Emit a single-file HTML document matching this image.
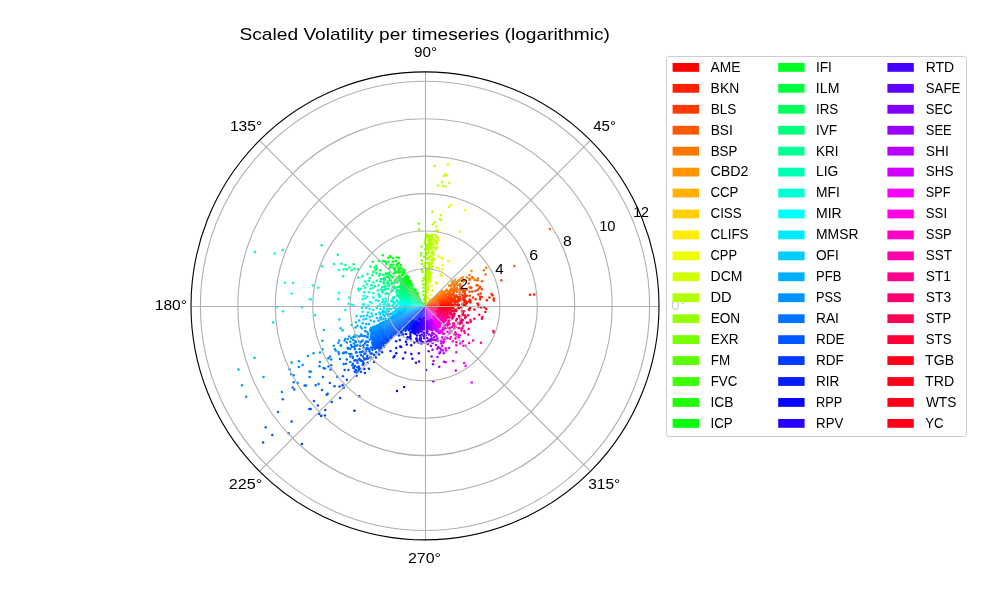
<!DOCTYPE html><html><head><meta charset="utf-8"><style>html,body{margin:0;padding:0;background:#fff;overflow:hidden}svg{display:block;will-change:transform}text{font-family:"Liberation Sans",sans-serif;fill:#000}</style></head><body><svg width="1000" height="600" viewBox="0 0 1000 600"><rect x="0" y="0" width="1000" height="600" fill="#fff"/><g><path d="M425.00 305.90 L446.00 305.95 L446.00 305.72 L446.00 305.48 Z" fill="#ff0c00"/><path d="M425.00 305.90 L446.00 305.59 L445.99 305.35 L445.99 305.11 Z" fill="#ff0c00"/><path d="M425.00 305.90 L445.99 305.22 L445.98 304.98 L445.97 304.75 Z" fill="#ff1200"/><path d="M425.00 305.90 L445.97 304.86 L445.96 304.62 L445.94 304.38 Z" fill="#ff1800"/><path d="M425.00 305.90 L445.95 304.49 L445.94 304.25 L445.92 304.01 Z" fill="#ff1800"/><path d="M425.00 305.90 L445.92 304.12 L445.90 303.89 L445.88 303.65 Z" fill="#ff1e00"/><path d="M425.00 305.90 L445.89 303.76 L445.87 303.52 L445.84 303.29 Z" fill="#ff1e00"/><path d="M425.00 305.90 L445.85 303.40 L445.82 303.16 L445.79 302.92 Z" fill="#ff2300"/><path d="M425.00 305.90 L445.80 303.03 L445.77 302.80 L445.73 302.56 Z" fill="#ff2300"/><path d="M425.00 305.90 L445.75 302.67 L445.71 302.43 L445.67 302.20 Z" fill="#ff2900"/><path d="M425.00 305.90 L445.69 302.31 L445.65 302.07 L445.60 301.84 Z" fill="#ff2900"/><path d="M425.00 305.90 L445.62 301.95 L445.58 301.71 L445.53 301.48 Z" fill="#ff2f00"/><path d="M425.00 305.90 L445.55 301.59 L445.50 301.35 L445.45 301.12 Z" fill="#ff3500"/><path d="M425.00 305.90 L445.47 301.23 L445.42 301.00 L445.36 300.77 Z" fill="#ff3500"/><path d="M425.00 305.90 L445.39 300.87 L445.33 300.64 L445.27 300.41 Z" fill="#ff3b00"/><path d="M425.00 305.90 L445.30 300.52 L445.17 300.31 L445.04 300.10 Z" fill="#ff3b00"/><path d="M425.00 305.90 L445.07 300.20 L444.94 299.99 L444.81 299.79 Z" fill="#ff4100"/><path d="M425.00 305.90 L444.84 299.89 L444.71 299.69 L444.58 299.48 Z" fill="#ff4100"/><path d="M425.00 305.90 L444.61 299.59 L444.47 299.38 L444.33 299.19 Z" fill="#ff4700"/><path d="M425.00 305.90 L444.37 299.29 L444.23 299.09 L444.09 298.90 Z" fill="#ff4700"/><path d="M425.00 305.90 L444.13 299.00 L443.98 298.80 L443.84 298.61 Z" fill="#ff4d00"/><path d="M425.00 305.90 L443.88 298.71 L443.73 298.52 L443.59 298.33 Z" fill="#ff5300"/><path d="M425.00 305.90 L443.63 298.43 L443.48 298.25 L443.33 298.06 Z" fill="#ff5300"/><path d="M425.00 305.90 L443.37 298.16 L443.22 297.98 L443.07 297.80 Z" fill="#ff5900"/><path d="M425.00 305.90 L443.11 297.89 L442.96 297.72 L442.80 297.54 Z" fill="#ff5900"/><path d="M425.00 305.90 L442.85 297.64 L442.69 297.46 L442.53 297.29 Z" fill="#ff5f00"/><path d="M425.00 305.90 L442.58 297.38 L442.42 297.21 L442.26 297.05 Z" fill="#ff5f00"/><path d="M425.00 305.90 L442.31 297.14 L442.15 296.97 L441.99 296.81 Z" fill="#ff6400"/><path d="M425.00 305.90 L442.04 296.90 L441.87 296.74 L441.71 296.58 Z" fill="#ff6400"/><path d="M425.00 305.90 L441.76 296.67 L441.59 296.51 L441.43 296.36 Z" fill="#ff6a00"/><path d="M425.00 305.90 L441.48 296.44 L441.25 296.33 L441.02 296.22 Z" fill="#ff7000"/><path d="M425.00 305.90 L441.07 296.30 L440.83 296.20 L440.60 296.09 Z" fill="#ff7000"/><path d="M425.00 305.90 L440.65 296.18 L440.42 296.08 L440.19 295.98 Z" fill="#ff7600"/><path d="M425.00 305.90 L440.24 296.06 L440.01 295.97 L439.78 295.88 Z" fill="#ff7600"/><path d="M425.00 305.90 L439.83 295.95 L439.60 295.87 L439.37 295.78 Z" fill="#ff7c00"/><path d="M425.00 305.90 L439.42 295.86 L439.19 295.78 L438.96 295.70 Z" fill="#ff7c00"/><path d="M425.00 305.90 L439.01 295.78 L438.78 295.70 L438.55 295.63 Z" fill="#ff8200"/><path d="M425.00 305.90 L438.60 295.70 L437.83 296.06 L437.06 296.43 Z" fill="#ff8200"/><path d="M425.00 305.90 L437.11 296.49 L436.35 296.87 L435.60 297.27 Z" fill="#ff8800"/><path d="M425.00 305.90 L435.64 297.33 L434.90 297.74 L434.17 298.16 Z" fill="#ff8800"/><path d="M425.00 305.90 L434.21 298.21 L432.41 299.57 L430.65 300.96 Z" fill="#ff8e00"/><path d="M425.00 305.90 L430.67 300.99 L428.93 302.42 L427.22 303.89 Z" fill="#ff9400"/><path d="M425.00 305.90 L427.23 303.90 L427.21 303.87 L427.19 303.85 Z" fill="#ff9400"/><path d="M425.00 305.90 L427.20 303.86 L427.18 303.83 L427.15 303.81 Z" fill="#ff9a00"/><path d="M425.00 305.90 L427.16 303.82 L427.14 303.80 L427.12 303.77 Z" fill="#ff9a00"/><path d="M425.00 305.90 L427.13 303.78 L427.10 303.76 L427.08 303.74 Z" fill="#ff9f00"/><path d="M425.00 305.90 L427.09 303.75 L427.07 303.72 L427.04 303.70 Z" fill="#ffa500"/><path d="M425.00 305.90 L427.05 303.71 L427.03 303.69 L427.00 303.67 Z" fill="#ffa500"/><path d="M425.00 305.90 L427.01 303.68 L426.99 303.65 L426.96 303.63 Z" fill="#ffab00"/><path d="M425.00 305.90 L426.97 303.64 L426.95 303.62 L426.92 303.60 Z" fill="#ffb100"/><path d="M425.00 305.90 L426.93 303.61 L426.91 303.59 L426.88 303.56 Z" fill="#ffb700"/><path d="M425.00 305.90 L426.89 303.57 L426.87 303.55 L426.84 303.53 Z" fill="#ffb700"/><path d="M425.00 305.90 L426.85 303.54 L426.83 303.52 L426.80 303.50 Z" fill="#ffbd00"/><path d="M425.00 305.90 L426.81 303.51 L426.78 303.49 L426.76 303.47 Z" fill="#ffc300"/><path d="M425.00 305.90 L426.77 303.48 L426.74 303.46 L426.71 303.44 Z" fill="#ffc900"/><path d="M425.00 305.90 L426.73 303.45 L426.70 303.43 L426.67 303.41 Z" fill="#ffc900"/><path d="M425.00 305.90 L426.68 303.42 L426.66 303.40 L426.63 303.38 Z" fill="#ffcf00"/><path d="M425.00 305.90 L426.64 303.39 L426.61 303.37 L426.58 303.35 Z" fill="#ffd500"/><path d="M425.00 305.90 L426.60 303.36 L426.57 303.34 L426.54 303.32 Z" fill="#ffdb00"/><path d="M425.00 305.90 L426.55 303.33 L426.52 303.32 L426.49 303.30 Z" fill="#ffdb00"/><path d="M425.00 305.90 L426.51 303.31 L426.48 303.29 L426.45 303.27 Z" fill="#ffe000"/><path d="M425.00 305.90 L426.46 303.28 L426.43 303.26 L426.40 303.25 Z" fill="#ffe600"/><path d="M425.00 305.90 L426.42 303.25 L426.39 303.24 L426.35 303.22 Z" fill="#ffec00"/><path d="M425.00 305.90 L426.37 303.23 L426.34 303.22 L426.31 303.20 Z" fill="#ffec00"/><path d="M425.00 305.90 L426.32 303.21 L426.29 303.19 L426.26 303.18 Z" fill="#fef100"/><path d="M425.00 305.90 L426.27 303.18 L426.24 303.17 L426.21 303.16 Z" fill="#fcf500"/><path d="M425.00 305.90 L426.23 303.16 L426.20 303.15 L426.16 303.14 Z" fill="#fcf500"/><path d="M425.00 305.90 L426.18 303.14 L426.15 303.13 L426.12 303.12 Z" fill="#faf900"/><path d="M425.00 305.90 L426.13 303.12 L426.10 303.11 L426.07 303.10 Z" fill="#f8fd00"/><path d="M425.00 305.90 L426.08 303.10 L426.05 303.09 L426.02 303.08 Z" fill="#f4ff00"/><path d="M425.00 305.90 L426.03 303.08 L426.00 303.07 L425.97 303.06 Z" fill="#f4ff00"/><path d="M425.00 305.90 L425.98 303.07 L425.95 303.06 L425.92 303.04 Z" fill="#eeff00"/><path d="M425.00 305.90 L425.93 303.05 L425.90 303.04 L425.87 303.03 Z" fill="#e8ff00"/><path d="M425.00 305.90 L425.88 303.03 L425.85 303.02 L425.82 303.01 Z" fill="#e2ff00"/><path d="M425.00 305.90 L425.83 303.02 L425.80 303.01 L425.77 303.00 Z" fill="#e2ff00"/><path d="M425.00 305.90 L425.78 303.00 L425.75 303.00 L425.72 302.99 Z" fill="#ddff00"/><path d="M425.00 305.90 L425.73 302.99 L425.70 302.98 L425.67 302.98 Z" fill="#d7ff00"/><path d="M425.00 305.90 L425.68 302.98 L425.65 302.97 L425.62 302.96 Z" fill="#d1ff00"/><path d="M425.00 305.90 L425.63 302.97 L425.85 301.74 L426.04 300.50 Z" fill="#d1ff00"/><path d="M425.00 305.90 L426.06 300.50 L426.23 299.26 L426.37 298.02 Z" fill="#cbff00"/><path d="M425.00 305.90 L426.41 298.03 L427.31 292.09 L428.08 286.14 Z" fill="#c5ff00"/><path d="M425.00 305.90 L428.18 286.15 L428.84 280.19 L429.37 274.20 Z" fill="#bfff00"/><path d="M425.00 305.90 L429.54 274.22 L429.18 274.17 L428.82 274.13 Z" fill="#bfff00"/><path d="M425.00 305.90 L428.98 274.15 L428.62 274.11 L428.26 274.07 Z" fill="#b9ff00"/><path d="M425.00 305.90 L428.43 274.08 L428.07 274.05 L427.71 274.01 Z" fill="#b3ff00"/><path d="M425.00 305.90 L427.87 274.03 L427.51 274.00 L427.15 273.97 Z" fill="#adff00"/><path d="M425.00 305.90 L427.32 273.98 L426.95 273.96 L426.59 273.94 Z" fill="#adff00"/><path d="M425.00 305.90 L426.76 273.95 L426.40 273.93 L426.03 273.92 Z" fill="#a7ff00"/><path d="M425.00 305.90 L426.20 273.92 L425.63 281.91 L425.24 289.90 Z" fill="#a2ff00"/><path d="M425.00 305.90 L425.32 289.90 L425.07 297.90 L424.99 300.40 Z" fill="#9cff00"/><path d="M425.00 305.90 L425.01 300.40 L424.97 302.90 L424.94 302.90 Z" fill="#9cff00"/><path d="M425.00 305.90 L424.96 302.90 L424.92 302.90 L424.89 302.90 Z" fill="#96ff00"/><path d="M425.00 305.90 L424.90 302.90 L424.87 302.90 L424.84 302.90 Z" fill="#90ff00"/><path d="M425.00 305.90 L424.85 302.90 L424.82 302.91 L424.78 302.91 Z" fill="#8aff00"/><path d="M425.00 305.90 L424.80 302.91 L424.76 302.91 L424.73 302.91 Z" fill="#84ff00"/><path d="M425.00 305.90 L424.75 302.91 L424.71 302.91 L424.68 302.92 Z" fill="#7eff00"/><path d="M425.00 305.90 L424.69 302.92 L424.66 302.92 L424.63 302.92 Z" fill="#78ff00"/><path d="M425.00 305.90 L424.64 302.92 L424.61 302.93 L424.57 302.93 Z" fill="#72ff00"/><path d="M425.00 305.90 L424.59 302.93 L424.56 302.93 L424.52 302.94 Z" fill="#6cff00"/><path d="M425.00 305.90 L424.54 302.94 L424.50 302.94 L424.47 302.95 Z" fill="#6cff00"/><path d="M425.00 305.90 L424.49 302.94 L424.45 302.95 L424.42 302.96 Z" fill="#66ff00"/><path d="M425.00 305.90 L424.44 302.95 L424.40 302.96 L424.37 302.97 Z" fill="#61ff00"/><path d="M425.00 305.90 L424.38 302.96 L424.35 302.97 L424.32 302.98 Z" fill="#5bff00"/><path d="M425.00 305.90 L424.33 302.98 L424.30 302.98 L424.27 302.99 Z" fill="#55ff00"/><path d="M425.00 305.90 L424.28 302.99 L424.25 303.00 L424.22 303.00 Z" fill="#4fff00"/><path d="M425.00 305.90 L424.23 303.00 L424.20 303.01 L424.17 303.02 Z" fill="#49ff00"/><path d="M425.00 305.90 L424.18 303.01 L424.15 303.02 L424.12 303.03 Z" fill="#43ff00"/><path d="M425.00 305.90 L424.13 303.03 L424.10 303.04 L424.07 303.05 Z" fill="#3dff00"/><path d="M425.00 305.90 L424.08 303.04 L424.05 303.06 L424.02 303.07 Z" fill="#3dff00"/><path d="M425.00 305.90 L424.03 303.06 L424.00 303.07 L423.97 303.08 Z" fill="#37ff00"/><path d="M425.00 305.90 L423.98 303.08 L423.95 303.09 L423.92 303.10 Z" fill="#31ff00"/><path d="M425.00 305.90 L423.93 303.10 L423.90 303.11 L423.87 303.12 Z" fill="#2bff00"/><path d="M425.00 305.90 L423.88 303.12 L423.85 303.13 L423.82 303.14 Z" fill="#25ff00"/><path d="M425.00 305.90 L423.84 303.14 L423.80 303.15 L423.77 303.16 Z" fill="#20ff00"/><path d="M425.00 305.90 L423.79 303.16 L423.76 303.17 L423.73 303.18 Z" fill="#1aff00"/><path d="M425.00 305.90 L423.74 303.18 L423.71 303.19 L423.68 303.21 Z" fill="#14ff00"/><path d="M425.00 305.90 L423.69 303.20 L423.66 303.22 L423.63 303.23 Z" fill="#0eff00"/><path d="M425.00 305.90 L423.65 303.22 L423.61 303.24 L423.58 303.25 Z" fill="#08ff00"/><path d="M425.00 305.90 L423.60 303.25 L423.57 303.26 L423.54 303.28 Z" fill="#08ff00"/><path d="M425.00 305.90 L423.55 303.27 L423.52 303.29 L423.49 303.31 Z" fill="#06ff04"/><path d="M425.00 305.90 L423.51 303.30 L418.74 295.27 L413.79 287.36 Z" fill="#04ff08"/><path d="M425.00 305.90 L413.89 287.30 L408.80 279.47 L408.50 279.65 Z" fill="#02ff0c"/><path d="M425.00 305.90 L408.64 279.57 L408.34 279.75 L408.05 279.95 Z" fill="#00ff10"/><path d="M425.00 305.90 L408.18 279.86 L407.89 280.05 L407.60 280.25 Z" fill="#00ff10"/><path d="M425.00 305.90 L407.73 280.15 L407.44 280.35 L407.15 280.55 Z" fill="#00ff16"/><path d="M425.00 305.90 L407.29 280.46 L407.00 280.66 L406.71 280.87 Z" fill="#00ff1b"/><path d="M425.00 305.90 L406.84 280.77 L406.56 280.98 L406.28 281.19 Z" fill="#00ff21"/><path d="M425.00 305.90 L406.41 281.09 L406.13 281.31 L405.85 281.52 Z" fill="#00ff21"/><path d="M425.00 305.90 L405.98 281.42 L405.70 281.64 L405.43 281.86 Z" fill="#00ff27"/><path d="M425.00 305.90 L405.55 281.76 L405.28 281.98 L405.01 282.20 Z" fill="#00ff2d"/><path d="M425.00 305.90 L405.14 282.10 L404.87 282.33 L404.60 282.56 Z" fill="#00ff33"/><path d="M425.00 305.90 L404.72 282.45 L404.46 282.68 L404.20 282.92 Z" fill="#00ff33"/><path d="M425.00 305.90 L404.32 282.81 L404.06 283.04 L403.80 283.28 Z" fill="#00ff39"/><path d="M425.00 305.90 L403.92 283.17 L403.66 283.41 L403.41 283.66 Z" fill="#00ff3f"/><path d="M425.00 305.90 L403.52 283.54 L403.27 283.79 L403.02 284.04 Z" fill="#00ff3f"/><path d="M425.00 305.90 L403.14 283.92 L403.03 284.31 L402.93 284.70 Z" fill="#00ff45"/><path d="M425.00 305.90 L403.04 284.59 L402.95 284.97 L402.86 285.36 Z" fill="#00ff4b"/><path d="M425.00 305.90 L402.97 285.25 L402.88 285.63 L402.80 286.02 Z" fill="#00ff51"/><path d="M425.00 305.90 L402.91 285.90 L402.83 286.29 L402.76 286.67 Z" fill="#00ff51"/><path d="M425.00 305.90 L402.86 286.55 L402.80 286.94 L402.74 287.32 Z" fill="#00ff57"/><path d="M425.00 305.90 L402.83 287.20 L402.78 287.58 L402.73 287.96 Z" fill="#00ff5c"/><path d="M425.00 305.90 L402.82 287.84 L402.77 288.22 L402.73 288.60 Z" fill="#00ff5c"/><path d="M425.00 305.90 L402.82 288.48 L402.79 288.85 L402.75 289.23 Z" fill="#00ff62"/><path d="M425.00 305.90 L402.84 289.11 L402.81 289.48 L402.79 289.85 Z" fill="#00ff68"/><path d="M425.00 305.90 L402.88 289.74 L402.86 290.10 L402.84 290.47 Z" fill="#00ff6e"/><path d="M425.00 305.90 L402.92 290.36 L402.91 290.72 L402.91 291.08 Z" fill="#00ff6e"/><path d="M425.00 305.90 L402.99 290.97 L402.99 291.33 L402.99 291.69 Z" fill="#00ff74"/><path d="M425.00 305.90 L403.06 291.57 L403.07 291.93 L403.08 292.29 Z" fill="#00ff7a"/><path d="M425.00 305.90 L403.16 292.17 L403.17 292.52 L403.19 292.88 Z" fill="#00ff7a"/><path d="M425.00 305.90 L403.26 292.76 L403.29 293.11 L403.32 293.46 Z" fill="#00ff80"/><path d="M425.00 305.90 L403.38 293.34 L403.36 293.66 L403.34 293.97 Z" fill="#00ff86"/><path d="M425.00 305.90 L403.40 293.85 L403.38 294.16 L403.37 294.47 Z" fill="#00ff8c"/><path d="M425.00 305.90 L403.43 294.36 L403.42 294.66 L403.41 294.97 Z" fill="#00ff8c"/><path d="M425.00 305.90 L403.47 294.86 L403.46 295.16 L403.46 295.46 Z" fill="#00ff92"/><path d="M425.00 305.90 L403.52 295.35 L403.52 295.65 L403.52 295.95 Z" fill="#00ff97"/><path d="M425.00 305.90 L403.58 295.84 L403.59 296.14 L403.60 296.44 Z" fill="#00ff97"/><path d="M425.00 305.90 L403.65 296.33 L403.66 296.62 L403.68 296.92 Z" fill="#00ff9d"/><path d="M425.00 305.90 L403.73 296.81 L403.75 297.10 L403.78 297.39 Z" fill="#00ffa3"/><path d="M425.00 305.90 L403.82 297.28 L403.85 297.57 L403.88 297.86 Z" fill="#00ffa9"/><path d="M425.00 305.90 L403.92 297.75 L403.96 298.03 L403.99 298.32 Z" fill="#00ffa9"/><path d="M425.00 305.90 L404.03 298.21 L404.07 298.49 L404.12 298.77 Z" fill="#00ffaf"/><path d="M425.00 305.90 L404.15 298.66 L404.20 298.94 L404.25 299.22 Z" fill="#00ffb5"/><path d="M425.00 305.90 L404.28 299.11 L404.34 299.38 L404.39 299.66 Z" fill="#00ffbb"/><path d="M425.00 305.90 L404.42 299.55 L404.48 299.82 L404.54 300.09 Z" fill="#00ffbb"/><path d="M425.00 305.90 L404.57 299.98 L404.64 300.25 L404.70 300.52 Z" fill="#00ffc1"/><path d="M425.00 305.90 L404.73 300.41 L404.67 300.64 L404.61 300.87 Z" fill="#00ffc7"/><path d="M425.00 305.90 L404.64 300.77 L404.58 301.00 L404.53 301.23 Z" fill="#00ffc7"/><path d="M425.00 305.90 L404.55 301.12 L404.50 301.35 L404.45 301.59 Z" fill="#00ffcd"/><path d="M425.00 305.90 L404.47 301.48 L404.42 301.71 L404.38 301.95 Z" fill="#00ffd3"/><path d="M425.00 305.90 L404.40 301.84 L404.35 302.07 L404.31 302.31 Z" fill="#00ffd8"/><path d="M425.00 305.90 L404.33 302.20 L404.29 302.43 L404.25 302.67 Z" fill="#00ffd8"/><path d="M425.00 305.90 L404.27 302.56 L404.23 302.80 L404.20 303.03 Z" fill="#00ffde"/><path d="M425.00 305.90 L404.21 302.92 L404.18 303.16 L404.15 303.40 Z" fill="#00ffe4"/><path d="M425.00 305.90 L404.16 303.29 L404.13 303.52 L404.11 303.76 Z" fill="#00ffe4"/><path d="M425.00 305.90 L404.12 303.65 L404.10 303.89 L404.08 304.12 Z" fill="#00ffea"/><path d="M425.00 305.90 L404.08 304.01 L404.06 304.25 L404.05 304.49 Z" fill="#00fff0"/><path d="M425.00 305.90 L404.06 304.38 L404.04 304.62 L404.03 304.86 Z" fill="#00fff6"/><path d="M425.00 305.90 L404.03 304.75 L404.02 304.98 L404.01 305.22 Z" fill="#00fff6"/><path d="M425.00 305.90 L404.01 305.11 L404.01 305.35 L404.00 305.59 Z" fill="#00fffc"/><path d="M425.00 305.90 L404.00 305.48 L404.00 305.72 L404.00 305.95 Z" fill="#00fcff"/><path d="M425.00 305.90 L404.00 305.85 L403.93 306.08 L403.87 306.32 Z" fill="#00fcff"/><path d="M425.00 305.90 L403.87 306.21 L403.81 306.45 L403.75 306.70 Z" fill="#00f6ff"/><path d="M425.00 305.90 L403.74 306.59 L403.69 306.83 L403.63 307.08 Z" fill="#00f0ff"/><path d="M425.00 305.90 L403.63 306.96 L403.57 307.21 L403.52 307.46 Z" fill="#00eaff"/><path d="M425.00 305.90 L403.52 307.35 L403.47 307.59 L403.42 307.84 Z" fill="#00eaff"/><path d="M425.00 305.90 L403.41 307.73 L403.37 307.98 L403.33 308.24 Z" fill="#00e5ff"/><path d="M425.00 305.90 L403.31 308.12 L403.27 308.38 L403.24 308.63 Z" fill="#00dfff"/><path d="M425.00 305.90 L403.22 308.52 L403.19 308.77 L403.16 309.03 Z" fill="#00dfff"/><path d="M425.00 305.90 L403.14 308.91 L403.11 309.17 L403.08 309.43 Z" fill="#00d9ff"/><path d="M425.00 305.90 L403.06 309.32 L403.04 309.58 L403.02 309.84 Z" fill="#00d3ff"/><path d="M425.00 305.90 L403.00 309.72 L402.98 309.98 L402.96 310.24 Z" fill="#00cdff"/><path d="M425.00 305.90 L402.93 310.13 L402.92 310.39 L402.91 310.66 Z" fill="#00cdff"/><path d="M425.00 305.90 L402.88 310.54 L402.87 310.81 L402.86 311.07 Z" fill="#00c7ff"/><path d="M425.00 305.90 L402.84 310.96 L402.83 311.22 L402.83 311.49 Z" fill="#00c1ff"/><path d="M425.00 305.90 L402.80 311.37 L402.80 311.64 L402.80 311.91 Z" fill="#00bbff"/><path d="M425.00 305.90 L402.77 311.79 L401.58 312.39 L400.41 313.02 Z" fill="#00bbff"/><path d="M425.00 305.90 L400.37 312.89 L399.21 313.54 L398.05 314.22 Z" fill="#00b5ff"/><path d="M425.00 305.90 L398.01 314.07 L396.87 314.77 L395.73 315.49 Z" fill="#00afff"/><path d="M425.00 305.90 L395.68 315.34 L394.56 316.09 L393.45 316.86 Z" fill="#00afff"/><path d="M425.00 305.90 L393.39 316.69 L392.29 317.48 L391.20 318.30 Z" fill="#00aaff"/><path d="M425.00 305.90 L391.14 318.12 L388.16 319.67 L385.21 321.29 Z" fill="#00a4ff"/><path d="M425.00 305.90 L385.13 321.09 L382.20 322.76 L379.31 324.50 Z" fill="#009eff"/><path d="M425.00 305.90 L379.21 324.26 L376.34 326.05 L373.51 327.92 Z" fill="#009eff"/><path d="M425.00 305.90 L373.39 327.65 L373.46 328.31 L373.54 328.97 Z" fill="#0098ff"/><path d="M425.00 305.90 L373.42 328.70 L373.50 329.37 L373.58 330.04 Z" fill="#0092ff"/><path d="M425.00 305.90 L373.46 329.77 L373.55 330.44 L373.65 331.11 Z" fill="#0092ff"/><path d="M425.00 305.90 L373.52 330.84 L373.63 331.51 L373.75 332.18 Z" fill="#008cff"/><path d="M425.00 305.90 L373.61 331.92 L373.73 332.59 L373.86 333.26 Z" fill="#0086ff"/><path d="M425.00 305.90 L373.72 333.00 L373.85 333.67 L374.00 334.35 Z" fill="#0080ff"/><path d="M425.00 305.90 L373.85 334.08 L374.00 334.76 L374.15 335.43 Z" fill="#0080ff"/><path d="M425.00 305.90 L374.00 335.17 L374.16 335.84 L374.34 336.52 Z" fill="#007aff"/><path d="M425.00 305.90 L374.18 336.26 L374.35 336.94 L374.54 337.62 Z" fill="#0074ff"/><path d="M425.00 305.90 L374.37 337.35 L374.57 338.03 L374.77 338.71 Z" fill="#0074ff"/><path d="M425.00 305.90 L374.59 338.45 L374.80 339.13 L375.01 339.81 Z" fill="#006eff"/><path d="M425.00 305.90 L374.84 339.54 L375.06 340.22 L375.29 340.90 Z" fill="#006eff"/><path d="M425.00 305.90 L375.10 340.64 L375.34 341.32 L375.58 342.00 Z" fill="#0069ff"/><path d="M425.00 305.90 L375.39 341.74 L375.64 342.42 L375.90 343.10 Z" fill="#0063ff"/><path d="M425.00 305.90 L375.71 342.84 L375.97 343.52 L376.24 344.20 Z" fill="#0063ff"/><path d="M425.00 305.90 L376.04 343.94 L376.63 344.37 L377.23 344.79 Z" fill="#005dff"/><path d="M425.00 305.90 L377.03 344.54 L377.62 344.96 L378.22 345.36 Z" fill="#0057ff"/><path d="M425.00 305.90 L378.02 345.12 L378.62 345.52 L379.22 345.91 Z" fill="#0057ff"/><path d="M425.00 305.90 L379.01 345.67 L379.61 346.05 L380.22 346.43 Z" fill="#0051ff"/><path d="M425.00 305.90 L380.01 346.20 L380.62 346.57 L381.23 346.93 Z" fill="#0051ff"/><path d="M425.00 305.90 L381.01 346.70 L387.64 341.35 L394.15 335.85 Z" fill="#004bff"/><path d="M425.00 305.90 L393.99 335.69 L400.39 330.08 L406.66 324.33 Z" fill="#0045ff"/><path d="M425.00 305.90 L406.57 324.24 L406.83 324.39 L407.09 324.54 Z" fill="#0045ff"/><path d="M425.00 305.90 L406.99 324.45 L407.26 324.60 L407.52 324.74 Z" fill="#003fff"/><path d="M425.00 305.90 L407.42 324.65 L407.69 324.79 L407.95 324.93 Z" fill="#003fff"/><path d="M425.00 305.90 L407.85 324.84 L408.12 324.98 L408.39 325.11 Z" fill="#0039ff"/><path d="M425.00 305.90 L408.29 325.03 L408.55 325.16 L408.82 325.29 Z" fill="#0033ff"/><path d="M425.00 305.90 L408.72 325.20 L408.99 325.33 L409.26 325.45 Z" fill="#0033ff"/><path d="M425.00 305.90 L409.15 325.36 L409.42 325.48 L409.69 325.60 Z" fill="#002dff"/><path d="M425.00 305.90 L409.59 325.52 L409.86 325.63 L410.13 325.75 Z" fill="#0028ff"/><path d="M425.00 305.90 L410.02 325.67 L410.29 325.78 L410.56 325.88 Z" fill="#0028ff"/><path d="M425.00 305.90 L410.46 325.80 L410.73 325.91 L411.00 326.01 Z" fill="#0022ff"/><path d="M425.00 305.90 L410.89 325.93 L411.17 326.03 L411.44 326.12 Z" fill="#0022ff"/><path d="M425.00 305.90 L411.33 326.05 L411.60 326.14 L411.87 326.23 Z" fill="#001cff"/><path d="M425.00 305.90 L411.77 326.16 L412.04 326.25 L412.31 326.33 Z" fill="#0016ff"/><path d="M425.00 305.90 L412.20 326.26 L412.47 326.34 L412.74 326.42 Z" fill="#0016ff"/><path d="M425.00 305.90 L412.64 326.35 L412.91 326.43 L413.18 326.50 Z" fill="#0010ff"/><path d="M425.00 305.90 L413.07 326.44 L413.34 326.51 L413.61 326.57 Z" fill="#0010ff"/><path d="M425.00 305.90 L413.50 326.51 L413.77 326.57 L414.05 326.63 Z" fill="#020cff"/><path d="M425.00 305.90 L413.94 326.58 L414.21 326.63 L414.48 326.69 Z" fill="#0408ff"/><path d="M425.00 305.90 L414.37 326.63 L414.64 326.68 L414.91 326.73 Z" fill="#0408ff"/><path d="M425.00 305.90 L414.80 326.68 L415.07 326.73 L415.33 326.77 Z" fill="#0604ff"/><path d="M425.00 305.90 L415.23 326.72 L415.50 326.76 L415.76 326.79 Z" fill="#0800ff"/><path d="M425.00 305.90 L415.66 326.74 L415.92 326.77 L416.19 326.80 Z" fill="#0800ff"/><path d="M425.00 305.90 L416.08 326.75 L416.35 326.78 L416.62 326.80 Z" fill="#0e00ff"/><path d="M425.00 305.90 L416.51 326.76 L416.78 326.78 L417.04 326.80 Z" fill="#0e00ff"/><path d="M425.00 305.90 L416.93 326.75 L417.20 326.77 L417.46 326.78 Z" fill="#1300ff"/><path d="M425.00 305.90 L417.35 326.74 L417.62 326.75 L417.88 326.76 Z" fill="#1900ff"/><path d="M425.00 305.90 L417.77 326.72 L418.03 326.73 L418.29 326.73 Z" fill="#1900ff"/><path d="M425.00 305.90 L418.18 326.69 L418.44 326.69 L418.70 326.69 Z" fill="#1f00ff"/><path d="M425.00 305.90 L418.60 326.65 L418.85 326.65 L419.11 326.64 Z" fill="#1f00ff"/><path d="M425.00 305.90 L419.00 326.61 L419.26 326.60 L419.52 326.59 Z" fill="#2500ff"/><path d="M425.00 305.90 L419.41 326.56 L419.66 326.54 L419.92 326.52 Z" fill="#2b00ff"/><path d="M425.00 305.90 L419.81 326.50 L420.06 326.48 L420.31 326.45 Z" fill="#2b00ff"/><path d="M425.00 305.90 L420.20 326.43 L420.45 326.40 L420.70 326.37 Z" fill="#3100ff"/><path d="M425.00 305.90 L420.60 326.35 L420.85 326.32 L421.09 326.29 Z" fill="#3700ff"/><path d="M425.00 305.90 L420.99 326.27 L421.23 326.23 L421.48 326.20 Z" fill="#3700ff"/><path d="M425.00 305.90 L421.37 326.18 L421.61 326.14 L421.86 326.10 Z" fill="#3d00ff"/><path d="M425.00 305.90 L421.75 326.08 L421.99 326.04 L422.23 325.99 Z" fill="#3d00ff"/><path d="M425.00 305.90 L422.13 325.98 L422.36 325.93 L422.60 325.88 Z" fill="#4300ff"/><path d="M425.00 305.90 L422.50 325.86 L422.73 325.81 L422.97 325.76 Z" fill="#4900ff"/><path d="M425.00 305.90 L422.86 325.75 L423.09 325.69 L423.33 325.63 Z" fill="#4900ff"/><path d="M425.00 305.90 L423.22 325.62 L423.45 325.56 L423.68 325.50 Z" fill="#4f00ff"/><path d="M425.00 305.90 L423.58 325.49 L423.81 325.42 L424.03 325.36 Z" fill="#4f00ff"/><path d="M425.00 305.90 L423.93 325.35 L424.15 325.28 L424.38 325.21 Z" fill="#5400ff"/><path d="M425.00 305.90 L424.28 325.21 L424.50 325.13 L424.72 325.06 Z" fill="#5a00ff"/><path d="M425.00 305.90 L424.62 325.06 L424.83 324.98 L425.05 324.90 Z" fill="#5a00ff"/><path d="M425.00 305.90 L424.95 324.90 L425.17 324.93 L425.38 324.96 Z" fill="#6000ff"/><path d="M425.00 305.90 L425.28 324.96 L425.50 324.99 L425.72 325.02 Z" fill="#6600ff"/><path d="M425.00 305.90 L425.62 325.02 L425.84 325.05 L426.06 325.07 Z" fill="#6c00ff"/><path d="M425.00 305.90 L425.95 325.08 L426.17 325.10 L426.39 325.12 Z" fill="#6c00ff"/><path d="M425.00 305.90 L426.29 325.12 L426.51 325.14 L426.74 325.16 Z" fill="#7200ff"/><path d="M425.00 305.90 L426.63 325.16 L426.86 325.18 L427.08 325.19 Z" fill="#7800ff"/><path d="M425.00 305.90 L426.98 325.20 L427.20 325.21 L427.42 325.22 Z" fill="#7e00ff"/><path d="M425.00 305.90 L427.32 325.23 L427.55 325.23 L427.77 325.24 Z" fill="#8400ff"/><path d="M425.00 305.90 L427.67 325.25 L427.89 325.25 L428.12 325.25 Z" fill="#8a00ff"/><path d="M425.00 305.90 L428.02 325.27 L428.24 325.26 L428.47 325.26 Z" fill="#8a00ff"/><path d="M425.00 305.90 L428.36 325.28 L428.59 325.27 L428.82 325.26 Z" fill="#9000ff"/><path d="M425.00 305.90 L428.71 325.28 L428.94 325.27 L429.17 325.26 Z" fill="#9500ff"/><path d="M425.00 305.90 L429.07 325.28 L429.29 325.26 L429.52 325.25 Z" fill="#9b00ff"/><path d="M425.00 305.90 L429.42 325.27 L429.65 325.25 L429.87 325.23 Z" fill="#a100ff"/><path d="M425.00 305.90 L429.77 325.25 L430.00 325.23 L430.23 325.20 Z" fill="#a100ff"/><path d="M425.00 305.90 L430.13 325.23 L430.35 325.20 L430.58 325.17 Z" fill="#a700ff"/><path d="M425.00 305.90 L430.48 325.20 L430.71 325.17 L430.94 325.14 Z" fill="#ad00ff"/><path d="M425.00 305.90 L430.84 325.17 L431.06 325.13 L431.29 325.09 Z" fill="#b300ff"/><path d="M425.00 305.90 L431.19 325.13 L431.42 325.09 L431.65 325.05 Z" fill="#b900ff"/><path d="M425.00 305.90 L431.55 325.08 L431.78 325.04 L432.00 324.99 Z" fill="#b900ff"/><path d="M425.00 305.90 L431.90 325.03 L432.13 324.98 L432.36 324.93 Z" fill="#bf00ff"/><path d="M425.00 305.90 L432.26 324.96 L432.49 324.91 L432.72 324.86 Z" fill="#c500ff"/><path d="M425.00 305.90 L432.62 324.90 L432.85 324.84 L433.07 324.78 Z" fill="#cb00ff"/><path d="M425.00 305.90 L432.97 324.82 L433.20 324.76 L433.43 324.70 Z" fill="#d000ff"/><path d="M425.00 305.90 L433.33 324.74 L433.56 324.68 L433.78 324.61 Z" fill="#d000ff"/><path d="M425.00 305.90 L433.69 324.65 L433.91 324.58 L434.14 324.51 Z" fill="#d600ff"/><path d="M425.00 305.90 L434.04 324.56 L434.27 324.48 L434.49 324.41 Z" fill="#dc00ff"/><path d="M425.00 305.90 L434.39 324.46 L434.62 324.38 L434.84 324.30 Z" fill="#e200ff"/><path d="M425.00 305.90 L434.75 324.35 L434.97 324.27 L435.20 324.18 Z" fill="#e800ff"/><path d="M425.00 305.90 L435.10 324.24 L435.32 324.15 L435.55 324.06 Z" fill="#e800ff"/><path d="M425.00 305.90 L435.45 324.11 L435.64 323.97 L435.83 323.82 Z" fill="#ee00ff"/><path d="M425.00 305.90 L435.73 323.87 L435.92 323.72 L436.10 323.57 Z" fill="#f400ff"/><path d="M425.00 305.90 L436.01 323.62 L436.19 323.47 L436.37 323.31 Z" fill="#f800fd"/><path d="M425.00 305.90 L436.28 323.37 L436.46 323.22 L436.64 323.06 Z" fill="#fa00f9"/><path d="M425.00 305.90 L436.55 323.12 L436.72 322.96 L436.90 322.80 Z" fill="#fa00f9"/><path d="M425.00 305.90 L436.81 322.86 L436.98 322.70 L437.15 322.53 Z" fill="#fc00f5"/><path d="M425.00 305.90 L437.06 322.60 L437.23 322.43 L437.40 322.27 Z" fill="#fe00f1"/><path d="M425.00 305.90 L437.31 322.33 L437.48 322.16 L437.64 321.99 Z" fill="#ff00ed"/><path d="M425.00 305.90 L437.56 322.06 L437.72 321.89 L437.88 321.72 Z" fill="#ff00e7"/><path d="M425.00 305.90 L437.80 321.79 L437.95 321.62 L438.11 321.44 Z" fill="#ff00e7"/><path d="M425.00 305.90 L438.03 321.51 L438.18 321.34 L438.34 321.16 Z" fill="#ff00e1"/><path d="M425.00 305.90 L438.26 321.23 L438.41 321.05 L438.56 320.88 Z" fill="#ff00db"/><path d="M425.00 305.90 L438.48 320.95 L438.62 320.77 L438.77 320.59 Z" fill="#ff00d5"/><path d="M425.00 305.90 L438.69 320.66 L438.84 320.48 L438.98 320.30 Z" fill="#ff00cf"/><path d="M425.00 305.90 L438.90 320.37 L439.04 320.19 L439.18 320.01 Z" fill="#ff00c9"/><path d="M425.00 305.90 L439.11 320.08 L439.24 319.89 L439.38 319.71 Z" fill="#ff00c9"/><path d="M425.00 305.90 L439.30 319.78 L439.43 319.60 L439.56 319.41 Z" fill="#ff00c3"/><path d="M425.00 305.90 L439.49 319.49 L439.62 319.30 L439.75 319.11 Z" fill="#ff00bd"/><path d="M425.00 305.90 L439.68 319.19 L439.80 319.00 L439.93 318.81 Z" fill="#ff00bd"/><path d="M425.00 305.90 L439.86 318.89 L439.98 318.69 L440.10 318.50 Z" fill="#ff00b7"/><path d="M425.00 305.90 L440.03 318.58 L440.15 318.39 L440.26 318.19 Z" fill="#ff00b1"/><path d="M425.00 305.90 L440.20 318.27 L440.31 318.08 L440.42 317.89 Z" fill="#ff00ac"/><path d="M425.00 305.90 L440.36 317.97 L440.47 317.77 L440.58 317.57 Z" fill="#ff00ac"/><path d="M425.00 305.90 L440.52 317.66 L440.62 317.46 L440.72 317.26 Z" fill="#ff00a6"/><path d="M425.00 305.90 L440.67 317.34 L440.77 317.15 L440.87 316.95 Z" fill="#ff00a0"/><path d="M425.00 305.90 L440.81 317.03 L440.91 316.83 L441.00 316.63 Z" fill="#ff009a"/><path d="M425.00 305.90 L440.94 316.72 L441.04 316.52 L441.13 316.31 Z" fill="#ff009a"/><path d="M425.00 305.90 L441.08 316.40 L441.17 316.20 L441.25 316.00 Z" fill="#ff0094"/><path d="M425.00 305.90 L441.20 316.08 L441.29 315.88 L441.37 315.68 Z" fill="#ff008e"/><path d="M425.00 305.90 L441.32 315.76 L441.40 315.56 L441.48 315.36 Z" fill="#ff008e"/><path d="M425.00 305.90 L441.43 315.44 L441.57 315.27 L441.70 315.10 Z" fill="#ff0088"/><path d="M425.00 305.90 L441.65 315.19 L441.79 315.01 L441.92 314.84 Z" fill="#ff0082"/><path d="M425.00 305.90 L441.87 314.93 L442.00 314.75 L442.13 314.57 Z" fill="#ff007c"/><path d="M425.00 305.90 L442.08 314.66 L442.21 314.48 L442.34 314.30 Z" fill="#ff007c"/><path d="M425.00 305.90 L442.29 314.39 L442.42 314.21 L442.54 314.02 Z" fill="#ff0076"/><path d="M425.00 305.90 L442.50 314.12 L442.62 313.93 L442.74 313.74 Z" fill="#ff0071"/><path d="M425.00 305.90 L442.70 313.84 L442.82 313.65 L442.94 313.46 Z" fill="#ff006b"/><path d="M425.00 305.90 L442.90 313.55 L443.02 313.36 L443.13 313.17 Z" fill="#ff006b"/><path d="M425.00 305.90 L443.09 313.26 L443.21 313.07 L443.32 312.88 Z" fill="#ff0065"/><path d="M425.00 305.90 L443.28 312.97 L443.39 312.78 L443.50 312.58 Z" fill="#ff005f"/><path d="M425.00 305.90 L443.46 312.67 L443.57 312.48 L443.67 312.28 Z" fill="#ff005f"/><path d="M425.00 305.90 L443.64 312.37 L443.75 312.17 L443.85 311.97 Z" fill="#ff0059"/><path d="M425.00 305.90 L443.81 312.07 L443.92 311.86 L444.01 311.66 Z" fill="#ff0053"/><path d="M425.00 305.90 L443.98 311.76 L444.08 311.55 L444.18 311.34 Z" fill="#ff004d"/><path d="M425.00 305.90 L444.15 311.44 L444.24 311.24 L444.33 311.03 Z" fill="#ff004d"/><path d="M425.00 305.90 L444.30 311.13 L444.40 310.92 L444.48 310.70 Z" fill="#ff0047"/><path d="M425.00 305.90 L444.46 310.81 L444.54 310.59 L444.63 310.38 Z" fill="#ff0041"/><path d="M425.00 305.90 L444.61 310.48 L444.69 310.26 L444.77 310.05 Z" fill="#ff003b"/><path d="M425.00 305.90 L444.75 310.15 L444.83 309.93 L444.90 309.71 Z" fill="#ff003b"/><path d="M425.00 305.90 L444.88 309.82 L444.96 309.60 L445.03 309.38 Z" fill="#ff0035"/><path d="M425.00 305.90 L445.02 309.48 L445.09 309.26 L445.16 309.04 Z" fill="#ff0030"/><path d="M425.00 305.90 L445.14 309.14 L445.21 308.92 L445.27 308.70 Z" fill="#ff0030"/><path d="M425.00 305.90 L445.26 308.80 L445.32 308.58 L445.39 308.35 Z" fill="#ff002a"/><path d="M425.00 305.90 L445.37 308.46 L445.43 308.23 L445.49 308.00 Z" fill="#ff0024"/><path d="M425.00 305.90 L445.48 308.11 L445.54 307.88 L445.59 307.65 Z" fill="#ff001e"/><path d="M425.00 305.90 L445.58 307.76 L445.64 307.52 L445.69 307.29 Z" fill="#ff001e"/><path d="M425.00 305.90 L445.68 307.40 L445.73 307.17 L445.77 306.93 Z" fill="#ff0018"/><path d="M425.00 305.90 L445.77 307.04 L445.81 306.81 L445.86 306.57 Z" fill="#ff0000"/><path d="M425.00 305.90 L445.85 306.68 L445.89 306.45 L445.93 306.21 Z" fill="#ff0600"/><path d="M425.00 305.90 L445.93 306.32 L445.97 306.08 L446.00 305.85 Z" fill="#ff0600"/><circle cx="440.7" cy="305.9" r="1.25" fill="#ff0c00"/><circle cx="443.9" cy="305.8" r="1.25" fill="#ff0c00"/><circle cx="442.7" cy="305.7" r="1.25" fill="#ff0c00"/><circle cx="445.8" cy="305.7" r="1.25" fill="#ff0c00"/><circle cx="442.5" cy="305.6" r="1.25" fill="#ff0c00"/><circle cx="445.7" cy="305.6" r="1.25" fill="#ff0c00"/><circle cx="447.8" cy="305.3" r="1.25" fill="#ff0c00"/><circle cx="447.2" cy="305.3" r="1.25" fill="#ff0c00"/><circle cx="447.4" cy="305.3" r="1.25" fill="#ff1200"/><circle cx="442.4" cy="305.4" r="1.25" fill="#ff1200"/><circle cx="452.4" cy="304.9" r="1.25" fill="#ff1200"/><circle cx="445.3" cy="305.2" r="1.25" fill="#ff1200"/><circle cx="444.9" cy="305.0" r="1.25" fill="#ff1200"/><circle cx="445.0" cy="305.0" r="1.25" fill="#ff1200"/><circle cx="445.1" cy="304.9" r="1.25" fill="#ff1200"/><circle cx="445.8" cy="304.9" r="1.25" fill="#ff1200"/><circle cx="446.0" cy="304.7" r="1.25" fill="#ff1200"/><circle cx="446.6" cy="304.7" r="1.25" fill="#ff1200"/><circle cx="441.5" cy="304.8" r="1.25" fill="#ff1800"/><circle cx="447.7" cy="304.4" r="1.25" fill="#ff1800"/><circle cx="444.1" cy="304.5" r="1.25" fill="#ff1800"/><circle cx="443.7" cy="304.5" r="1.25" fill="#ff1800"/><circle cx="444.0" cy="304.4" r="1.25" fill="#ff1800"/><circle cx="446.5" cy="304.1" r="1.25" fill="#ff1800"/><circle cx="450.7" cy="303.6" r="1.25" fill="#ff1e00"/><circle cx="445.8" cy="304.0" r="1.25" fill="#ff1e00"/><circle cx="445.2" cy="304.0" r="1.25" fill="#ff1e00"/><circle cx="447.6" cy="303.7" r="1.25" fill="#ff1e00"/><circle cx="449.7" cy="303.4" r="1.25" fill="#ff1e00"/><circle cx="447.7" cy="303.6" r="1.25" fill="#ff1e00"/><circle cx="447.3" cy="303.5" r="1.25" fill="#ff1e00"/><circle cx="443.9" cy="303.9" r="1.25" fill="#ff1e00"/><circle cx="445.9" cy="303.4" r="1.25" fill="#ff1e00"/><circle cx="445.8" cy="303.4" r="1.25" fill="#ff1e00"/><circle cx="448.2" cy="303.1" r="1.25" fill="#ff1e00"/><circle cx="444.4" cy="303.6" r="1.25" fill="#ff1e00"/><circle cx="445.0" cy="303.2" r="1.25" fill="#ff2300"/><circle cx="446.4" cy="303.0" r="1.25" fill="#ff2300"/><circle cx="446.2" cy="303.0" r="1.25" fill="#ff2300"/><circle cx="443.9" cy="303.3" r="1.25" fill="#ff2300"/><circle cx="442.6" cy="303.4" r="1.25" fill="#ff2300"/><circle cx="451.3" cy="302.2" r="1.25" fill="#ff2300"/><circle cx="447.1" cy="302.5" r="1.25" fill="#ff2300"/><circle cx="447.0" cy="302.5" r="1.25" fill="#ff2300"/><circle cx="449.9" cy="302.0" r="1.25" fill="#ff2900"/><circle cx="447.4" cy="302.4" r="1.25" fill="#ff2900"/><circle cx="443.2" cy="302.9" r="1.25" fill="#ff2900"/><circle cx="444.7" cy="302.7" r="1.25" fill="#ff2900"/><circle cx="445.6" cy="302.4" r="1.25" fill="#ff2900"/><circle cx="444.4" cy="302.6" r="1.25" fill="#ff2900"/><circle cx="447.6" cy="301.8" r="1.25" fill="#ff2900"/><circle cx="447.4" cy="301.8" r="1.25" fill="#ff2900"/><circle cx="444.8" cy="302.2" r="1.25" fill="#ff2900"/><circle cx="452.1" cy="300.9" r="1.25" fill="#ff2900"/><circle cx="443.9" cy="302.2" r="1.25" fill="#ff2f00"/><circle cx="450.4" cy="300.9" r="1.25" fill="#ff2f00"/><circle cx="441.8" cy="302.5" r="1.25" fill="#ff2f00"/><circle cx="448.6" cy="301.2" r="1.25" fill="#ff2f00"/><circle cx="451.5" cy="300.3" r="1.25" fill="#ff2f00"/><circle cx="449.9" cy="300.7" r="1.25" fill="#ff2f00"/><circle cx="445.3" cy="301.6" r="1.25" fill="#ff2f00"/><circle cx="449.7" cy="300.6" r="1.25" fill="#ff2f00"/><circle cx="445.2" cy="301.4" r="1.25" fill="#ff3500"/><circle cx="446.4" cy="301.1" r="1.25" fill="#ff3500"/><circle cx="443.9" cy="301.6" r="1.25" fill="#ff3500"/><circle cx="444.6" cy="301.4" r="1.25" fill="#ff3500"/><circle cx="443.6" cy="301.5" r="1.25" fill="#ff3500"/><circle cx="447.4" cy="300.6" r="1.25" fill="#ff3500"/><circle cx="442.2" cy="301.6" r="1.25" fill="#ff3500"/><circle cx="445.7" cy="300.7" r="1.25" fill="#ff3500"/><circle cx="445.9" cy="300.5" r="1.25" fill="#ff3b00"/><circle cx="446.6" cy="300.4" r="1.25" fill="#ff3b00"/><circle cx="446.1" cy="300.3" r="1.25" fill="#ff3b00"/><circle cx="443.6" cy="301.0" r="1.25" fill="#ff3b00"/><circle cx="444.9" cy="300.6" r="1.25" fill="#ff3b00"/><circle cx="439.6" cy="302.0" r="1.25" fill="#ff3b00"/><circle cx="450.0" cy="299.1" r="1.25" fill="#ff3b00"/><circle cx="443.7" cy="300.8" r="1.25" fill="#ff3b00"/><circle cx="444.1" cy="300.5" r="1.25" fill="#ff3b00"/><circle cx="445.6" cy="300.0" r="1.25" fill="#ff3b00"/><circle cx="446.8" cy="299.6" r="1.25" fill="#ff3b00"/><circle cx="444.6" cy="300.3" r="1.25" fill="#ff3b00"/><circle cx="444.7" cy="300.0" r="1.25" fill="#ff4100"/><circle cx="449.4" cy="298.6" r="1.25" fill="#ff4100"/><circle cx="444.4" cy="299.9" r="1.25" fill="#ff4100"/><circle cx="446.2" cy="299.4" r="1.25" fill="#ff4100"/><circle cx="446.3" cy="299.2" r="1.25" fill="#ff4100"/><circle cx="445.4" cy="299.5" r="1.25" fill="#ff4100"/><circle cx="446.6" cy="299.0" r="1.25" fill="#ff4100"/><circle cx="442.0" cy="300.4" r="1.25" fill="#ff4100"/><circle cx="446.0" cy="299.0" r="1.25" fill="#ff4700"/><circle cx="443.8" cy="299.8" r="1.25" fill="#ff4700"/><circle cx="444.2" cy="299.5" r="1.25" fill="#ff4700"/><circle cx="447.1" cy="298.6" r="1.25" fill="#ff4700"/><circle cx="445.4" cy="298.9" r="1.25" fill="#ff4700"/><circle cx="446.4" cy="298.6" r="1.25" fill="#ff4700"/><circle cx="445.8" cy="298.6" r="1.25" fill="#ff4700"/><circle cx="445.9" cy="298.5" r="1.25" fill="#ff4700"/><circle cx="447.5" cy="297.7" r="1.25" fill="#ff4d00"/><circle cx="443.7" cy="299.1" r="1.25" fill="#ff4d00"/><circle cx="442.9" cy="299.3" r="1.25" fill="#ff4d00"/><circle cx="443.4" cy="299.1" r="1.25" fill="#ff4d00"/><circle cx="449.1" cy="296.9" r="1.25" fill="#ff4d00"/><circle cx="444.6" cy="298.6" r="1.25" fill="#ff4d00"/><circle cx="444.3" cy="298.5" r="1.25" fill="#ff4d00"/><circle cx="443.7" cy="298.7" r="1.25" fill="#ff4d00"/><circle cx="440.0" cy="300.0" r="1.25" fill="#ff4d00"/><circle cx="444.2" cy="298.4" r="1.25" fill="#ff4d00"/><circle cx="444.6" cy="298.1" r="1.25" fill="#ff5300"/><circle cx="443.7" cy="298.5" r="1.25" fill="#ff5300"/><circle cx="443.1" cy="298.5" r="1.25" fill="#ff5300"/><circle cx="438.6" cy="300.3" r="1.25" fill="#ff5300"/><circle cx="442.3" cy="298.7" r="1.25" fill="#ff5300"/><circle cx="439.5" cy="299.8" r="1.25" fill="#ff5300"/><circle cx="441.2" cy="299.0" r="1.25" fill="#ff5300"/><circle cx="446.1" cy="296.9" r="1.25" fill="#ff5300"/><circle cx="444.8" cy="297.2" r="1.25" fill="#ff5900"/><circle cx="441.5" cy="298.7" r="1.25" fill="#ff5900"/><circle cx="445.1" cy="297.0" r="1.25" fill="#ff5900"/><circle cx="440.9" cy="298.9" r="1.25" fill="#ff5900"/><circle cx="440.8" cy="298.8" r="1.25" fill="#ff5900"/><circle cx="445.1" cy="296.9" r="1.25" fill="#ff5900"/><circle cx="445.8" cy="296.4" r="1.25" fill="#ff5900"/><circle cx="444.5" cy="297.0" r="1.25" fill="#ff5900"/><circle cx="445.4" cy="296.3" r="1.25" fill="#ff5f00"/><circle cx="440.3" cy="298.7" r="1.25" fill="#ff5f00"/><circle cx="442.4" cy="297.6" r="1.25" fill="#ff5f00"/><circle cx="439.8" cy="298.9" r="1.25" fill="#ff5f00"/><circle cx="443.1" cy="297.2" r="1.25" fill="#ff5f00"/><circle cx="441.8" cy="297.8" r="1.25" fill="#ff5f00"/><circle cx="445.5" cy="295.8" r="1.25" fill="#ff5f00"/><circle cx="443.0" cy="297.0" r="1.25" fill="#ff5f00"/><circle cx="442.8" cy="297.0" r="1.25" fill="#ff5f00"/><circle cx="445.8" cy="295.5" r="1.25" fill="#ff5f00"/><circle cx="438.5" cy="299.0" r="1.25" fill="#ff6400"/><circle cx="439.0" cy="298.8" r="1.25" fill="#ff6400"/><circle cx="444.1" cy="296.1" r="1.25" fill="#ff6400"/><circle cx="442.3" cy="297.0" r="1.25" fill="#ff6400"/><circle cx="442.4" cy="296.7" r="1.25" fill="#ff6400"/><circle cx="443.3" cy="296.2" r="1.25" fill="#ff6400"/><circle cx="440.6" cy="297.5" r="1.25" fill="#ff6400"/><circle cx="439.9" cy="297.9" r="1.25" fill="#ff6400"/><circle cx="440.3" cy="297.5" r="1.25" fill="#ff6a00"/><circle cx="444.7" cy="295.1" r="1.25" fill="#ff6a00"/><circle cx="438.2" cy="298.6" r="1.25" fill="#ff6a00"/><circle cx="443.4" cy="295.7" r="1.25" fill="#ff6a00"/><circle cx="443.1" cy="295.6" r="1.25" fill="#ff6a00"/><circle cx="440.1" cy="297.3" r="1.25" fill="#ff6a00"/><circle cx="441.0" cy="296.7" r="1.25" fill="#ff6a00"/><circle cx="442.6" cy="295.8" r="1.25" fill="#ff6a00"/><circle cx="443.6" cy="295.1" r="1.25" fill="#ff6a00"/><circle cx="437.8" cy="298.5" r="1.25" fill="#ff6a00"/><circle cx="442.8" cy="295.3" r="1.25" fill="#ff7000"/><circle cx="440.6" cy="296.6" r="1.25" fill="#ff7000"/><circle cx="439.5" cy="297.3" r="1.25" fill="#ff7000"/><circle cx="441.6" cy="296.0" r="1.25" fill="#ff7000"/><circle cx="438.4" cy="297.8" r="1.25" fill="#ff7000"/><circle cx="442.5" cy="295.3" r="1.25" fill="#ff7000"/><circle cx="439.1" cy="297.2" r="1.25" fill="#ff7000"/><circle cx="444.4" cy="293.9" r="1.25" fill="#ff7000"/><circle cx="439.7" cy="296.6" r="1.25" fill="#ff7600"/><circle cx="440.7" cy="295.9" r="1.25" fill="#ff7600"/><circle cx="440.9" cy="295.8" r="1.25" fill="#ff7600"/><circle cx="440.0" cy="296.4" r="1.25" fill="#ff7600"/><circle cx="438.6" cy="297.1" r="1.25" fill="#ff7600"/><circle cx="439.4" cy="296.5" r="1.25" fill="#ff7600"/><circle cx="441.1" cy="295.2" r="1.25" fill="#ff7600"/><circle cx="440.1" cy="295.9" r="1.25" fill="#ff7600"/><circle cx="443.8" cy="293.4" r="1.25" fill="#ff7600"/><circle cx="440.5" cy="295.5" r="1.25" fill="#ff7600"/><circle cx="440.2" cy="295.6" r="1.25" fill="#ff7600"/><circle cx="440.3" cy="295.6" r="1.25" fill="#ff7600"/><circle cx="436.8" cy="297.7" r="1.25" fill="#ff7c00"/><circle cx="440.5" cy="295.2" r="1.25" fill="#ff7c00"/><circle cx="441.2" cy="294.5" r="1.25" fill="#ff7c00"/><circle cx="434.5" cy="299.2" r="1.25" fill="#ff7c00"/><circle cx="439.9" cy="295.3" r="1.25" fill="#ff7c00"/><circle cx="441.4" cy="294.2" r="1.25" fill="#ff7c00"/><circle cx="441.4" cy="294.1" r="1.25" fill="#ff7c00"/><circle cx="439.3" cy="295.7" r="1.25" fill="#ff7c00"/><circle cx="439.6" cy="295.2" r="1.25" fill="#ff8200"/><circle cx="440.3" cy="294.7" r="1.25" fill="#ff8200"/><circle cx="438.0" cy="296.3" r="1.25" fill="#ff8200"/><circle cx="436.5" cy="297.4" r="1.25" fill="#ff8200"/><circle cx="438.6" cy="295.6" r="1.25" fill="#ff8200"/><circle cx="436.5" cy="297.2" r="1.25" fill="#ff8200"/><circle cx="438.5" cy="295.5" r="1.25" fill="#ff8200"/><circle cx="437.3" cy="296.4" r="1.25" fill="#ff8200"/><circle cx="436.9" cy="296.6" r="1.25" fill="#ff8800"/><circle cx="436.1" cy="297.2" r="1.25" fill="#ff8800"/><circle cx="433.8" cy="299.0" r="1.25" fill="#ff8800"/><circle cx="433.8" cy="299.0" r="1.25" fill="#ff8800"/><circle cx="432.6" cy="299.8" r="1.25" fill="#ff8800"/><circle cx="434.6" cy="298.3" r="1.25" fill="#ff8800"/><circle cx="437.5" cy="295.7" r="1.25" fill="#ff8800"/><circle cx="434.7" cy="298.0" r="1.25" fill="#ff8800"/><circle cx="435.8" cy="297.0" r="1.25" fill="#ff8800"/><circle cx="437.9" cy="295.3" r="1.25" fill="#ff8800"/><circle cx="432.4" cy="299.7" r="1.25" fill="#ff8e00"/><circle cx="431.9" cy="300.1" r="1.25" fill="#ff8e00"/><circle cx="438.2" cy="294.8" r="1.25" fill="#ff8e00"/><circle cx="430.7" cy="301.1" r="1.25" fill="#ff8e00"/><circle cx="428.1" cy="303.2" r="1.25" fill="#ff8e00"/><circle cx="430.6" cy="301.1" r="1.25" fill="#ff8e00"/><circle cx="434.0" cy="298.1" r="1.25" fill="#ff8e00"/><circle cx="428.9" cy="302.5" r="1.25" fill="#ff8e00"/><circle cx="431.2" cy="300.4" r="1.25" fill="#ff8e00"/><circle cx="430.5" cy="301.1" r="1.25" fill="#ff8e00"/><circle cx="426.0" cy="301.0" r="1.25" fill="#cbff00"/><circle cx="425.1" cy="305.2" r="1.25" fill="#cbff00"/><circle cx="426.1" cy="300.0" r="1.25" fill="#cbff00"/><circle cx="426.6" cy="297.2" r="1.25" fill="#cbff00"/><circle cx="426.7" cy="296.3" r="1.25" fill="#cbff00"/><circle cx="427.9" cy="289.5" r="1.25" fill="#cbff00"/><circle cx="427.3" cy="292.6" r="1.25" fill="#c5ff00"/><circle cx="427.3" cy="292.5" r="1.25" fill="#c5ff00"/><circle cx="427.6" cy="289.9" r="1.25" fill="#c5ff00"/><circle cx="427.8" cy="288.7" r="1.25" fill="#c5ff00"/><circle cx="427.7" cy="288.4" r="1.25" fill="#c5ff00"/><circle cx="428.7" cy="282.5" r="1.25" fill="#c5ff00"/><circle cx="428.0" cy="286.2" r="1.25" fill="#c5ff00"/><circle cx="428.8" cy="281.0" r="1.25" fill="#c5ff00"/><circle cx="429.2" cy="277.8" r="1.25" fill="#bfff00"/><circle cx="429.5" cy="275.3" r="1.25" fill="#bfff00"/><circle cx="429.4" cy="273.0" r="1.25" fill="#bfff00"/><circle cx="429.2" cy="274.4" r="1.25" fill="#bfff00"/><circle cx="429.1" cy="274.0" r="1.25" fill="#bfff00"/><circle cx="428.7" cy="277.1" r="1.25" fill="#bfff00"/><circle cx="428.9" cy="273.8" r="1.25" fill="#b9ff00"/><circle cx="429.0" cy="273.3" r="1.25" fill="#b9ff00"/><circle cx="429.1" cy="271.1" r="1.25" fill="#b9ff00"/><circle cx="428.9" cy="273.4" r="1.25" fill="#b9ff00"/><circle cx="428.3" cy="275.4" r="1.25" fill="#b9ff00"/><circle cx="428.4" cy="274.7" r="1.25" fill="#b9ff00"/><circle cx="428.4" cy="272.7" r="1.25" fill="#b3ff00"/><circle cx="428.8" cy="269.5" r="1.25" fill="#b3ff00"/><circle cx="428.0" cy="273.0" r="1.25" fill="#b3ff00"/><circle cx="427.9" cy="274.5" r="1.25" fill="#b3ff00"/><circle cx="428.1" cy="271.4" r="1.25" fill="#b3ff00"/><circle cx="427.8" cy="274.9" r="1.25" fill="#b3ff00"/><circle cx="427.4" cy="275.3" r="1.25" fill="#adff00"/><circle cx="427.7" cy="271.5" r="1.25" fill="#adff00"/><circle cx="427.1" cy="277.0" r="1.25" fill="#adff00"/><circle cx="427.4" cy="272.5" r="1.25" fill="#adff00"/><circle cx="427.1" cy="275.4" r="1.25" fill="#adff00"/><circle cx="426.9" cy="278.6" r="1.25" fill="#adff00"/><circle cx="426.7" cy="277.9" r="1.25" fill="#adff00"/><circle cx="427.0" cy="272.8" r="1.25" fill="#adff00"/><circle cx="426.7" cy="273.4" r="1.25" fill="#a7ff00"/><circle cx="426.8" cy="272.5" r="1.25" fill="#a7ff00"/><circle cx="426.7" cy="268.7" r="1.25" fill="#a7ff00"/><circle cx="426.5" cy="273.4" r="1.25" fill="#a7ff00"/><circle cx="426.1" cy="275.3" r="1.25" fill="#a7ff00"/><circle cx="426.0" cy="278.7" r="1.25" fill="#a7ff00"/><circle cx="425.8" cy="280.7" r="1.25" fill="#a2ff00"/><circle cx="425.9" cy="276.0" r="1.25" fill="#a2ff00"/><circle cx="425.7" cy="279.0" r="1.25" fill="#a2ff00"/><circle cx="425.5" cy="284.0" r="1.25" fill="#a2ff00"/><circle cx="425.4" cy="284.9" r="1.25" fill="#a2ff00"/><circle cx="425.3" cy="290.5" r="1.25" fill="#a2ff00"/><circle cx="425.1" cy="296.9" r="1.25" fill="#9cff00"/><circle cx="425.0" cy="300.3" r="1.25" fill="#9cff00"/><circle cx="425.0" cy="297.4" r="1.25" fill="#9cff00"/><circle cx="425.0" cy="302.8" r="1.25" fill="#9cff00"/><circle cx="417.5" cy="293.3" r="1.25" fill="#04ff08"/><circle cx="415.6" cy="290.0" r="1.25" fill="#04ff08"/><circle cx="411.9" cy="284.2" r="1.25" fill="#02ff0c"/><circle cx="410.4" cy="281.7" r="1.25" fill="#02ff0c"/><circle cx="409.0" cy="279.9" r="1.25" fill="#02ff0c"/><circle cx="410.2" cy="281.8" r="1.25" fill="#02ff0c"/><circle cx="407.8" cy="278.4" r="1.25" fill="#02ff0c"/><circle cx="410.2" cy="282.2" r="1.25" fill="#02ff0c"/><circle cx="409.6" cy="281.3" r="1.25" fill="#02ff0c"/><circle cx="409.6" cy="281.3" r="1.25" fill="#02ff0c"/><circle cx="406.8" cy="277.3" r="1.25" fill="#00ff10"/><circle cx="407.8" cy="278.9" r="1.25" fill="#00ff10"/><circle cx="410.1" cy="282.8" r="1.25" fill="#00ff10"/><circle cx="407.5" cy="278.8" r="1.25" fill="#00ff10"/><circle cx="408.1" cy="280.2" r="1.25" fill="#00ff10"/><circle cx="406.1" cy="277.3" r="1.25" fill="#00ff10"/><circle cx="407.5" cy="279.7" r="1.25" fill="#00ff16"/><circle cx="409.5" cy="282.6" r="1.25" fill="#00ff16"/><circle cx="405.3" cy="277.1" r="1.25" fill="#00ff16"/><circle cx="408.2" cy="281.3" r="1.25" fill="#00ff16"/><circle cx="405.2" cy="277.1" r="1.25" fill="#00ff16"/><circle cx="405.5" cy="277.5" r="1.25" fill="#00ff16"/><circle cx="408.1" cy="281.9" r="1.25" fill="#00ff1b"/><circle cx="408.1" cy="281.9" r="1.25" fill="#00ff1b"/><circle cx="407.8" cy="281.6" r="1.25" fill="#00ff1b"/><circle cx="408.8" cy="283.0" r="1.25" fill="#00ff1b"/><circle cx="408.5" cy="283.0" r="1.25" fill="#00ff1b"/><circle cx="408.7" cy="283.3" r="1.25" fill="#00ff1b"/><circle cx="406.7" cy="280.8" r="1.25" fill="#00ff1b"/><circle cx="402.6" cy="275.2" r="1.25" fill="#00ff1b"/><circle cx="406.1" cy="280.7" r="1.25" fill="#00ff21"/><circle cx="406.7" cy="281.5" r="1.25" fill="#00ff21"/><circle cx="406.6" cy="281.4" r="1.25" fill="#00ff21"/><circle cx="404.9" cy="279.0" r="1.25" fill="#00ff21"/><circle cx="404.6" cy="279.3" r="1.25" fill="#00ff21"/><circle cx="405.0" cy="279.8" r="1.25" fill="#00ff21"/><circle cx="404.1" cy="278.8" r="1.25" fill="#00ff21"/><circle cx="404.9" cy="279.8" r="1.25" fill="#00ff21"/><circle cx="406.8" cy="282.8" r="1.25" fill="#00ff27"/><circle cx="406.9" cy="282.9" r="1.25" fill="#00ff27"/><circle cx="405.3" cy="281.2" r="1.25" fill="#00ff27"/><circle cx="404.3" cy="279.9" r="1.25" fill="#00ff27"/><circle cx="405.1" cy="281.4" r="1.25" fill="#00ff2d"/><circle cx="406.0" cy="282.5" r="1.25" fill="#00ff2d"/><circle cx="404.6" cy="280.9" r="1.25" fill="#00ff2d"/><circle cx="407.4" cy="284.4" r="1.25" fill="#00ff2d"/><circle cx="404.7" cy="281.7" r="1.25" fill="#00ff2d"/><circle cx="403.5" cy="280.2" r="1.25" fill="#00ff2d"/><circle cx="404.5" cy="281.5" r="1.25" fill="#00ff2d"/><circle cx="406.5" cy="283.9" r="1.25" fill="#00ff2d"/><circle cx="403.4" cy="280.7" r="1.25" fill="#00ff33"/><circle cx="404.9" cy="282.5" r="1.25" fill="#00ff33"/><circle cx="404.7" cy="282.6" r="1.25" fill="#00ff33"/><circle cx="408.3" cy="286.8" r="1.25" fill="#00ff33"/><circle cx="405.0" cy="283.2" r="1.25" fill="#00ff33"/><circle cx="404.0" cy="282.0" r="1.25" fill="#00ff33"/><circle cx="403.7" cy="282.2" r="1.25" fill="#00ff39"/><circle cx="403.9" cy="282.5" r="1.25" fill="#00ff39"/><circle cx="406.7" cy="285.7" r="1.25" fill="#00ff39"/><circle cx="403.9" cy="282.7" r="1.25" fill="#00ff39"/><circle cx="403.9" cy="282.9" r="1.25" fill="#00ff39"/><circle cx="404.7" cy="283.8" r="1.25" fill="#00ff39"/><circle cx="404.3" cy="283.6" r="1.25" fill="#00ff39"/><circle cx="404.5" cy="283.8" r="1.25" fill="#00ff39"/><circle cx="404.1" cy="283.8" r="1.25" fill="#00ff3f"/><circle cx="406.3" cy="286.1" r="1.25" fill="#00ff3f"/><circle cx="402.6" cy="282.4" r="1.25" fill="#00ff3f"/><circle cx="402.3" cy="282.2" r="1.25" fill="#00ff3f"/><circle cx="403.9" cy="284.3" r="1.25" fill="#00ff3f"/><circle cx="402.7" cy="283.0" r="1.25" fill="#00ff3f"/><circle cx="406.8" cy="287.5" r="1.25" fill="#00ff45"/><circle cx="404.9" cy="285.5" r="1.25" fill="#00ff45"/><circle cx="401.4" cy="282.5" r="1.25" fill="#00ff45"/><circle cx="404.0" cy="285.1" r="1.25" fill="#00ff45"/><circle cx="403.6" cy="284.8" r="1.25" fill="#00ff45"/><circle cx="401.6" cy="282.9" r="1.25" fill="#00ff45"/><circle cx="399.5" cy="281.1" r="1.25" fill="#00ff45"/><circle cx="404.5" cy="286.0" r="1.25" fill="#00ff45"/><circle cx="404.1" cy="285.8" r="1.25" fill="#00ff4b"/><circle cx="401.7" cy="283.4" r="1.25" fill="#00ff4b"/><circle cx="404.4" cy="286.4" r="1.25" fill="#00ff4b"/><circle cx="401.8" cy="284.0" r="1.25" fill="#00ff4b"/><circle cx="405.9" cy="288.0" r="1.25" fill="#00ff4b"/><circle cx="404.2" cy="286.4" r="1.25" fill="#00ff4b"/><circle cx="401.7" cy="284.5" r="1.25" fill="#00ff4b"/><circle cx="404.9" cy="287.4" r="1.25" fill="#00ff4b"/><circle cx="402.7" cy="285.5" r="1.25" fill="#00ff51"/><circle cx="406.7" cy="289.2" r="1.25" fill="#00ff51"/><circle cx="400.6" cy="284.0" r="1.25" fill="#00ff51"/><circle cx="402.5" cy="285.8" r="1.25" fill="#00ff51"/><circle cx="407.3" cy="290.3" r="1.25" fill="#00ff51"/><circle cx="404.8" cy="288.1" r="1.25" fill="#00ff51"/><circle cx="402.6" cy="286.5" r="1.25" fill="#00ff57"/><circle cx="403.5" cy="287.2" r="1.25" fill="#00ff57"/><circle cx="402.6" cy="286.7" r="1.25" fill="#00ff57"/><circle cx="403.6" cy="287.5" r="1.25" fill="#00ff57"/><circle cx="403.1" cy="287.3" r="1.25" fill="#00ff57"/><circle cx="406.9" cy="290.5" r="1.25" fill="#00ff57"/><circle cx="403.5" cy="287.9" r="1.25" fill="#00ff57"/><circle cx="403.6" cy="287.9" r="1.25" fill="#00ff57"/><circle cx="403.6" cy="288.4" r="1.25" fill="#00ff5c"/><circle cx="403.9" cy="288.7" r="1.25" fill="#00ff5c"/><circle cx="402.5" cy="287.6" r="1.25" fill="#00ff5c"/><circle cx="405.1" cy="289.7" r="1.25" fill="#00ff5c"/><circle cx="404.2" cy="289.3" r="1.25" fill="#00ff5c"/><circle cx="401.7" cy="287.4" r="1.25" fill="#00ff5c"/><circle cx="403.9" cy="289.4" r="1.25" fill="#00ff62"/><circle cx="404.8" cy="290.1" r="1.25" fill="#00ff62"/><circle cx="403.3" cy="289.1" r="1.25" fill="#00ff62"/><circle cx="405.8" cy="291.0" r="1.25" fill="#00ff62"/><circle cx="405.9" cy="291.4" r="1.25" fill="#00ff62"/><circle cx="400.8" cy="287.5" r="1.25" fill="#00ff62"/><circle cx="400.6" cy="287.6" r="1.25" fill="#00ff68"/><circle cx="405.7" cy="291.4" r="1.25" fill="#00ff68"/><circle cx="398.9" cy="286.6" r="1.25" fill="#00ff68"/><circle cx="406.1" cy="291.9" r="1.25" fill="#00ff68"/><circle cx="406.0" cy="292.0" r="1.25" fill="#00ff68"/><circle cx="403.3" cy="290.1" r="1.25" fill="#00ff68"/><circle cx="404.7" cy="291.3" r="1.25" fill="#00ff68"/><circle cx="401.8" cy="289.3" r="1.25" fill="#00ff68"/><circle cx="403.2" cy="290.3" r="1.25" fill="#00ff6e"/><circle cx="409.1" cy="294.5" r="1.25" fill="#00ff6e"/><circle cx="402.2" cy="289.9" r="1.25" fill="#00ff6e"/><circle cx="401.7" cy="289.5" r="1.25" fill="#00ff6e"/><circle cx="404.3" cy="291.6" r="1.25" fill="#00ff6e"/><circle cx="397.7" cy="287.0" r="1.25" fill="#00ff6e"/><circle cx="403.3" cy="291.0" r="1.25" fill="#00ff6e"/><circle cx="402.0" cy="290.1" r="1.25" fill="#00ff6e"/><circle cx="402.8" cy="291.0" r="1.25" fill="#00ff74"/><circle cx="404.3" cy="292.0" r="1.25" fill="#00ff74"/><circle cx="405.6" cy="293.1" r="1.25" fill="#00ff74"/><circle cx="402.3" cy="290.8" r="1.25" fill="#00ff74"/><circle cx="402.1" cy="291.1" r="1.25" fill="#00ff74"/><circle cx="402.8" cy="291.6" r="1.25" fill="#00ff74"/><circle cx="402.7" cy="291.6" r="1.25" fill="#00ff7a"/><circle cx="401.5" cy="290.8" r="1.25" fill="#00ff7a"/><circle cx="404.4" cy="292.9" r="1.25" fill="#00ff7a"/><circle cx="404.0" cy="292.7" r="1.25" fill="#00ff7a"/><circle cx="403.4" cy="292.4" r="1.25" fill="#00ff7a"/><circle cx="401.8" cy="291.5" r="1.25" fill="#00ff7a"/><circle cx="404.2" cy="293.3" r="1.25" fill="#00ff80"/><circle cx="400.7" cy="291.1" r="1.25" fill="#00ff80"/><circle cx="404.9" cy="293.9" r="1.25" fill="#00ff80"/><circle cx="403.0" cy="292.8" r="1.25" fill="#00ff80"/><circle cx="401.6" cy="292.1" r="1.25" fill="#00ff80"/><circle cx="404.3" cy="293.7" r="1.25" fill="#00ff80"/><circle cx="400.9" cy="291.9" r="1.25" fill="#00ff80"/><circle cx="404.0" cy="293.7" r="1.25" fill="#00ff80"/><circle cx="398.3" cy="290.6" r="1.25" fill="#00ff86"/><circle cx="401.7" cy="292.5" r="1.25" fill="#00ff86"/><circle cx="405.4" cy="294.9" r="1.25" fill="#00ff86"/><circle cx="401.6" cy="292.8" r="1.25" fill="#00ff86"/><circle cx="404.4" cy="294.5" r="1.25" fill="#00ff86"/><circle cx="396.8" cy="290.3" r="1.25" fill="#00ff86"/><circle cx="403.4" cy="294.1" r="1.25" fill="#00ff8c"/><circle cx="403.1" cy="294.0" r="1.25" fill="#00ff8c"/><circle cx="406.1" cy="295.8" r="1.25" fill="#00ff8c"/><circle cx="400.5" cy="292.8" r="1.25" fill="#00ff8c"/><circle cx="404.4" cy="295.1" r="1.25" fill="#00ff8c"/><circle cx="404.2" cy="295.0" r="1.25" fill="#00ff8c"/><circle cx="404.2" cy="295.0" r="1.25" fill="#00ff8c"/><circle cx="401.9" cy="293.8" r="1.25" fill="#00ff8c"/><circle cx="406.6" cy="296.6" r="1.25" fill="#00ff92"/><circle cx="403.8" cy="295.1" r="1.25" fill="#00ff92"/><circle cx="403.8" cy="295.4" r="1.25" fill="#00ff92"/><circle cx="400.7" cy="293.8" r="1.25" fill="#00ff92"/><circle cx="403.5" cy="295.2" r="1.25" fill="#00ff92"/><circle cx="403.6" cy="295.3" r="1.25" fill="#00ff92"/><circle cx="401.1" cy="294.4" r="1.25" fill="#00ff97"/><circle cx="407.0" cy="297.2" r="1.25" fill="#00ff97"/><circle cx="404.0" cy="295.8" r="1.25" fill="#00ff97"/><circle cx="400.0" cy="293.9" r="1.25" fill="#00ff97"/><circle cx="406.1" cy="297.0" r="1.25" fill="#00ff97"/><circle cx="403.2" cy="295.7" r="1.25" fill="#00ff97"/><circle cx="407.4" cy="297.9" r="1.25" fill="#00ff9d"/><circle cx="405.9" cy="297.2" r="1.25" fill="#00ff9d"/><circle cx="403.0" cy="296.0" r="1.25" fill="#00ff9d"/><circle cx="405.9" cy="297.3" r="1.25" fill="#00ff9d"/><circle cx="400.0" cy="295.0" r="1.25" fill="#00ff9d"/><circle cx="401.3" cy="295.5" r="1.25" fill="#00ff9d"/><circle cx="406.4" cy="297.8" r="1.25" fill="#00ff9d"/><circle cx="404.4" cy="296.9" r="1.25" fill="#00ff9d"/><circle cx="402.7" cy="296.4" r="1.25" fill="#00ff9d"/><circle cx="405.4" cy="297.5" r="1.25" fill="#00ff9d"/><circle cx="402.0" cy="296.3" r="1.25" fill="#00ffa3"/><circle cx="402.8" cy="296.6" r="1.25" fill="#00ffa3"/><circle cx="404.3" cy="297.4" r="1.25" fill="#00ffa3"/><circle cx="405.9" cy="298.1" r="1.25" fill="#00ffa3"/><circle cx="402.0" cy="296.7" r="1.25" fill="#00ffa3"/><circle cx="402.4" cy="296.9" r="1.25" fill="#00ffa3"/><circle cx="399.6" cy="295.9" r="1.25" fill="#00ffa9"/><circle cx="404.8" cy="298.0" r="1.25" fill="#00ffa9"/><circle cx="401.6" cy="297.0" r="1.25" fill="#00ffa9"/><circle cx="403.7" cy="297.8" r="1.25" fill="#00ffa9"/><circle cx="403.7" cy="297.9" r="1.25" fill="#00ffa9"/><circle cx="400.9" cy="296.9" r="1.25" fill="#00ffa9"/><circle cx="396.7" cy="295.5" r="1.25" fill="#00ffaf"/><circle cx="403.5" cy="298.0" r="1.25" fill="#00ffaf"/><circle cx="403.2" cy="298.1" r="1.25" fill="#00ffaf"/><circle cx="400.9" cy="297.3" r="1.25" fill="#00ffaf"/><circle cx="406.2" cy="299.2" r="1.25" fill="#00ffaf"/><circle cx="402.0" cy="297.8" r="1.25" fill="#00ffaf"/><circle cx="405.4" cy="299.1" r="1.25" fill="#00ffaf"/><circle cx="402.1" cy="298.0" r="1.25" fill="#00ffaf"/><circle cx="404.3" cy="298.9" r="1.25" fill="#00ffb5"/><circle cx="402.6" cy="298.4" r="1.25" fill="#00ffb5"/><circle cx="407.0" cy="300.0" r="1.25" fill="#00ffb5"/><circle cx="399.2" cy="297.5" r="1.25" fill="#00ffb5"/><circle cx="404.6" cy="299.4" r="1.25" fill="#00ffb5"/><circle cx="406.4" cy="299.9" r="1.25" fill="#00ffb5"/><circle cx="403.3" cy="299.1" r="1.25" fill="#00ffbb"/><circle cx="403.6" cy="299.3" r="1.25" fill="#00ffbb"/><circle cx="406.0" cy="300.0" r="1.25" fill="#00ffbb"/><circle cx="407.8" cy="300.6" r="1.25" fill="#00ffbb"/><circle cx="408.2" cy="300.8" r="1.25" fill="#00ffbb"/><circle cx="401.8" cy="298.9" r="1.25" fill="#00ffbb"/><circle cx="403.1" cy="299.5" r="1.25" fill="#00ffbb"/><circle cx="403.6" cy="299.7" r="1.25" fill="#00ffbb"/><circle cx="402.8" cy="299.6" r="1.25" fill="#00ffc1"/><circle cx="402.8" cy="299.6" r="1.25" fill="#00ffc1"/><circle cx="402.4" cy="299.6" r="1.25" fill="#00ffc1"/><circle cx="405.8" cy="300.6" r="1.25" fill="#00ffc1"/><circle cx="407.2" cy="301.1" r="1.25" fill="#00ffc1"/><circle cx="408.0" cy="301.3" r="1.25" fill="#00ffc1"/><circle cx="406.3" cy="301.1" r="1.25" fill="#00ffc7"/><circle cx="403.2" cy="300.3" r="1.25" fill="#00ffc7"/><circle cx="402.2" cy="300.1" r="1.25" fill="#00ffc7"/><circle cx="404.4" cy="300.7" r="1.25" fill="#00ffc7"/><circle cx="400.3" cy="299.9" r="1.25" fill="#00ffc7"/><circle cx="405.1" cy="301.0" r="1.25" fill="#00ffc7"/><circle cx="404.9" cy="301.1" r="1.25" fill="#00ffcd"/><circle cx="404.9" cy="301.1" r="1.25" fill="#00ffcd"/><circle cx="406.5" cy="301.6" r="1.25" fill="#00ffcd"/><circle cx="401.6" cy="300.5" r="1.25" fill="#00ffcd"/><circle cx="406.6" cy="301.7" r="1.25" fill="#00ffcd"/><circle cx="402.5" cy="300.8" r="1.25" fill="#00ffcd"/><circle cx="402.9" cy="301.2" r="1.25" fill="#00ffcd"/><circle cx="407.5" cy="302.1" r="1.25" fill="#00ffcd"/><circle cx="403.9" cy="301.4" r="1.25" fill="#00ffd3"/><circle cx="409.7" cy="302.7" r="1.25" fill="#00ffd3"/><circle cx="406.1" cy="302.1" r="1.25" fill="#00ffd3"/><circle cx="402.1" cy="301.3" r="1.25" fill="#00ffd3"/><circle cx="406.0" cy="302.2" r="1.25" fill="#00ffd3"/><circle cx="411.4" cy="303.2" r="1.25" fill="#00ffd3"/><circle cx="405.4" cy="302.2" r="1.25" fill="#00ffd3"/><circle cx="408.9" cy="302.9" r="1.25" fill="#00ffd3"/><circle cx="401.1" cy="301.5" r="1.25" fill="#00ffd8"/><circle cx="405.5" cy="302.4" r="1.25" fill="#00ffd8"/><circle cx="402.7" cy="302.0" r="1.25" fill="#00ffd8"/><circle cx="403.4" cy="302.1" r="1.25" fill="#00ffd8"/><circle cx="405.0" cy="302.6" r="1.25" fill="#00ffd8"/><circle cx="406.4" cy="302.8" r="1.25" fill="#00ffd8"/><circle cx="406.0" cy="303.0" r="1.25" fill="#00ffde"/><circle cx="402.1" cy="302.3" r="1.25" fill="#00ffde"/><circle cx="402.9" cy="302.5" r="1.25" fill="#00ffde"/><circle cx="404.5" cy="302.7" r="1.25" fill="#00ffde"/><circle cx="407.3" cy="303.4" r="1.25" fill="#00ffde"/><circle cx="405.1" cy="303.1" r="1.25" fill="#00ffde"/><circle cx="404.7" cy="303.1" r="1.25" fill="#00ffe4"/><circle cx="398.8" cy="302.3" r="1.25" fill="#00ffe4"/><circle cx="402.8" cy="303.1" r="1.25" fill="#00ffe4"/><circle cx="407.2" cy="303.7" r="1.25" fill="#00ffe4"/><circle cx="403.2" cy="303.2" r="1.25" fill="#00ffe4"/><circle cx="406.0" cy="303.5" r="1.25" fill="#00ffe4"/><circle cx="403.9" cy="303.5" r="1.25" fill="#00ffe4"/><circle cx="400.9" cy="303.2" r="1.25" fill="#00ffe4"/><circle cx="402.9" cy="303.5" r="1.25" fill="#00ffea"/><circle cx="401.2" cy="303.4" r="1.25" fill="#00ffea"/><circle cx="402.6" cy="303.6" r="1.25" fill="#00ffea"/><circle cx="403.8" cy="303.7" r="1.25" fill="#00ffea"/><circle cx="400.7" cy="303.7" r="1.25" fill="#00ffea"/><circle cx="405.4" cy="304.1" r="1.25" fill="#00ffea"/><circle cx="406.0" cy="304.2" r="1.25" fill="#00ffea"/><circle cx="407.7" cy="304.4" r="1.25" fill="#00ffea"/><circle cx="407.8" cy="304.5" r="1.25" fill="#00fff0"/><circle cx="406.5" cy="304.4" r="1.25" fill="#00fff0"/><circle cx="403.2" cy="304.2" r="1.25" fill="#00fff0"/><circle cx="401.4" cy="304.1" r="1.25" fill="#00fff0"/><circle cx="406.5" cy="304.6" r="1.25" fill="#00fff0"/><circle cx="401.9" cy="304.3" r="1.25" fill="#00fff0"/><circle cx="406.0" cy="304.7" r="1.25" fill="#00fff6"/><circle cx="404.3" cy="304.6" r="1.25" fill="#00fff6"/><circle cx="405.8" cy="304.9" r="1.25" fill="#00fff6"/><circle cx="400.9" cy="304.6" r="1.25" fill="#00fff6"/><circle cx="404.7" cy="304.9" r="1.25" fill="#00fff6"/><circle cx="405.3" cy="304.9" r="1.25" fill="#00fff6"/><circle cx="406.3" cy="305.2" r="1.25" fill="#00fffc"/><circle cx="405.7" cy="305.2" r="1.25" fill="#00fffc"/><circle cx="406.7" cy="305.3" r="1.25" fill="#00fffc"/><circle cx="406.7" cy="305.3" r="1.25" fill="#00fffc"/><circle cx="404.0" cy="305.4" r="1.25" fill="#00fffc"/><circle cx="406.9" cy="305.5" r="1.25" fill="#00fffc"/><circle cx="401.4" cy="305.6" r="1.25" fill="#00fcff"/><circle cx="408.2" cy="305.7" r="1.25" fill="#00fcff"/><circle cx="407.0" cy="305.7" r="1.25" fill="#00fcff"/><circle cx="402.7" cy="305.7" r="1.25" fill="#00fcff"/><circle cx="407.0" cy="305.9" r="1.25" fill="#00fcff"/><circle cx="404.5" cy="305.9" r="1.25" fill="#00fcff"/><circle cx="402.2" cy="306.0" r="1.25" fill="#00fcff"/><circle cx="405.2" cy="306.0" r="1.25" fill="#00fcff"/><circle cx="404.8" cy="306.0" r="1.25" fill="#00fcff"/><circle cx="409.2" cy="306.0" r="1.25" fill="#00fcff"/><circle cx="407.3" cy="306.2" r="1.25" fill="#00f6ff"/><circle cx="406.3" cy="306.3" r="1.25" fill="#00f6ff"/><circle cx="404.6" cy="306.4" r="1.25" fill="#00f6ff"/><circle cx="404.4" cy="306.4" r="1.25" fill="#00f6ff"/><circle cx="406.6" cy="306.4" r="1.25" fill="#00f6ff"/><circle cx="402.8" cy="306.5" r="1.25" fill="#00f6ff"/><circle cx="400.1" cy="306.8" r="1.25" fill="#00f0ff"/><circle cx="402.5" cy="306.7" r="1.25" fill="#00f0ff"/><circle cx="403.5" cy="306.9" r="1.25" fill="#00f0ff"/><circle cx="401.5" cy="307.0" r="1.25" fill="#00f0ff"/><circle cx="403.6" cy="307.0" r="1.25" fill="#00f0ff"/><circle cx="402.7" cy="307.1" r="1.25" fill="#00f0ff"/><circle cx="400.0" cy="307.5" r="1.25" fill="#00eaff"/><circle cx="404.3" cy="307.2" r="1.25" fill="#00eaff"/><circle cx="407.5" cy="307.1" r="1.25" fill="#00eaff"/><circle cx="401.4" cy="307.5" r="1.25" fill="#00eaff"/><circle cx="403.6" cy="307.4" r="1.25" fill="#00eaff"/><circle cx="406.7" cy="307.2" r="1.25" fill="#00eaff"/><circle cx="399.8" cy="308.0" r="1.25" fill="#00e5ff"/><circle cx="400.9" cy="307.9" r="1.25" fill="#00e5ff"/><circle cx="409.4" cy="307.2" r="1.25" fill="#00e5ff"/><circle cx="404.9" cy="307.6" r="1.25" fill="#00e5ff"/><circle cx="403.3" cy="307.9" r="1.25" fill="#00e5ff"/><circle cx="401.3" cy="308.1" r="1.25" fill="#00e5ff"/><circle cx="398.5" cy="308.6" r="1.25" fill="#00e5ff"/><circle cx="401.3" cy="308.3" r="1.25" fill="#00e5ff"/><circle cx="405.2" cy="308.1" r="1.25" fill="#00dfff"/><circle cx="401.9" cy="308.5" r="1.25" fill="#00dfff"/><circle cx="402.7" cy="308.5" r="1.25" fill="#00dfff"/><circle cx="403.1" cy="308.4" r="1.25" fill="#00dfff"/><circle cx="404.3" cy="308.5" r="1.25" fill="#00dfff"/><circle cx="400.5" cy="309.0" r="1.25" fill="#00dfff"/><circle cx="400.4" cy="309.2" r="1.25" fill="#00d9ff"/><circle cx="403.6" cy="308.7" r="1.25" fill="#00d9ff"/><circle cx="404.7" cy="308.6" r="1.25" fill="#00d9ff"/><circle cx="397.8" cy="309.6" r="1.25" fill="#00d9ff"/><circle cx="401.5" cy="309.3" r="1.25" fill="#00d9ff"/><circle cx="398.7" cy="309.8" r="1.25" fill="#00d9ff"/><circle cx="404.6" cy="309.0" r="1.25" fill="#00d9ff"/><circle cx="402.8" cy="309.2" r="1.25" fill="#00d9ff"/><circle cx="401.4" cy="309.7" r="1.25" fill="#00d3ff"/><circle cx="403.1" cy="309.4" r="1.25" fill="#00d3ff"/><circle cx="401.2" cy="309.9" r="1.25" fill="#00d3ff"/><circle cx="398.3" cy="310.3" r="1.25" fill="#00d3ff"/><circle cx="399.9" cy="310.2" r="1.25" fill="#00d3ff"/><circle cx="400.6" cy="310.0" r="1.25" fill="#00d3ff"/><circle cx="399.0" cy="310.5" r="1.25" fill="#00d3ff"/><circle cx="405.9" cy="309.3" r="1.25" fill="#00d3ff"/><circle cx="400.5" cy="310.5" r="1.25" fill="#00cdff"/><circle cx="400.1" cy="310.6" r="1.25" fill="#00cdff"/><circle cx="403.9" cy="310.1" r="1.25" fill="#00cdff"/><circle cx="402.6" cy="310.3" r="1.25" fill="#00cdff"/><circle cx="404.3" cy="310.0" r="1.25" fill="#00cdff"/><circle cx="399.3" cy="311.0" r="1.25" fill="#00cdff"/><circle cx="402.2" cy="310.6" r="1.25" fill="#00c7ff"/><circle cx="401.3" cy="310.8" r="1.25" fill="#00c7ff"/><circle cx="402.3" cy="310.8" r="1.25" fill="#00c7ff"/><circle cx="405.2" cy="310.2" r="1.25" fill="#00c7ff"/><circle cx="400.4" cy="311.4" r="1.25" fill="#00c7ff"/><circle cx="405.0" cy="310.4" r="1.25" fill="#00c7ff"/><circle cx="404.6" cy="310.6" r="1.25" fill="#00c7ff"/><circle cx="397.6" cy="312.2" r="1.25" fill="#00c7ff"/><circle cx="403.4" cy="311.1" r="1.25" fill="#00c1ff"/><circle cx="399.4" cy="312.0" r="1.25" fill="#00c1ff"/><circle cx="400.2" cy="311.9" r="1.25" fill="#00c1ff"/><circle cx="403.1" cy="311.2" r="1.25" fill="#00c1ff"/><circle cx="403.5" cy="311.3" r="1.25" fill="#00c1ff"/><circle cx="402.9" cy="311.5" r="1.25" fill="#00c1ff"/><circle cx="403.2" cy="311.6" r="1.25" fill="#00bbff"/><circle cx="401.0" cy="312.2" r="1.25" fill="#00bbff"/><circle cx="400.8" cy="312.4" r="1.25" fill="#00bbff"/><circle cx="401.5" cy="312.3" r="1.25" fill="#00bbff"/><circle cx="401.5" cy="312.4" r="1.25" fill="#00bbff"/><circle cx="399.6" cy="312.9" r="1.25" fill="#00bbff"/><circle cx="398.8" cy="313.3" r="1.25" fill="#00bbff"/><circle cx="396.1" cy="314.1" r="1.25" fill="#00bbff"/><circle cx="396.8" cy="314.2" r="1.25" fill="#00b5ff"/><circle cx="398.9" cy="313.6" r="1.25" fill="#00b5ff"/><circle cx="402.9" cy="312.5" r="1.25" fill="#00b5ff"/><circle cx="395.1" cy="314.9" r="1.25" fill="#00b5ff"/><circle cx="396.7" cy="314.5" r="1.25" fill="#00b5ff"/><circle cx="395.3" cy="315.0" r="1.25" fill="#00b5ff"/><circle cx="399.2" cy="314.0" r="1.25" fill="#00afff"/><circle cx="394.3" cy="315.6" r="1.25" fill="#00afff"/><circle cx="398.7" cy="314.4" r="1.25" fill="#00afff"/><circle cx="396.2" cy="315.2" r="1.25" fill="#00afff"/><circle cx="396.1" cy="315.5" r="1.25" fill="#00afff"/><circle cx="397.6" cy="315.0" r="1.25" fill="#00afff"/><circle cx="392.0" cy="317.1" r="1.25" fill="#00aaff"/><circle cx="390.3" cy="317.7" r="1.25" fill="#00aaff"/><circle cx="395.1" cy="316.1" r="1.25" fill="#00aaff"/><circle cx="394.8" cy="316.2" r="1.25" fill="#00aaff"/><circle cx="392.0" cy="317.5" r="1.25" fill="#00aaff"/><circle cx="396.7" cy="315.9" r="1.25" fill="#00aaff"/><circle cx="391.1" cy="318.2" r="1.25" fill="#00aaff"/><circle cx="388.6" cy="319.1" r="1.25" fill="#00aaff"/><circle cx="393.1" cy="317.6" r="1.25" fill="#00a4ff"/><circle cx="392.0" cy="318.0" r="1.25" fill="#00a4ff"/><circle cx="391.7" cy="318.3" r="1.25" fill="#00a4ff"/><circle cx="390.8" cy="318.6" r="1.25" fill="#00a4ff"/><circle cx="384.0" cy="321.7" r="1.25" fill="#00a4ff"/><circle cx="386.0" cy="320.9" r="1.25" fill="#00a4ff"/><circle cx="380.9" cy="323.1" r="1.25" fill="#00a4ff"/><circle cx="383.3" cy="322.1" r="1.25" fill="#00a4ff"/><circle cx="382.3" cy="323.0" r="1.25" fill="#009eff"/><circle cx="379.9" cy="323.9" r="1.25" fill="#009eff"/><circle cx="372.9" cy="327.3" r="1.25" fill="#009eff"/><circle cx="375.2" cy="326.4" r="1.25" fill="#009eff"/><circle cx="379.5" cy="324.8" r="1.25" fill="#009eff"/><circle cx="376.7" cy="326.0" r="1.25" fill="#009eff"/><circle cx="372.8" cy="327.9" r="1.25" fill="#0098ff"/><circle cx="372.5" cy="328.1" r="1.25" fill="#0098ff"/><circle cx="374.7" cy="327.5" r="1.25" fill="#0098ff"/><circle cx="370.5" cy="329.3" r="1.25" fill="#0098ff"/><circle cx="373.8" cy="328.5" r="1.25" fill="#0098ff"/><circle cx="370.4" cy="330.0" r="1.25" fill="#0098ff"/><circle cx="372.9" cy="329.1" r="1.25" fill="#0098ff"/><circle cx="374.7" cy="328.3" r="1.25" fill="#0098ff"/><circle cx="371.6" cy="330.2" r="1.25" fill="#0092ff"/><circle cx="370.6" cy="330.7" r="1.25" fill="#0092ff"/><circle cx="373.3" cy="330.1" r="1.25" fill="#0092ff"/><circle cx="374.3" cy="329.7" r="1.25" fill="#0092ff"/><circle cx="374.6" cy="329.8" r="1.25" fill="#0092ff"/><circle cx="372.4" cy="330.9" r="1.25" fill="#0092ff"/><circle cx="371.1" cy="332.2" r="1.25" fill="#008cff"/><circle cx="372.9" cy="331.3" r="1.25" fill="#008cff"/><circle cx="372.4" cy="331.9" r="1.25" fill="#008cff"/><circle cx="373.7" cy="331.2" r="1.25" fill="#008cff"/><circle cx="373.7" cy="331.6" r="1.25" fill="#008cff"/><circle cx="374.3" cy="331.3" r="1.25" fill="#008cff"/><circle cx="372.7" cy="332.4" r="1.25" fill="#008cff"/><circle cx="374.5" cy="331.5" r="1.25" fill="#008cff"/><circle cx="374.4" cy="332.1" r="1.25" fill="#0086ff"/><circle cx="371.5" cy="333.6" r="1.25" fill="#0086ff"/><circle cx="366.5" cy="336.5" r="1.25" fill="#0086ff"/><circle cx="372.2" cy="333.6" r="1.25" fill="#0086ff"/><circle cx="374.0" cy="333.4" r="1.25" fill="#0086ff"/><circle cx="375.4" cy="332.6" r="1.25" fill="#0086ff"/><circle cx="375.4" cy="332.8" r="1.25" fill="#0080ff"/><circle cx="374.4" cy="333.4" r="1.25" fill="#0080ff"/><circle cx="372.0" cy="335.2" r="1.25" fill="#0080ff"/><circle cx="374.8" cy="333.7" r="1.25" fill="#0080ff"/><circle cx="371.0" cy="336.2" r="1.25" fill="#0080ff"/><circle cx="374.3" cy="334.4" r="1.25" fill="#0080ff"/><circle cx="376.6" cy="333.4" r="1.25" fill="#0080ff"/><circle cx="372.2" cy="335.9" r="1.25" fill="#0080ff"/><circle cx="375.9" cy="334.3" r="1.25" fill="#007aff"/><circle cx="371.3" cy="336.9" r="1.25" fill="#007aff"/><circle cx="378.0" cy="333.9" r="1.25" fill="#007aff"/><circle cx="376.6" cy="334.7" r="1.25" fill="#007aff"/><circle cx="377.5" cy="334.4" r="1.25" fill="#007aff"/><circle cx="371.7" cy="337.9" r="1.25" fill="#007aff"/><circle cx="374.0" cy="337.0" r="1.25" fill="#0074ff"/><circle cx="375.8" cy="335.9" r="1.25" fill="#0074ff"/><circle cx="373.3" cy="337.9" r="1.25" fill="#0074ff"/><circle cx="371.9" cy="338.7" r="1.25" fill="#0074ff"/><circle cx="374.0" cy="337.8" r="1.25" fill="#0074ff"/><circle cx="373.1" cy="338.4" r="1.25" fill="#0074ff"/><circle cx="375.4" cy="337.6" r="1.25" fill="#0074ff"/><circle cx="372.4" cy="339.5" r="1.25" fill="#0074ff"/><circle cx="376.5" cy="337.6" r="1.25" fill="#006eff"/><circle cx="378.5" cy="336.3" r="1.25" fill="#006eff"/><circle cx="375.3" cy="338.5" r="1.25" fill="#006eff"/><circle cx="374.2" cy="339.2" r="1.25" fill="#006eff"/><circle cx="376.0" cy="338.8" r="1.25" fill="#006eff"/><circle cx="373.6" cy="340.4" r="1.25" fill="#006eff"/><circle cx="374.3" cy="340.1" r="1.25" fill="#006eff"/><circle cx="373.5" cy="340.7" r="1.25" fill="#006eff"/><circle cx="372.2" cy="342.3" r="1.25" fill="#006eff"/><circle cx="376.6" cy="339.2" r="1.25" fill="#006eff"/><circle cx="375.9" cy="340.1" r="1.25" fill="#0069ff"/><circle cx="374.3" cy="341.3" r="1.25" fill="#0069ff"/><circle cx="377.6" cy="339.8" r="1.25" fill="#0069ff"/><circle cx="372.7" cy="343.3" r="1.25" fill="#0069ff"/><circle cx="375.1" cy="342.0" r="1.25" fill="#0069ff"/><circle cx="375.7" cy="341.6" r="1.25" fill="#0069ff"/><circle cx="376.2" cy="341.6" r="1.25" fill="#0069ff"/><circle cx="375.0" cy="342.4" r="1.25" fill="#0069ff"/><circle cx="377.3" cy="341.5" r="1.25" fill="#0063ff"/><circle cx="372.7" cy="345.0" r="1.25" fill="#0063ff"/><circle cx="373.9" cy="344.4" r="1.25" fill="#0063ff"/><circle cx="375.1" cy="343.5" r="1.25" fill="#0063ff"/><circle cx="374.8" cy="344.1" r="1.25" fill="#0063ff"/><circle cx="375.6" cy="343.5" r="1.25" fill="#0063ff"/><circle cx="374.4" cy="345.2" r="1.25" fill="#005dff"/><circle cx="375.7" cy="344.2" r="1.25" fill="#005dff"/><circle cx="377.3" cy="343.4" r="1.25" fill="#005dff"/><circle cx="376.6" cy="343.9" r="1.25" fill="#005dff"/><circle cx="377.0" cy="344.3" r="1.25" fill="#005dff"/><circle cx="373.7" cy="347.0" r="1.25" fill="#005dff"/><circle cx="376.4" cy="345.3" r="1.25" fill="#005dff"/><circle cx="376.1" cy="345.6" r="1.25" fill="#005dff"/><circle cx="377.9" cy="344.5" r="1.25" fill="#005dff"/><circle cx="379.4" cy="343.3" r="1.25" fill="#005dff"/><circle cx="377.0" cy="345.9" r="1.25" fill="#0057ff"/><circle cx="378.9" cy="344.2" r="1.25" fill="#0057ff"/><circle cx="379.0" cy="344.7" r="1.25" fill="#0057ff"/><circle cx="377.1" cy="346.2" r="1.25" fill="#0057ff"/><circle cx="375.9" cy="347.7" r="1.25" fill="#0057ff"/><circle cx="378.1" cy="345.8" r="1.25" fill="#0057ff"/><circle cx="377.3" cy="347.4" r="1.25" fill="#0057ff"/><circle cx="383.9" cy="341.6" r="1.25" fill="#0057ff"/><circle cx="381.4" cy="344.2" r="1.25" fill="#0051ff"/><circle cx="383.1" cy="342.7" r="1.25" fill="#0051ff"/><circle cx="380.8" cy="345.2" r="1.25" fill="#0051ff"/><circle cx="382.4" cy="343.9" r="1.25" fill="#0051ff"/><circle cx="379.6" cy="347.3" r="1.25" fill="#0051ff"/><circle cx="381.5" cy="345.6" r="1.25" fill="#0051ff"/><circle cx="379.1" cy="348.2" r="1.25" fill="#0051ff"/><circle cx="379.7" cy="347.6" r="1.25" fill="#0051ff"/><circle cx="379.4" cy="348.4" r="1.25" fill="#004bff"/><circle cx="380.4" cy="347.4" r="1.25" fill="#004bff"/><circle cx="386.9" cy="341.8" r="1.25" fill="#004bff"/><circle cx="385.4" cy="343.2" r="1.25" fill="#004bff"/><circle cx="391.4" cy="337.9" r="1.25" fill="#004bff"/><circle cx="388.6" cy="340.7" r="1.25" fill="#004bff"/><circle cx="395.6" cy="334.4" r="1.25" fill="#004bff"/><circle cx="396.1" cy="333.9" r="1.25" fill="#004bff"/><circle cx="400.6" cy="329.8" r="1.25" fill="#0045ff"/><circle cx="398.0" cy="332.3" r="1.25" fill="#0045ff"/><circle cx="407.3" cy="323.5" r="1.25" fill="#0045ff"/><circle cx="406.3" cy="324.6" r="1.25" fill="#0045ff"/><circle cx="406.9" cy="324.3" r="1.25" fill="#0045ff"/><circle cx="407.2" cy="324.0" r="1.25" fill="#0045ff"/><circle cx="407.4" cy="324.0" r="1.25" fill="#0045ff"/><circle cx="406.5" cy="324.9" r="1.25" fill="#0045ff"/><circle cx="405.2" cy="326.5" r="1.25" fill="#003fff"/><circle cx="406.4" cy="325.2" r="1.25" fill="#003fff"/><circle cx="408.8" cy="323.0" r="1.25" fill="#003fff"/><circle cx="407.0" cy="324.9" r="1.25" fill="#003fff"/><circle cx="405.9" cy="326.3" r="1.25" fill="#003fff"/><circle cx="407.2" cy="324.9" r="1.25" fill="#003fff"/><circle cx="408.9" cy="323.5" r="1.25" fill="#003fff"/><circle cx="408.2" cy="324.2" r="1.25" fill="#003fff"/><circle cx="407.1" cy="325.7" r="1.25" fill="#0039ff"/><circle cx="406.1" cy="326.8" r="1.25" fill="#0039ff"/><circle cx="406.5" cy="326.6" r="1.25" fill="#0039ff"/><circle cx="408.5" cy="324.4" r="1.25" fill="#0039ff"/><circle cx="405.5" cy="328.0" r="1.25" fill="#0039ff"/><circle cx="409.2" cy="323.9" r="1.25" fill="#0039ff"/><circle cx="409.6" cy="323.7" r="1.25" fill="#0039ff"/><circle cx="409.5" cy="323.7" r="1.25" fill="#0039ff"/><circle cx="409.0" cy="324.5" r="1.25" fill="#0033ff"/><circle cx="405.5" cy="328.7" r="1.25" fill="#0033ff"/><circle cx="411.3" cy="322.1" r="1.25" fill="#0033ff"/><circle cx="406.4" cy="328.1" r="1.25" fill="#0033ff"/><circle cx="407.5" cy="326.7" r="1.25" fill="#0033ff"/><circle cx="407.3" cy="327.0" r="1.25" fill="#0033ff"/><circle cx="411.8" cy="321.9" r="1.25" fill="#0033ff"/><circle cx="405.6" cy="329.4" r="1.25" fill="#0033ff"/><circle cx="408.7" cy="325.9" r="1.25" fill="#002dff"/><circle cx="408.1" cy="326.7" r="1.25" fill="#002dff"/><circle cx="409.4" cy="325.5" r="1.25" fill="#002dff"/><circle cx="409.3" cy="325.6" r="1.25" fill="#002dff"/><circle cx="410.5" cy="324.4" r="1.25" fill="#002dff"/><circle cx="408.9" cy="326.4" r="1.25" fill="#002dff"/><circle cx="410.9" cy="324.1" r="1.25" fill="#002dff"/><circle cx="411.3" cy="323.6" r="1.25" fill="#002dff"/><circle cx="412.6" cy="322.2" r="1.25" fill="#0028ff"/><circle cx="411.0" cy="324.3" r="1.25" fill="#0028ff"/><circle cx="410.8" cy="324.8" r="1.25" fill="#0028ff"/><circle cx="409.0" cy="327.3" r="1.25" fill="#0028ff"/><circle cx="411.2" cy="324.5" r="1.25" fill="#0028ff"/><circle cx="408.1" cy="328.7" r="1.25" fill="#0028ff"/><circle cx="411.9" cy="323.8" r="1.25" fill="#0028ff"/><circle cx="414.0" cy="321.0" r="1.25" fill="#0028ff"/><circle cx="409.6" cy="327.4" r="1.25" fill="#0022ff"/><circle cx="408.9" cy="328.3" r="1.25" fill="#0022ff"/><circle cx="412.1" cy="324.1" r="1.25" fill="#0022ff"/><circle cx="411.3" cy="325.2" r="1.25" fill="#0022ff"/><circle cx="410.9" cy="325.9" r="1.25" fill="#0022ff"/><circle cx="412.7" cy="323.4" r="1.25" fill="#0022ff"/><circle cx="411.1" cy="326.0" r="1.25" fill="#0022ff"/><circle cx="409.8" cy="327.8" r="1.25" fill="#0022ff"/><circle cx="412.0" cy="325.0" r="1.25" fill="#0022ff"/><circle cx="411.3" cy="326.0" r="1.25" fill="#0022ff"/><circle cx="410.8" cy="327.0" r="1.25" fill="#001cff"/><circle cx="411.1" cy="326.5" r="1.25" fill="#001cff"/><circle cx="410.5" cy="327.9" r="1.25" fill="#001cff"/><circle cx="410.7" cy="327.7" r="1.25" fill="#001cff"/><circle cx="412.7" cy="325.0" r="1.25" fill="#001cff"/><circle cx="411.8" cy="326.4" r="1.25" fill="#001cff"/><circle cx="411.8" cy="326.7" r="1.25" fill="#0016ff"/><circle cx="412.4" cy="325.7" r="1.25" fill="#0016ff"/><circle cx="414.5" cy="322.5" r="1.25" fill="#0016ff"/><circle cx="412.2" cy="326.1" r="1.25" fill="#0016ff"/><circle cx="412.5" cy="326.0" r="1.25" fill="#0016ff"/><circle cx="413.3" cy="324.7" r="1.25" fill="#0016ff"/><circle cx="413.1" cy="325.5" r="1.25" fill="#0016ff"/><circle cx="411.5" cy="328.1" r="1.25" fill="#0016ff"/><circle cx="411.4" cy="328.6" r="1.25" fill="#0010ff"/><circle cx="414.7" cy="323.0" r="1.25" fill="#0010ff"/><circle cx="414.6" cy="323.5" r="1.25" fill="#0010ff"/><circle cx="411.9" cy="328.0" r="1.25" fill="#0010ff"/><circle cx="412.0" cy="328.3" r="1.25" fill="#0010ff"/><circle cx="415.0" cy="323.1" r="1.25" fill="#0010ff"/><circle cx="414.5" cy="324.2" r="1.25" fill="#0010ff"/><circle cx="411.8" cy="328.7" r="1.25" fill="#0010ff"/><circle cx="413.3" cy="326.6" r="1.25" fill="#0010ff"/><circle cx="413.2" cy="326.8" r="1.25" fill="#0010ff"/><circle cx="410.6" cy="332.0" r="1.25" fill="#020cff"/><circle cx="414.7" cy="324.4" r="1.25" fill="#020cff"/><circle cx="414.1" cy="325.7" r="1.25" fill="#020cff"/><circle cx="414.8" cy="324.4" r="1.25" fill="#020cff"/><circle cx="416.1" cy="322.5" r="1.25" fill="#020cff"/><circle cx="412.3" cy="329.7" r="1.25" fill="#020cff"/><circle cx="412.4" cy="330.0" r="1.25" fill="#0408ff"/><circle cx="413.6" cy="327.7" r="1.25" fill="#0408ff"/><circle cx="413.3" cy="328.4" r="1.25" fill="#0408ff"/><circle cx="413.9" cy="327.1" r="1.25" fill="#0408ff"/><circle cx="413.9" cy="327.8" r="1.25" fill="#0408ff"/><circle cx="414.5" cy="326.6" r="1.25" fill="#0408ff"/><circle cx="413.2" cy="329.4" r="1.25" fill="#0408ff"/><circle cx="414.3" cy="327.1" r="1.25" fill="#0408ff"/><circle cx="415.4" cy="325.3" r="1.25" fill="#0604ff"/><circle cx="414.1" cy="328.1" r="1.25" fill="#0604ff"/><circle cx="414.5" cy="327.7" r="1.25" fill="#0604ff"/><circle cx="415.7" cy="325.2" r="1.25" fill="#0604ff"/><circle cx="416.4" cy="323.9" r="1.25" fill="#0604ff"/><circle cx="416.3" cy="324.1" r="1.25" fill="#0604ff"/><circle cx="416.6" cy="324.1" r="1.25" fill="#0604ff"/><circle cx="414.3" cy="329.0" r="1.25" fill="#0604ff"/><circle cx="415.3" cy="327.2" r="1.25" fill="#0800ff"/><circle cx="416.0" cy="325.5" r="1.25" fill="#0800ff"/><circle cx="413.7" cy="330.9" r="1.25" fill="#0800ff"/><circle cx="414.1" cy="330.1" r="1.25" fill="#0800ff"/><circle cx="416.3" cy="325.6" r="1.25" fill="#0800ff"/><circle cx="415.7" cy="326.9" r="1.25" fill="#0800ff"/><circle cx="414.7" cy="329.7" r="1.25" fill="#0800ff"/><circle cx="415.8" cy="327.1" r="1.25" fill="#0800ff"/><circle cx="416.6" cy="325.5" r="1.25" fill="#0800ff"/><circle cx="416.6" cy="325.5" r="1.25" fill="#0800ff"/><circle cx="417.2" cy="324.6" r="1.25" fill="#0e00ff"/><circle cx="416.2" cy="327.0" r="1.25" fill="#0e00ff"/><circle cx="416.1" cy="327.6" r="1.25" fill="#0e00ff"/><circle cx="416.3" cy="327.0" r="1.25" fill="#0e00ff"/><circle cx="416.9" cy="326.4" r="1.25" fill="#0e00ff"/><circle cx="416.4" cy="327.7" r="1.25" fill="#0e00ff"/><circle cx="419.9" cy="318.9" r="1.25" fill="#0e00ff"/><circle cx="416.4" cy="327.6" r="1.25" fill="#0e00ff"/><circle cx="416.2" cy="328.6" r="1.25" fill="#1300ff"/><circle cx="417.7" cy="324.8" r="1.25" fill="#1300ff"/><circle cx="416.8" cy="327.6" r="1.25" fill="#1300ff"/><circle cx="418.0" cy="324.6" r="1.25" fill="#1300ff"/><circle cx="418.5" cy="323.5" r="1.25" fill="#1300ff"/><circle cx="417.6" cy="325.7" r="1.25" fill="#1300ff"/><circle cx="417.8" cy="325.8" r="1.25" fill="#1300ff"/><circle cx="415.5" cy="332.2" r="1.25" fill="#1300ff"/><circle cx="416.8" cy="329.3" r="1.25" fill="#1900ff"/><circle cx="417.8" cy="326.7" r="1.25" fill="#1900ff"/><circle cx="418.0" cy="326.5" r="1.25" fill="#1900ff"/><circle cx="418.4" cy="325.3" r="1.25" fill="#1900ff"/><circle cx="417.7" cy="327.3" r="1.25" fill="#1900ff"/><circle cx="417.6" cy="327.8" r="1.25" fill="#1900ff"/><circle cx="418.9" cy="324.2" r="1.25" fill="#1900ff"/><circle cx="417.1" cy="329.8" r="1.25" fill="#1900ff"/><circle cx="418.4" cy="326.4" r="1.25" fill="#1f00ff"/><circle cx="418.3" cy="326.7" r="1.25" fill="#1f00ff"/><circle cx="418.3" cy="327.0" r="1.25" fill="#1f00ff"/><circle cx="418.5" cy="326.6" r="1.25" fill="#1f00ff"/><circle cx="418.2" cy="328.2" r="1.25" fill="#1f00ff"/><circle cx="419.9" cy="322.7" r="1.25" fill="#1f00ff"/><circle cx="419.9" cy="323.2" r="1.25" fill="#1f00ff"/><circle cx="418.1" cy="329.2" r="1.25" fill="#1f00ff"/><circle cx="418.8" cy="327.4" r="1.25" fill="#2500ff"/><circle cx="421.0" cy="319.7" r="1.25" fill="#2500ff"/><circle cx="418.4" cy="328.9" r="1.25" fill="#2500ff"/><circle cx="419.3" cy="325.9" r="1.25" fill="#2500ff"/><circle cx="419.3" cy="326.6" r="1.25" fill="#2500ff"/><circle cx="417.9" cy="331.9" r="1.25" fill="#2500ff"/><circle cx="419.8" cy="325.0" r="1.25" fill="#2500ff"/><circle cx="419.6" cy="325.8" r="1.25" fill="#2500ff"/><circle cx="420.2" cy="324.1" r="1.25" fill="#2b00ff"/><circle cx="418.9" cy="329.1" r="1.25" fill="#2b00ff"/><circle cx="420.4" cy="324.2" r="1.25" fill="#2b00ff"/><circle cx="419.2" cy="329.1" r="1.25" fill="#2b00ff"/><circle cx="420.2" cy="325.5" r="1.25" fill="#2b00ff"/><circle cx="418.6" cy="331.7" r="1.25" fill="#2b00ff"/><circle cx="419.6" cy="328.3" r="1.25" fill="#2b00ff"/><circle cx="419.8" cy="327.7" r="1.25" fill="#2b00ff"/><circle cx="420.1" cy="327.4" r="1.25" fill="#3100ff"/><circle cx="419.4" cy="330.3" r="1.25" fill="#3100ff"/><circle cx="420.6" cy="325.8" r="1.25" fill="#3100ff"/><circle cx="420.7" cy="325.0" r="1.25" fill="#3100ff"/><circle cx="420.2" cy="327.8" r="1.25" fill="#3100ff"/><circle cx="420.1" cy="328.2" r="1.25" fill="#3100ff"/><circle cx="420.1" cy="329.2" r="1.25" fill="#3100ff"/><circle cx="420.7" cy="326.5" r="1.25" fill="#3100ff"/><circle cx="421.1" cy="325.0" r="1.25" fill="#3700ff"/><circle cx="420.3" cy="329.1" r="1.25" fill="#3700ff"/><circle cx="420.8" cy="327.7" r="1.25" fill="#3700ff"/><circle cx="420.2" cy="331.1" r="1.25" fill="#3700ff"/><circle cx="421.2" cy="326.3" r="1.25" fill="#3700ff"/><circle cx="421.4" cy="325.1" r="1.25" fill="#3700ff"/><circle cx="422.4" cy="320.5" r="1.25" fill="#3700ff"/><circle cx="420.9" cy="328.9" r="1.25" fill="#3700ff"/><circle cx="422.0" cy="322.9" r="1.25" fill="#3d00ff"/><circle cx="421.1" cy="328.3" r="1.25" fill="#3d00ff"/><circle cx="421.7" cy="325.6" r="1.25" fill="#3d00ff"/><circle cx="421.0" cy="329.8" r="1.25" fill="#3d00ff"/><circle cx="422.0" cy="325.4" r="1.25" fill="#3d00ff"/><circle cx="421.7" cy="327.5" r="1.25" fill="#3d00ff"/><circle cx="421.7" cy="327.4" r="1.25" fill="#3d00ff"/><circle cx="421.9" cy="326.0" r="1.25" fill="#3d00ff"/><circle cx="422.5" cy="323.4" r="1.25" fill="#4300ff"/><circle cx="421.8" cy="328.5" r="1.25" fill="#4300ff"/><circle cx="422.7" cy="322.1" r="1.25" fill="#4300ff"/><circle cx="422.7" cy="322.5" r="1.25" fill="#4300ff"/><circle cx="422.7" cy="323.9" r="1.25" fill="#4300ff"/><circle cx="422.7" cy="323.8" r="1.25" fill="#4300ff"/><circle cx="422.1" cy="329.4" r="1.25" fill="#4300ff"/><circle cx="422.2" cy="329.0" r="1.25" fill="#4300ff"/><circle cx="423.1" cy="322.3" r="1.25" fill="#4900ff"/><circle cx="422.6" cy="326.9" r="1.25" fill="#4900ff"/><circle cx="423.0" cy="324.4" r="1.25" fill="#4900ff"/><circle cx="422.7" cy="327.0" r="1.25" fill="#4900ff"/><circle cx="423.3" cy="323.0" r="1.25" fill="#4900ff"/><circle cx="423.1" cy="324.4" r="1.25" fill="#4900ff"/><circle cx="423.2" cy="323.8" r="1.25" fill="#4900ff"/><circle cx="423.3" cy="323.8" r="1.25" fill="#4900ff"/><circle cx="423.7" cy="320.8" r="1.25" fill="#4f00ff"/><circle cx="423.6" cy="322.4" r="1.25" fill="#4f00ff"/><circle cx="424.0" cy="317.9" r="1.25" fill="#4f00ff"/><circle cx="423.2" cy="327.1" r="1.25" fill="#4f00ff"/><circle cx="423.7" cy="323.9" r="1.25" fill="#4f00ff"/><circle cx="423.3" cy="329.3" r="1.25" fill="#4f00ff"/><circle cx="424.0" cy="321.3" r="1.25" fill="#4f00ff"/><circle cx="423.6" cy="328.3" r="1.25" fill="#4f00ff"/><circle cx="423.6" cy="328.3" r="1.25" fill="#4f00ff"/><circle cx="423.8" cy="325.2" r="1.25" fill="#4f00ff"/><circle cx="423.8" cy="327.3" r="1.25" fill="#5400ff"/><circle cx="424.1" cy="322.3" r="1.25" fill="#5400ff"/><circle cx="424.1" cy="327.4" r="1.25" fill="#5400ff"/><circle cx="424.3" cy="321.3" r="1.25" fill="#5400ff"/><circle cx="424.2" cy="326.2" r="1.25" fill="#5400ff"/><circle cx="424.3" cy="325.2" r="1.25" fill="#5400ff"/><circle cx="424.5" cy="324.7" r="1.25" fill="#5a00ff"/><circle cx="424.5" cy="323.3" r="1.25" fill="#5a00ff"/><circle cx="424.6" cy="322.1" r="1.25" fill="#5a00ff"/><circle cx="424.6" cy="326.0" r="1.25" fill="#5a00ff"/><circle cx="424.7" cy="325.7" r="1.25" fill="#5a00ff"/><circle cx="424.7" cy="326.9" r="1.25" fill="#5a00ff"/><circle cx="424.8" cy="327.8" r="1.25" fill="#5a00ff"/><circle cx="424.8" cy="326.4" r="1.25" fill="#5a00ff"/><circle cx="425.0" cy="323.1" r="1.25" fill="#6000ff"/><circle cx="425.0" cy="325.0" r="1.25" fill="#6000ff"/><circle cx="425.1" cy="327.6" r="1.25" fill="#6000ff"/><circle cx="425.1" cy="321.5" r="1.25" fill="#6000ff"/><circle cx="425.2" cy="328.6" r="1.25" fill="#6000ff"/><circle cx="425.2" cy="322.4" r="1.25" fill="#6000ff"/><circle cx="425.3" cy="324.2" r="1.25" fill="#6000ff"/><circle cx="425.3" cy="325.8" r="1.25" fill="#6000ff"/><circle cx="425.3" cy="322.1" r="1.25" fill="#6600ff"/><circle cx="425.5" cy="329.1" r="1.25" fill="#6600ff"/><circle cx="425.7" cy="326.2" r="1.25" fill="#6600ff"/><circle cx="425.7" cy="326.1" r="1.25" fill="#6600ff"/><circle cx="425.8" cy="327.1" r="1.25" fill="#6600ff"/><circle cx="425.6" cy="322.2" r="1.25" fill="#6600ff"/><circle cx="426.2" cy="331.7" r="1.25" fill="#6c00ff"/><circle cx="426.1" cy="328.3" r="1.25" fill="#6c00ff"/><circle cx="425.8" cy="321.6" r="1.25" fill="#6c00ff"/><circle cx="425.8" cy="321.4" r="1.25" fill="#6c00ff"/><circle cx="426.2" cy="326.3" r="1.25" fill="#6c00ff"/><circle cx="426.4" cy="328.6" r="1.25" fill="#6c00ff"/><circle cx="426.4" cy="327.4" r="1.25" fill="#7200ff"/><circle cx="426.3" cy="325.3" r="1.25" fill="#7200ff"/><circle cx="426.3" cy="323.7" r="1.25" fill="#7200ff"/><circle cx="426.3" cy="323.7" r="1.25" fill="#7200ff"/><circle cx="426.5" cy="324.6" r="1.25" fill="#7200ff"/><circle cx="426.4" cy="323.7" r="1.25" fill="#7200ff"/><circle cx="426.6" cy="324.2" r="1.25" fill="#7800ff"/><circle cx="426.4" cy="322.5" r="1.25" fill="#7800ff"/><circle cx="427.2" cy="329.6" r="1.25" fill="#7800ff"/><circle cx="427.1" cy="329.1" r="1.25" fill="#7800ff"/><circle cx="426.9" cy="324.2" r="1.25" fill="#7800ff"/><circle cx="427.1" cy="326.5" r="1.25" fill="#7800ff"/><circle cx="427.0" cy="323.8" r="1.25" fill="#7e00ff"/><circle cx="426.7" cy="321.4" r="1.25" fill="#7e00ff"/><circle cx="427.1" cy="324.3" r="1.25" fill="#7e00ff"/><circle cx="427.5" cy="327.6" r="1.25" fill="#7e00ff"/><circle cx="427.1" cy="323.4" r="1.25" fill="#7e00ff"/><circle cx="427.1" cy="323.3" r="1.25" fill="#7e00ff"/><circle cx="427.3" cy="322.9" r="1.25" fill="#8400ff"/><circle cx="427.8" cy="326.7" r="1.25" fill="#8400ff"/><circle cx="427.9" cy="327.4" r="1.25" fill="#8400ff"/><circle cx="427.5" cy="324.4" r="1.25" fill="#8400ff"/><circle cx="427.9" cy="325.6" r="1.25" fill="#8400ff"/><circle cx="428.3" cy="328.5" r="1.25" fill="#8400ff"/><circle cx="428.1" cy="326.7" r="1.25" fill="#8a00ff"/><circle cx="427.7" cy="323.8" r="1.25" fill="#8a00ff"/><circle cx="427.9" cy="324.1" r="1.25" fill="#8a00ff"/><circle cx="427.7" cy="322.8" r="1.25" fill="#8a00ff"/><circle cx="427.7" cy="322.2" r="1.25" fill="#8a00ff"/><circle cx="428.7" cy="327.9" r="1.25" fill="#8a00ff"/><circle cx="428.2" cy="324.4" r="1.25" fill="#9000ff"/><circle cx="428.4" cy="325.6" r="1.25" fill="#9000ff"/><circle cx="428.4" cy="324.8" r="1.25" fill="#9000ff"/><circle cx="428.9" cy="327.9" r="1.25" fill="#9000ff"/><circle cx="428.5" cy="324.3" r="1.25" fill="#9000ff"/><circle cx="429.4" cy="328.9" r="1.25" fill="#9000ff"/><circle cx="428.8" cy="325.4" r="1.25" fill="#9500ff"/><circle cx="429.3" cy="327.8" r="1.25" fill="#9500ff"/><circle cx="429.1" cy="326.7" r="1.25" fill="#9500ff"/><circle cx="428.6" cy="324.1" r="1.25" fill="#9500ff"/><circle cx="428.5" cy="322.8" r="1.25" fill="#9500ff"/><circle cx="429.8" cy="329.1" r="1.25" fill="#9500ff"/><circle cx="428.7" cy="322.7" r="1.25" fill="#9b00ff"/><circle cx="428.9" cy="323.6" r="1.25" fill="#9b00ff"/><circle cx="429.5" cy="326.1" r="1.25" fill="#9b00ff"/><circle cx="429.1" cy="324.6" r="1.25" fill="#9b00ff"/><circle cx="428.8" cy="322.5" r="1.25" fill="#9b00ff"/><circle cx="430.1" cy="328.0" r="1.25" fill="#9b00ff"/><circle cx="428.9" cy="322.4" r="1.25" fill="#a100ff"/><circle cx="430.7" cy="329.6" r="1.25" fill="#a100ff"/><circle cx="430.7" cy="328.6" r="1.25" fill="#a100ff"/><circle cx="429.9" cy="325.7" r="1.25" fill="#a100ff"/><circle cx="429.4" cy="323.5" r="1.25" fill="#a100ff"/><circle cx="430.4" cy="327.3" r="1.25" fill="#a100ff"/><circle cx="429.6" cy="323.7" r="1.25" fill="#a100ff"/><circle cx="429.3" cy="322.3" r="1.25" fill="#a100ff"/><circle cx="432.3" cy="332.7" r="1.25" fill="#a700ff"/><circle cx="429.9" cy="324.1" r="1.25" fill="#a700ff"/><circle cx="430.8" cy="326.9" r="1.25" fill="#a700ff"/><circle cx="429.5" cy="322.1" r="1.25" fill="#a700ff"/><circle cx="430.7" cy="326.1" r="1.25" fill="#a700ff"/><circle cx="430.5" cy="325.2" r="1.25" fill="#a700ff"/><circle cx="429.8" cy="322.3" r="1.25" fill="#ad00ff"/><circle cx="431.2" cy="327.2" r="1.25" fill="#ad00ff"/><circle cx="431.2" cy="326.8" r="1.25" fill="#ad00ff"/><circle cx="430.7" cy="325.1" r="1.25" fill="#ad00ff"/><circle cx="431.3" cy="326.6" r="1.25" fill="#ad00ff"/><circle cx="431.4" cy="327.0" r="1.25" fill="#ad00ff"/><circle cx="431.5" cy="326.4" r="1.25" fill="#b300ff"/><circle cx="431.3" cy="325.9" r="1.25" fill="#b300ff"/><circle cx="430.3" cy="322.3" r="1.25" fill="#b300ff"/><circle cx="430.3" cy="322.4" r="1.25" fill="#b300ff"/><circle cx="431.8" cy="326.6" r="1.25" fill="#b300ff"/><circle cx="430.1" cy="321.5" r="1.25" fill="#b300ff"/><circle cx="432.2" cy="327.0" r="1.25" fill="#b900ff"/><circle cx="432.1" cy="326.9" r="1.25" fill="#b900ff"/><circle cx="432.8" cy="328.7" r="1.25" fill="#b900ff"/><circle cx="430.0" cy="320.7" r="1.25" fill="#b900ff"/><circle cx="432.6" cy="327.2" r="1.25" fill="#b900ff"/><circle cx="431.9" cy="325.4" r="1.25" fill="#b900ff"/><circle cx="431.5" cy="323.9" r="1.25" fill="#bf00ff"/><circle cx="431.8" cy="324.8" r="1.25" fill="#bf00ff"/><circle cx="431.7" cy="324.1" r="1.25" fill="#bf00ff"/><circle cx="433.0" cy="327.6" r="1.25" fill="#bf00ff"/><circle cx="431.7" cy="323.9" r="1.25" fill="#bf00ff"/><circle cx="431.9" cy="324.5" r="1.25" fill="#bf00ff"/><circle cx="431.5" cy="323.0" r="1.25" fill="#bf00ff"/><circle cx="432.2" cy="324.8" r="1.25" fill="#bf00ff"/><circle cx="432.5" cy="325.0" r="1.25" fill="#c500ff"/><circle cx="433.4" cy="327.3" r="1.25" fill="#c500ff"/><circle cx="432.7" cy="325.4" r="1.25" fill="#c500ff"/><circle cx="433.5" cy="327.4" r="1.25" fill="#c500ff"/><circle cx="431.0" cy="320.5" r="1.25" fill="#cb00ff"/><circle cx="433.2" cy="326.0" r="1.25" fill="#cb00ff"/><circle cx="433.1" cy="325.6" r="1.25" fill="#cb00ff"/><circle cx="432.4" cy="323.8" r="1.25" fill="#cb00ff"/><circle cx="432.1" cy="322.5" r="1.25" fill="#cb00ff"/><circle cx="432.9" cy="324.4" r="1.25" fill="#cb00ff"/><circle cx="434.9" cy="328.6" r="1.25" fill="#d000ff"/><circle cx="431.2" cy="320.3" r="1.25" fill="#d000ff"/><circle cx="433.9" cy="326.1" r="1.25" fill="#d000ff"/><circle cx="433.3" cy="324.8" r="1.25" fill="#d000ff"/><circle cx="433.3" cy="324.3" r="1.25" fill="#d000ff"/><circle cx="431.9" cy="321.1" r="1.25" fill="#d000ff"/><circle cx="433.3" cy="324.1" r="1.25" fill="#d000ff"/><circle cx="433.5" cy="324.6" r="1.25" fill="#d000ff"/><circle cx="432.8" cy="322.8" r="1.25" fill="#d600ff"/><circle cx="436.3" cy="330.3" r="1.25" fill="#d600ff"/><circle cx="434.1" cy="325.0" r="1.25" fill="#d600ff"/><circle cx="433.6" cy="324.0" r="1.25" fill="#d600ff"/><circle cx="434.8" cy="326.1" r="1.25" fill="#d600ff"/><circle cx="434.4" cy="325.4" r="1.25" fill="#d600ff"/><circle cx="435.0" cy="326.3" r="1.25" fill="#dc00ff"/><circle cx="433.6" cy="323.6" r="1.25" fill="#dc00ff"/><circle cx="433.0" cy="321.8" r="1.25" fill="#dc00ff"/><circle cx="432.4" cy="320.6" r="1.25" fill="#dc00ff"/><circle cx="433.3" cy="322.0" r="1.25" fill="#e200ff"/><circle cx="433.9" cy="323.3" r="1.25" fill="#e200ff"/><circle cx="433.9" cy="322.9" r="1.25" fill="#e200ff"/><circle cx="435.2" cy="325.5" r="1.25" fill="#e200ff"/><circle cx="434.7" cy="324.2" r="1.25" fill="#e200ff"/><circle cx="435.9" cy="326.4" r="1.25" fill="#e200ff"/><circle cx="433.8" cy="322.3" r="1.25" fill="#e200ff"/><circle cx="435.0" cy="324.6" r="1.25" fill="#e200ff"/><circle cx="434.6" cy="323.6" r="1.25" fill="#e800ff"/><circle cx="435.1" cy="324.5" r="1.25" fill="#e800ff"/><circle cx="436.6" cy="326.7" r="1.25" fill="#e800ff"/><circle cx="435.8" cy="325.2" r="1.25" fill="#e800ff"/><circle cx="434.6" cy="322.9" r="1.25" fill="#e800ff"/><circle cx="435.8" cy="325.1" r="1.25" fill="#e800ff"/><circle cx="434.6" cy="322.8" r="1.25" fill="#ee00ff"/><circle cx="436.1" cy="325.5" r="1.25" fill="#ee00ff"/><circle cx="435.8" cy="324.5" r="1.25" fill="#ee00ff"/><circle cx="437.6" cy="327.6" r="1.25" fill="#ee00ff"/><circle cx="437.0" cy="326.1" r="1.25" fill="#ee00ff"/><circle cx="435.7" cy="324.1" r="1.25" fill="#ee00ff"/><circle cx="437.6" cy="326.7" r="1.25" fill="#f400ff"/><circle cx="435.9" cy="323.9" r="1.25" fill="#f400ff"/><circle cx="434.8" cy="321.8" r="1.25" fill="#f400ff"/><circle cx="437.3" cy="325.8" r="1.25" fill="#f400ff"/><circle cx="435.4" cy="322.7" r="1.25" fill="#f400ff"/><circle cx="437.7" cy="326.4" r="1.25" fill="#f400ff"/><circle cx="435.5" cy="322.5" r="1.25" fill="#f800fd"/><circle cx="437.6" cy="325.8" r="1.25" fill="#f800fd"/><circle cx="436.2" cy="323.5" r="1.25" fill="#f800fd"/><circle cx="435.8" cy="322.7" r="1.25" fill="#f800fd"/><circle cx="436.3" cy="323.4" r="1.25" fill="#f800fd"/><circle cx="437.4" cy="325.1" r="1.25" fill="#f800fd"/><circle cx="434.0" cy="319.5" r="1.25" fill="#fa00f9"/><circle cx="437.7" cy="325.1" r="1.25" fill="#fa00f9"/><circle cx="436.1" cy="322.5" r="1.25" fill="#fa00f9"/><circle cx="438.6" cy="326.2" r="1.25" fill="#fa00f9"/><circle cx="439.2" cy="327.0" r="1.25" fill="#fa00f9"/><circle cx="436.3" cy="322.7" r="1.25" fill="#fa00f9"/><circle cx="435.7" cy="321.4" r="1.25" fill="#fa00f9"/><circle cx="439.1" cy="326.4" r="1.25" fill="#fa00f9"/><circle cx="436.6" cy="322.4" r="1.25" fill="#fc00f5"/><circle cx="436.5" cy="322.3" r="1.25" fill="#fc00f5"/><circle cx="438.9" cy="325.4" r="1.25" fill="#fc00f5"/><circle cx="437.6" cy="323.5" r="1.25" fill="#fc00f5"/><circle cx="438.9" cy="325.2" r="1.25" fill="#fe00f1"/><circle cx="436.1" cy="321.3" r="1.25" fill="#fe00f1"/><circle cx="439.4" cy="325.7" r="1.25" fill="#fe00f1"/><circle cx="436.1" cy="321.2" r="1.25" fill="#fe00f1"/><circle cx="439.7" cy="325.7" r="1.25" fill="#fe00f1"/><circle cx="437.4" cy="322.5" r="1.25" fill="#fe00f1"/><circle cx="435.5" cy="319.9" r="1.25" fill="#fe00f1"/><circle cx="433.5" cy="317.1" r="1.25" fill="#fe00f1"/><circle cx="439.9" cy="325.2" r="1.25" fill="#ff00ed"/><circle cx="438.7" cy="323.7" r="1.25" fill="#ff00ed"/><circle cx="437.6" cy="322.1" r="1.25" fill="#ff00ed"/><circle cx="436.1" cy="320.2" r="1.25" fill="#ff00ed"/><circle cx="436.9" cy="321.1" r="1.25" fill="#ff00ed"/><circle cx="437.9" cy="322.4" r="1.25" fill="#ff00ed"/><circle cx="437.7" cy="321.8" r="1.25" fill="#ff00e7"/><circle cx="437.1" cy="321.1" r="1.25" fill="#ff00e7"/><circle cx="439.0" cy="323.2" r="1.25" fill="#ff00e7"/><circle cx="435.8" cy="319.3" r="1.25" fill="#ff00e7"/><circle cx="438.5" cy="322.4" r="1.25" fill="#ff00e7"/><circle cx="438.5" cy="322.3" r="1.25" fill="#ff00e7"/><circle cx="440.0" cy="323.9" r="1.25" fill="#ff00e1"/><circle cx="437.4" cy="320.8" r="1.25" fill="#ff00e1"/><circle cx="438.6" cy="321.8" r="1.25" fill="#ff00e1"/><circle cx="439.8" cy="323.3" r="1.25" fill="#ff00e1"/><circle cx="438.7" cy="321.8" r="1.25" fill="#ff00e1"/><circle cx="437.5" cy="320.5" r="1.25" fill="#ff00e1"/><circle cx="437.9" cy="320.7" r="1.25" fill="#ff00db"/><circle cx="438.4" cy="321.2" r="1.25" fill="#ff00db"/><circle cx="436.6" cy="319.1" r="1.25" fill="#ff00db"/><circle cx="440.1" cy="323.0" r="1.25" fill="#ff00db"/><circle cx="436.0" cy="318.1" r="1.25" fill="#ff00db"/><circle cx="438.6" cy="321.0" r="1.25" fill="#ff00db"/><circle cx="438.7" cy="321.0" r="1.25" fill="#ff00d5"/><circle cx="437.8" cy="320.0" r="1.25" fill="#ff00d5"/><circle cx="439.8" cy="321.9" r="1.25" fill="#ff00d5"/><circle cx="440.6" cy="322.8" r="1.25" fill="#ff00d5"/><circle cx="438.1" cy="320.0" r="1.25" fill="#ff00d5"/><circle cx="439.5" cy="321.6" r="1.25" fill="#ff00d5"/><circle cx="437.1" cy="318.7" r="1.25" fill="#ff00cf"/><circle cx="437.7" cy="319.3" r="1.25" fill="#ff00cf"/><circle cx="435.9" cy="317.3" r="1.25" fill="#ff00cf"/><circle cx="437.4" cy="318.8" r="1.25" fill="#ff00cf"/><circle cx="437.2" cy="318.5" r="1.25" fill="#ff00cf"/><circle cx="438.0" cy="319.3" r="1.25" fill="#ff00cf"/><circle cx="437.8" cy="318.8" r="1.25" fill="#ff00c9"/><circle cx="441.5" cy="322.5" r="1.25" fill="#ff00c9"/><circle cx="438.9" cy="319.9" r="1.25" fill="#ff00c9"/><circle cx="442.0" cy="322.9" r="1.25" fill="#ff00c9"/><circle cx="439.2" cy="319.9" r="1.25" fill="#ff00c9"/><circle cx="439.9" cy="320.6" r="1.25" fill="#ff00c9"/><circle cx="437.3" cy="317.8" r="1.25" fill="#ff00c3"/><circle cx="441.3" cy="321.7" r="1.25" fill="#ff00c3"/><circle cx="437.7" cy="318.1" r="1.25" fill="#ff00c3"/><circle cx="437.8" cy="318.2" r="1.25" fill="#ff00c3"/><circle cx="441.2" cy="321.1" r="1.25" fill="#ff00c3"/><circle cx="438.4" cy="318.5" r="1.25" fill="#ff00c3"/><circle cx="439.9" cy="319.8" r="1.25" fill="#ff00c3"/><circle cx="442.6" cy="322.3" r="1.25" fill="#ff00c3"/><circle cx="438.3" cy="318.2" r="1.25" fill="#ff00bd"/><circle cx="442.9" cy="322.5" r="1.25" fill="#ff00bd"/><circle cx="438.9" cy="318.6" r="1.25" fill="#ff00bd"/><circle cx="437.4" cy="317.2" r="1.25" fill="#ff00bd"/><circle cx="439.2" cy="318.6" r="1.25" fill="#ff00bd"/><circle cx="440.7" cy="319.9" r="1.25" fill="#ff00bd"/><circle cx="440.2" cy="319.2" r="1.25" fill="#ff00b7"/><circle cx="436.5" cy="315.9" r="1.25" fill="#ff00b7"/><circle cx="440.1" cy="319.1" r="1.25" fill="#ff00b7"/><circle cx="438.6" cy="317.8" r="1.25" fill="#ff00b7"/><circle cx="437.4" cy="316.6" r="1.25" fill="#ff00b7"/><circle cx="439.4" cy="318.3" r="1.25" fill="#ff00b7"/><circle cx="440.2" cy="318.8" r="1.25" fill="#ff00b7"/><circle cx="437.5" cy="316.5" r="1.25" fill="#ff00b7"/><circle cx="442.7" cy="320.6" r="1.25" fill="#ff00b1"/><circle cx="438.8" cy="317.3" r="1.25" fill="#ff00b1"/><circle cx="443.1" cy="320.8" r="1.25" fill="#ff00b1"/><circle cx="439.2" cy="317.6" r="1.25" fill="#ff00b1"/><circle cx="442.2" cy="319.8" r="1.25" fill="#ff00b1"/><circle cx="437.8" cy="316.3" r="1.25" fill="#ff00b1"/><circle cx="440.3" cy="318.1" r="1.25" fill="#ff00ac"/><circle cx="440.7" cy="318.5" r="1.25" fill="#ff00ac"/><circle cx="440.3" cy="318.0" r="1.25" fill="#ff00ac"/><circle cx="442.0" cy="319.3" r="1.25" fill="#ff00ac"/><circle cx="441.9" cy="319.1" r="1.25" fill="#ff00ac"/><circle cx="442.1" cy="319.2" r="1.25" fill="#ff00ac"/><circle cx="440.1" cy="317.5" r="1.25" fill="#ff00ac"/><circle cx="442.0" cy="319.0" r="1.25" fill="#ff00ac"/><circle cx="441.4" cy="318.2" r="1.25" fill="#ff00a6"/><circle cx="439.7" cy="317.0" r="1.25" fill="#ff00a6"/><circle cx="442.3" cy="318.7" r="1.25" fill="#ff00a6"/><circle cx="438.4" cy="315.8" r="1.25" fill="#ff00a6"/><circle cx="440.4" cy="317.2" r="1.25" fill="#ff00a6"/><circle cx="438.2" cy="315.5" r="1.25" fill="#ff00a6"/><circle cx="443.8" cy="319.4" r="1.25" fill="#ff00a0"/><circle cx="439.0" cy="316.0" r="1.25" fill="#ff00a0"/><circle cx="445.3" cy="320.4" r="1.25" fill="#ff00a0"/><circle cx="442.4" cy="318.3" r="1.25" fill="#ff00a0"/><circle cx="441.2" cy="317.2" r="1.25" fill="#ff00a0"/><circle cx="439.4" cy="316.0" r="1.25" fill="#ff00a0"/><circle cx="438.6" cy="315.3" r="1.25" fill="#ff00a0"/><circle cx="443.3" cy="318.5" r="1.25" fill="#ff00a0"/><circle cx="438.3" cy="314.9" r="1.25" fill="#ff009a"/><circle cx="440.9" cy="316.6" r="1.25" fill="#ff009a"/><circle cx="441.6" cy="317.0" r="1.25" fill="#ff009a"/><circle cx="446.0" cy="320.0" r="1.25" fill="#ff009a"/><circle cx="443.9" cy="318.4" r="1.25" fill="#ff009a"/><circle cx="439.9" cy="315.8" r="1.25" fill="#ff009a"/><circle cx="441.9" cy="316.9" r="1.25" fill="#ff0094"/><circle cx="440.5" cy="316.0" r="1.25" fill="#ff0094"/><circle cx="445.8" cy="319.2" r="1.25" fill="#ff0094"/><circle cx="445.5" cy="319.0" r="1.25" fill="#ff0094"/><circle cx="441.7" cy="316.5" r="1.25" fill="#ff0094"/><circle cx="440.7" cy="315.8" r="1.25" fill="#ff0094"/><circle cx="441.7" cy="316.2" r="1.25" fill="#ff008e"/><circle cx="441.5" cy="316.1" r="1.25" fill="#ff008e"/><circle cx="444.5" cy="317.8" r="1.25" fill="#ff008e"/><circle cx="441.0" cy="315.6" r="1.25" fill="#ff008e"/><circle cx="441.9" cy="316.0" r="1.25" fill="#ff008e"/><circle cx="438.8" cy="314.2" r="1.25" fill="#ff008e"/><circle cx="440.0" cy="314.8" r="1.25" fill="#ff008e"/><circle cx="441.1" cy="315.5" r="1.25" fill="#ff008e"/><circle cx="439.9" cy="314.6" r="1.25" fill="#ff0088"/><circle cx="443.4" cy="316.6" r="1.25" fill="#ff0088"/><circle cx="440.8" cy="315.0" r="1.25" fill="#ff0088"/><circle cx="439.3" cy="314.1" r="1.25" fill="#ff0088"/><circle cx="443.8" cy="316.5" r="1.25" fill="#ff0088"/><circle cx="442.8" cy="315.9" r="1.25" fill="#ff0088"/><circle cx="444.4" cy="316.7" r="1.25" fill="#ff0082"/><circle cx="441.2" cy="314.9" r="1.25" fill="#ff0082"/><circle cx="441.1" cy="314.7" r="1.25" fill="#ff0082"/><circle cx="443.6" cy="316.1" r="1.25" fill="#ff0082"/><circle cx="447.5" cy="317.9" r="1.25" fill="#ff0082"/><circle cx="439.6" cy="313.7" r="1.25" fill="#ff0082"/><circle cx="445.9" cy="316.8" r="1.25" fill="#ff007c"/><circle cx="440.0" cy="313.7" r="1.25" fill="#ff007c"/><circle cx="444.6" cy="316.0" r="1.25" fill="#ff007c"/><circle cx="442.4" cy="314.8" r="1.25" fill="#ff007c"/><circle cx="440.9" cy="314.0" r="1.25" fill="#ff007c"/><circle cx="439.3" cy="313.2" r="1.25" fill="#ff007c"/><circle cx="443.1" cy="314.9" r="1.25" fill="#ff007c"/><circle cx="441.8" cy="314.3" r="1.25" fill="#ff007c"/><circle cx="442.8" cy="314.7" r="1.25" fill="#ff0076"/><circle cx="442.1" cy="314.3" r="1.25" fill="#ff0076"/><circle cx="446.2" cy="316.2" r="1.25" fill="#ff0076"/><circle cx="438.2" cy="312.3" r="1.25" fill="#ff0076"/><circle cx="446.6" cy="316.2" r="1.25" fill="#ff0076"/><circle cx="443.2" cy="314.6" r="1.25" fill="#ff0076"/><circle cx="439.6" cy="312.7" r="1.25" fill="#ff0071"/><circle cx="442.2" cy="313.9" r="1.25" fill="#ff0071"/><circle cx="442.7" cy="313.9" r="1.25" fill="#ff0071"/><circle cx="442.5" cy="313.9" r="1.25" fill="#ff0071"/><circle cx="444.3" cy="314.7" r="1.25" fill="#ff0071"/><circle cx="436.7" cy="311.2" r="1.25" fill="#ff0071"/><circle cx="441.1" cy="312.9" r="1.25" fill="#ff0071"/><circle cx="443.9" cy="314.2" r="1.25" fill="#ff0071"/><circle cx="446.7" cy="315.3" r="1.25" fill="#ff006b"/><circle cx="443.2" cy="313.8" r="1.25" fill="#ff006b"/><circle cx="440.5" cy="312.5" r="1.25" fill="#ff006b"/><circle cx="441.5" cy="312.9" r="1.25" fill="#ff006b"/><circle cx="441.8" cy="312.9" r="1.25" fill="#ff006b"/><circle cx="440.7" cy="312.5" r="1.25" fill="#ff006b"/><circle cx="444.1" cy="313.7" r="1.25" fill="#ff006b"/><circle cx="442.1" cy="312.9" r="1.25" fill="#ff006b"/><circle cx="443.1" cy="313.2" r="1.25" fill="#ff0065"/><circle cx="445.8" cy="314.3" r="1.25" fill="#ff0065"/><circle cx="442.4" cy="312.7" r="1.25" fill="#ff0065"/><circle cx="444.7" cy="313.6" r="1.25" fill="#ff0065"/><circle cx="443.1" cy="312.8" r="1.25" fill="#ff0065"/><circle cx="446.1" cy="314.0" r="1.25" fill="#ff0065"/><circle cx="444.4" cy="313.2" r="1.25" fill="#ff005f"/><circle cx="442.3" cy="312.4" r="1.25" fill="#ff005f"/><circle cx="442.8" cy="312.5" r="1.25" fill="#ff005f"/><circle cx="445.4" cy="313.5" r="1.25" fill="#ff005f"/><circle cx="441.6" cy="311.9" r="1.25" fill="#ff005f"/><circle cx="439.8" cy="311.2" r="1.25" fill="#ff005f"/><circle cx="447.1" cy="313.7" r="1.25" fill="#ff0059"/><circle cx="445.5" cy="313.1" r="1.25" fill="#ff0059"/><circle cx="444.1" cy="312.5" r="1.25" fill="#ff0059"/><circle cx="446.0" cy="313.2" r="1.25" fill="#ff0059"/><circle cx="442.2" cy="311.6" r="1.25" fill="#ff0059"/><circle cx="445.4" cy="312.7" r="1.25" fill="#ff0059"/><circle cx="446.2" cy="312.8" r="1.25" fill="#ff0053"/><circle cx="443.7" cy="312.0" r="1.25" fill="#ff0053"/><circle cx="444.9" cy="312.3" r="1.25" fill="#ff0053"/><circle cx="439.8" cy="310.7" r="1.25" fill="#ff0053"/><circle cx="444.5" cy="312.0" r="1.25" fill="#ff0053"/><circle cx="441.7" cy="311.1" r="1.25" fill="#ff0053"/><circle cx="440.7" cy="310.7" r="1.25" fill="#ff0053"/><circle cx="441.8" cy="311.1" r="1.25" fill="#ff0053"/><circle cx="444.2" cy="311.6" r="1.25" fill="#ff004d"/><circle cx="443.7" cy="311.5" r="1.25" fill="#ff004d"/><circle cx="443.5" cy="311.3" r="1.25" fill="#ff004d"/><circle cx="444.7" cy="311.6" r="1.25" fill="#ff004d"/><circle cx="445.2" cy="311.6" r="1.25" fill="#ff004d"/><circle cx="445.5" cy="311.6" r="1.25" fill="#ff004d"/><circle cx="449.7" cy="312.6" r="1.25" fill="#ff0047"/><circle cx="442.9" cy="310.8" r="1.25" fill="#ff0047"/><circle cx="445.5" cy="311.4" r="1.25" fill="#ff0047"/><circle cx="443.7" cy="310.9" r="1.25" fill="#ff0047"/><circle cx="445.9" cy="311.3" r="1.25" fill="#ff0047"/><circle cx="443.9" cy="310.8" r="1.25" fill="#ff0047"/><circle cx="442.2" cy="310.3" r="1.25" fill="#ff0047"/><circle cx="439.9" cy="309.7" r="1.25" fill="#ff0047"/><circle cx="447.1" cy="311.3" r="1.25" fill="#ff0041"/><circle cx="443.7" cy="310.5" r="1.25" fill="#ff0041"/><circle cx="446.0" cy="310.9" r="1.25" fill="#ff0041"/><circle cx="445.9" cy="310.9" r="1.25" fill="#ff0041"/><circle cx="446.0" cy="310.7" r="1.25" fill="#ff0041"/><circle cx="445.3" cy="310.5" r="1.25" fill="#ff0041"/><circle cx="446.7" cy="310.8" r="1.25" fill="#ff0041"/><circle cx="445.3" cy="310.5" r="1.25" fill="#ff0041"/><circle cx="446.9" cy="310.7" r="1.25" fill="#ff003b"/><circle cx="446.8" cy="310.7" r="1.25" fill="#ff003b"/><circle cx="441.0" cy="309.2" r="1.25" fill="#ff003b"/><circle cx="443.1" cy="309.7" r="1.25" fill="#ff003b"/><circle cx="445.8" cy="310.1" r="1.25" fill="#ff003b"/><circle cx="444.5" cy="309.8" r="1.25" fill="#ff003b"/><circle cx="446.8" cy="310.2" r="1.25" fill="#ff0035"/><circle cx="445.9" cy="310.0" r="1.25" fill="#ff0035"/><circle cx="447.5" cy="310.1" r="1.25" fill="#ff0035"/><circle cx="443.6" cy="309.4" r="1.25" fill="#ff0035"/><circle cx="443.4" cy="309.3" r="1.25" fill="#ff0035"/><circle cx="447.8" cy="310.1" r="1.25" fill="#ff0035"/><circle cx="446.8" cy="309.7" r="1.25" fill="#ff0035"/><circle cx="438.7" cy="308.3" r="1.25" fill="#ff0035"/><circle cx="441.3" cy="308.6" r="1.25" fill="#ff0030"/><circle cx="442.2" cy="308.8" r="1.25" fill="#ff0030"/><circle cx="447.3" cy="309.4" r="1.25" fill="#ff0030"/><circle cx="450.7" cy="310.0" r="1.25" fill="#ff0030"/><circle cx="449.4" cy="309.5" r="1.25" fill="#ff002a"/><circle cx="445.9" cy="309.0" r="1.25" fill="#ff002a"/><circle cx="446.6" cy="309.0" r="1.25" fill="#ff002a"/><circle cx="445.7" cy="308.9" r="1.25" fill="#ff002a"/><circle cx="445.1" cy="308.7" r="1.25" fill="#ff002a"/><circle cx="443.6" cy="308.5" r="1.25" fill="#ff002a"/><circle cx="446.2" cy="308.7" r="1.25" fill="#ff002a"/><circle cx="449.7" cy="309.2" r="1.25" fill="#ff002a"/><circle cx="443.8" cy="308.2" r="1.25" fill="#ff0024"/><circle cx="443.1" cy="308.1" r="1.25" fill="#ff0024"/><circle cx="447.5" cy="308.6" r="1.25" fill="#ff0024"/><circle cx="445.6" cy="308.3" r="1.25" fill="#ff0024"/><circle cx="445.2" cy="308.2" r="1.25" fill="#ff0024"/><circle cx="448.9" cy="308.6" r="1.25" fill="#ff0024"/><circle cx="442.1" cy="307.7" r="1.25" fill="#ff0024"/><circle cx="446.1" cy="308.1" r="1.25" fill="#ff0024"/><circle cx="442.3" cy="307.6" r="1.25" fill="#ff001e"/><circle cx="449.6" cy="308.3" r="1.25" fill="#ff001e"/><circle cx="442.9" cy="307.5" r="1.25" fill="#ff001e"/><circle cx="447.1" cy="307.8" r="1.25" fill="#ff001e"/><circle cx="442.9" cy="307.3" r="1.25" fill="#ff001e"/><circle cx="450.4" cy="308.0" r="1.25" fill="#ff001e"/><circle cx="450.1" cy="307.8" r="1.25" fill="#ff0018"/><circle cx="443.7" cy="307.3" r="1.25" fill="#ff0018"/><circle cx="447.3" cy="307.3" r="1.25" fill="#ff0018"/><circle cx="448.3" cy="307.4" r="1.25" fill="#ff0018"/><circle cx="445.4" cy="307.0" r="1.25" fill="#ff0018"/><circle cx="447.2" cy="307.1" r="1.25" fill="#ff0018"/><circle cx="446.1" cy="307.0" r="1.25" fill="#ff0000"/><circle cx="449.1" cy="307.1" r="1.25" fill="#ff0000"/><circle cx="447.7" cy="307.0" r="1.25" fill="#ff0000"/><circle cx="445.1" cy="306.9" r="1.25" fill="#ff0000"/><circle cx="444.9" cy="306.7" r="1.25" fill="#ff0000"/><circle cx="443.7" cy="306.7" r="1.25" fill="#ff0000"/><circle cx="440.2" cy="306.4" r="1.25" fill="#ff0000"/><circle cx="446.0" cy="306.6" r="1.25" fill="#ff0000"/><circle cx="445.8" cy="306.4" r="1.25" fill="#ff0600"/><circle cx="446.0" cy="306.4" r="1.25" fill="#ff0600"/><circle cx="445.5" cy="306.3" r="1.25" fill="#ff0600"/><circle cx="449.2" cy="306.3" r="1.25" fill="#ff0600"/><circle cx="444.9" cy="306.1" r="1.25" fill="#ff0600"/><circle cx="446.2" cy="306.1" r="1.25" fill="#ff0600"/><circle cx="442.4" cy="306.0" r="1.25" fill="#ff0600"/><circle cx="446.4" cy="306.0" r="1.25" fill="#ff0600"/><circle cx="442.0" cy="291.3" r="1.25" fill="#ff8e00"/><circle cx="441.8" cy="300.2" r="1.25" fill="#ff4700"/><circle cx="442.7" cy="294.1" r="1.25" fill="#ff7600"/><circle cx="454.8" cy="285.2" r="1.25" fill="#ff7c00"/><circle cx="463.6" cy="298.6" r="1.25" fill="#ff2f00"/><circle cx="449.4" cy="296.4" r="1.25" fill="#ff4d00"/><circle cx="462.2" cy="289.9" r="1.25" fill="#ff5900"/><circle cx="450.9" cy="296.2" r="1.25" fill="#ff4d00"/><circle cx="461.6" cy="298.0" r="1.25" fill="#ff2f00"/><circle cx="447.4" cy="297.2" r="1.25" fill="#ff4d00"/><circle cx="445.6" cy="302.9" r="1.25" fill="#ff2300"/><circle cx="454.8" cy="285.0" r="1.25" fill="#ff7c00"/><circle cx="454.9" cy="279.8" r="1.25" fill="#ff8e00"/><circle cx="456.8" cy="288.4" r="1.25" fill="#ff6a00"/><circle cx="456.7" cy="287.7" r="1.25" fill="#ff6a00"/><circle cx="441.5" cy="294.9" r="1.25" fill="#ff7600"/><circle cx="444.0" cy="293.0" r="1.25" fill="#ff7c00"/><circle cx="464.1" cy="298.8" r="1.25" fill="#ff2900"/><circle cx="453.4" cy="305.4" r="1.25" fill="#ff0c00"/><circle cx="460.0" cy="296.9" r="1.25" fill="#ff3b00"/><circle cx="460.6" cy="288.8" r="1.25" fill="#ff5f00"/><circle cx="449.8" cy="285.7" r="1.25" fill="#ff8800"/><circle cx="457.6" cy="304.4" r="1.25" fill="#ff1200"/><circle cx="466.4" cy="302.6" r="1.25" fill="#ff1800"/><circle cx="443.6" cy="292.1" r="1.25" fill="#ff8200"/><circle cx="458.1" cy="301.4" r="1.25" fill="#ff2300"/><circle cx="460.3" cy="284.0" r="1.25" fill="#ff7000"/><circle cx="441.7" cy="297.7" r="1.25" fill="#ff5f00"/><circle cx="439.8" cy="297.2" r="1.25" fill="#ff7000"/><circle cx="453.5" cy="284.8" r="1.25" fill="#ff8200"/><circle cx="457.2" cy="285.0" r="1.25" fill="#ff7600"/><circle cx="461.9" cy="289.5" r="1.25" fill="#ff5900"/><circle cx="449.9" cy="293.3" r="1.25" fill="#ff5f00"/><circle cx="448.3" cy="299.1" r="1.25" fill="#ff4100"/><circle cx="444.5" cy="305.6" r="1.25" fill="#ff0c00"/><circle cx="442.6" cy="294.3" r="1.25" fill="#ff7600"/><circle cx="456.6" cy="289.5" r="1.25" fill="#ff6400"/><circle cx="449.9" cy="292.0" r="1.25" fill="#ff6a00"/><circle cx="446.6" cy="300.8" r="1.25" fill="#ff3500"/><circle cx="456.8" cy="301.5" r="1.25" fill="#ff2300"/><circle cx="460.4" cy="286.4" r="1.25" fill="#ff6a00"/><circle cx="463.8" cy="296.3" r="1.25" fill="#ff3500"/><circle cx="442.8" cy="291.9" r="1.25" fill="#ff8800"/><circle cx="449.0" cy="285.8" r="1.25" fill="#ff8e00"/><circle cx="452.1" cy="282.8" r="1.25" fill="#ff8e00"/><circle cx="446.7" cy="300.5" r="1.25" fill="#ff3500"/><circle cx="450.8" cy="295.5" r="1.25" fill="#ff5300"/><circle cx="463.1" cy="304.9" r="1.25" fill="#ff0c00"/><circle cx="450.3" cy="295.4" r="1.25" fill="#ff5300"/><circle cx="443.5" cy="294.7" r="1.25" fill="#ff7000"/><circle cx="455.0" cy="301.5" r="1.25" fill="#ff2300"/><circle cx="448.2" cy="301.7" r="1.25" fill="#ff2900"/><circle cx="442.0" cy="305.0" r="1.25" fill="#ff1200"/><circle cx="452.9" cy="298.5" r="1.25" fill="#ff3b00"/><circle cx="449.5" cy="285.5" r="1.25" fill="#ff8e00"/><circle cx="449.5" cy="298.2" r="1.25" fill="#ff4100"/><circle cx="452.0" cy="301.2" r="1.25" fill="#ff2900"/><circle cx="439.2" cy="293.9" r="1.25" fill="#ff8e00"/><circle cx="456.5" cy="295.5" r="1.25" fill="#ff4700"/><circle cx="450.1" cy="290.2" r="1.25" fill="#ff7000"/><circle cx="460.9" cy="287.7" r="1.25" fill="#ff6400"/><circle cx="442.1" cy="292.6" r="1.25" fill="#ff8800"/><circle cx="463.7" cy="289.7" r="1.25" fill="#ff5300"/><circle cx="443.7" cy="298.3" r="1.25" fill="#ff5300"/><circle cx="439.5" cy="296.8" r="1.25" fill="#ff7000"/><circle cx="454.3" cy="302.7" r="1.25" fill="#ff1e00"/><circle cx="458.4" cy="299.1" r="1.25" fill="#ff2f00"/><circle cx="445.2" cy="294.0" r="1.25" fill="#ff7000"/><circle cx="452.2" cy="288.8" r="1.25" fill="#ff7000"/><circle cx="448.4" cy="292.6" r="1.25" fill="#ff6a00"/><circle cx="442.3" cy="300.2" r="1.25" fill="#ff4700"/><circle cx="463.3" cy="292.0" r="1.25" fill="#ff4d00"/><circle cx="438.6" cy="295.5" r="1.25" fill="#ff8200"/><circle cx="447.1" cy="304.7" r="1.25" fill="#ff1200"/><circle cx="448.1" cy="293.0" r="1.25" fill="#ff6a00"/><circle cx="451.0" cy="303.5" r="1.25" fill="#ff1e00"/><circle cx="456.8" cy="291.7" r="1.25" fill="#ff5900"/><circle cx="455.8" cy="296.5" r="1.25" fill="#ff4100"/><circle cx="452.4" cy="290.9" r="1.25" fill="#ff6400"/><circle cx="458.8" cy="304.7" r="1.25" fill="#ff1200"/><circle cx="442.0" cy="304.3" r="1.25" fill="#ff1e00"/><circle cx="440.3" cy="300.4" r="1.25" fill="#ff4d00"/><circle cx="450.2" cy="304.6" r="1.25" fill="#ff1200"/><circle cx="442.1" cy="299.8" r="1.25" fill="#ff4d00"/><circle cx="453.9" cy="281.6" r="1.25" fill="#ff8e00"/><circle cx="453.6" cy="295.3" r="1.25" fill="#ff4d00"/><circle cx="465.4" cy="296.4" r="1.25" fill="#ff3500"/><circle cx="447.9" cy="303.9" r="1.25" fill="#ff1800"/><circle cx="462.7" cy="299.7" r="1.25" fill="#ff2900"/><circle cx="449.0" cy="296.5" r="1.25" fill="#ff4d00"/><circle cx="462.1" cy="294.7" r="1.25" fill="#ff4100"/><circle cx="460.5" cy="299.1" r="1.25" fill="#ff2f00"/><circle cx="448.2" cy="292.6" r="1.25" fill="#ff6a00"/><circle cx="450.5" cy="298.9" r="1.25" fill="#ff3b00"/><circle cx="447.0" cy="298.3" r="1.25" fill="#ff4700"/><circle cx="448.1" cy="294.5" r="1.25" fill="#ff5f00"/><circle cx="459.7" cy="298.0" r="1.25" fill="#ff3500"/><circle cx="450.9" cy="296.9" r="1.25" fill="#ff4700"/><circle cx="446.5" cy="289.7" r="1.25" fill="#ff8200"/><circle cx="462.6" cy="295.3" r="1.25" fill="#ff3b00"/><circle cx="452.1" cy="282.3" r="1.25" fill="#ff8e00"/><circle cx="456.4" cy="296.4" r="1.25" fill="#ff4100"/><circle cx="444.5" cy="294.1" r="1.25" fill="#ff7000"/><circle cx="460.0" cy="285.4" r="1.25" fill="#ff6a00"/><circle cx="454.0" cy="290.8" r="1.25" fill="#ff6400"/><circle cx="455.7" cy="295.8" r="1.25" fill="#ff4700"/><circle cx="460.0" cy="300.0" r="1.25" fill="#ff2900"/><circle cx="463.2" cy="290.0" r="1.25" fill="#ff5300"/><circle cx="457.8" cy="297.5" r="1.25" fill="#ff3b00"/><circle cx="450.9" cy="305.6" r="1.25" fill="#ff0c00"/><circle cx="443.5" cy="294.2" r="1.25" fill="#ff7000"/><circle cx="443.9" cy="296.8" r="1.25" fill="#ff5f00"/><circle cx="465.0" cy="293.9" r="1.25" fill="#ff4100"/><circle cx="464.1" cy="300.2" r="1.25" fill="#ff2300"/><circle cx="455.3" cy="304.6" r="1.25" fill="#ff1200"/><circle cx="455.8" cy="284.7" r="1.25" fill="#ff7c00"/><circle cx="454.3" cy="297.3" r="1.25" fill="#ff4100"/><circle cx="455.6" cy="288.3" r="1.25" fill="#ff6a00"/><circle cx="450.8" cy="290.2" r="1.25" fill="#ff7000"/><circle cx="458.1" cy="299.7" r="1.25" fill="#ff2900"/><circle cx="451.9" cy="294.2" r="1.25" fill="#ff5900"/><circle cx="439.2" cy="293.4" r="1.25" fill="#ff9400"/><circle cx="444.8" cy="293.1" r="1.25" fill="#ff7600"/><circle cx="460.0" cy="285.3" r="1.25" fill="#ff7000"/><circle cx="454.3" cy="299.9" r="1.25" fill="#ff2f00"/><circle cx="450.9" cy="295.3" r="1.25" fill="#ff5300"/><circle cx="456.3" cy="302.1" r="1.25" fill="#ff2300"/><circle cx="450.8" cy="286.1" r="1.25" fill="#ff8200"/><circle cx="460.7" cy="298.2" r="1.25" fill="#ff2f00"/><circle cx="443.2" cy="300.1" r="1.25" fill="#ff4100"/><circle cx="449.4" cy="294.3" r="1.25" fill="#ff5f00"/><circle cx="463.6" cy="290.1" r="1.25" fill="#ff5300"/><circle cx="462.2" cy="289.4" r="1.25" fill="#ff5900"/><circle cx="459.0" cy="296.9" r="1.25" fill="#ff3b00"/><circle cx="447.9" cy="304.6" r="1.25" fill="#ff1200"/><circle cx="454.1" cy="289.7" r="1.25" fill="#ff6a00"/><circle cx="445.5" cy="291.6" r="1.25" fill="#ff7c00"/><circle cx="448.9" cy="301.0" r="1.25" fill="#ff2f00"/><circle cx="440.2" cy="299.6" r="1.25" fill="#ff5300"/><circle cx="456.2" cy="297.1" r="1.25" fill="#ff3b00"/><circle cx="448.1" cy="303.4" r="1.25" fill="#ff1e00"/><circle cx="457.2" cy="282.0" r="1.25" fill="#ff8200"/><circle cx="444.6" cy="302.3" r="1.25" fill="#ff2900"/><circle cx="442.7" cy="304.4" r="1.25" fill="#ff1800"/><circle cx="453.9" cy="286.9" r="1.25" fill="#ff7600"/><circle cx="452.3" cy="300.5" r="1.25" fill="#ff2f00"/><circle cx="439.4" cy="297.8" r="1.25" fill="#ff6a00"/><circle cx="456.4" cy="284.4" r="1.25" fill="#ff7c00"/><circle cx="458.3" cy="300.7" r="1.25" fill="#ff2900"/><circle cx="445.8" cy="294.2" r="1.25" fill="#ff6a00"/><circle cx="441.7" cy="293.4" r="1.25" fill="#ff8200"/><circle cx="446.9" cy="298.0" r="1.25" fill="#ff4d00"/><circle cx="459.8" cy="294.2" r="1.25" fill="#ff4700"/><circle cx="453.4" cy="293.3" r="1.25" fill="#ff5900"/><circle cx="440.7" cy="292.0" r="1.25" fill="#ff9400"/><circle cx="455.9" cy="300.8" r="1.25" fill="#ff2900"/><circle cx="465.7" cy="301.4" r="1.25" fill="#ff1e00"/><circle cx="450.7" cy="299.3" r="1.25" fill="#ff3b00"/><circle cx="460.3" cy="294.4" r="1.25" fill="#ff4700"/><circle cx="450.8" cy="285.4" r="1.25" fill="#ff8800"/><circle cx="449.1" cy="302.9" r="1.25" fill="#ff2300"/><circle cx="443.1" cy="295.6" r="1.25" fill="#ff6a00"/><circle cx="455.6" cy="282.8" r="1.25" fill="#ff8200"/><circle cx="449.2" cy="301.8" r="1.25" fill="#ff2900"/><circle cx="458.6" cy="300.2" r="1.25" fill="#ff2900"/><circle cx="458.4" cy="304.7" r="1.25" fill="#ff1200"/><circle cx="462.5" cy="304.2" r="1.25" fill="#ff1200"/><circle cx="453.0" cy="294.1" r="1.25" fill="#ff5300"/><circle cx="441.8" cy="304.7" r="1.25" fill="#ff1800"/><circle cx="465.2" cy="295.3" r="1.25" fill="#ff3b00"/><circle cx="459.5" cy="289.7" r="1.25" fill="#ff5f00"/><circle cx="443.1" cy="305.1" r="1.25" fill="#ff1200"/><circle cx="458.5" cy="305.4" r="1.25" fill="#ff0c00"/><circle cx="447.0" cy="303.0" r="1.25" fill="#ff2300"/><circle cx="454.5" cy="290.2" r="1.25" fill="#ff6400"/><circle cx="451.5" cy="299.5" r="1.25" fill="#ff3500"/><circle cx="454.1" cy="299.6" r="1.25" fill="#ff2f00"/><circle cx="448.6" cy="299.6" r="1.25" fill="#ff3b00"/><circle cx="447.3" cy="301.8" r="1.25" fill="#ff2900"/><circle cx="441.0" cy="302.8" r="1.25" fill="#ff2f00"/><circle cx="454.8" cy="299.0" r="1.25" fill="#ff3500"/><circle cx="443.0" cy="302.3" r="1.25" fill="#ff2f00"/><circle cx="447.2" cy="290.0" r="1.25" fill="#ff7c00"/><circle cx="446.6" cy="297.4" r="1.25" fill="#ff5300"/><circle cx="452.9" cy="284.7" r="1.25" fill="#ff8200"/><circle cx="454.1" cy="291.6" r="1.25" fill="#ff5f00"/><circle cx="449.6" cy="292.2" r="1.25" fill="#ff6a00"/><circle cx="449.1" cy="298.4" r="1.25" fill="#ff4100"/><circle cx="450.5" cy="296.0" r="1.25" fill="#ff4d00"/><circle cx="451.9" cy="294.9" r="1.25" fill="#ff5300"/><circle cx="457.6" cy="284.6" r="1.25" fill="#ff7600"/><circle cx="441.2" cy="303.2" r="1.25" fill="#ff2900"/><circle cx="441.2" cy="302.3" r="1.25" fill="#ff3500"/><circle cx="451.2" cy="288.6" r="1.25" fill="#ff7600"/><circle cx="444.8" cy="301.7" r="1.25" fill="#ff2f00"/><circle cx="455.0" cy="283.7" r="1.25" fill="#ff8200"/><circle cx="454.2" cy="289.9" r="1.25" fill="#ff6a00"/><circle cx="448.0" cy="291.9" r="1.25" fill="#ff7000"/><circle cx="453.3" cy="297.4" r="1.25" fill="#ff4100"/><circle cx="458.4" cy="280.8" r="1.25" fill="#ff8200"/><circle cx="469.5" cy="274.9" r="1.25" fill="#ff7c00"/><circle cx="465.6" cy="303.9" r="1.25" fill="#ff1200"/><circle cx="463.0" cy="277.4" r="1.25" fill="#ff8200"/><circle cx="464.7" cy="291.8" r="1.25" fill="#ff4700"/><circle cx="464.4" cy="280.5" r="1.25" fill="#ff7600"/><circle cx="454.1" cy="283.5" r="1.25" fill="#ff8200"/><circle cx="452.9" cy="284.3" r="1.25" fill="#ff8800"/><circle cx="468.7" cy="301.6" r="1.25" fill="#ff1e00"/><circle cx="459.2" cy="290.4" r="1.25" fill="#ff5900"/><circle cx="477.7" cy="285.3" r="1.25" fill="#ff4d00"/><circle cx="475.4" cy="290.9" r="1.25" fill="#ff4100"/><circle cx="469.7" cy="287.4" r="1.25" fill="#ff5300"/><circle cx="470.4" cy="300.7" r="1.25" fill="#ff1e00"/><circle cx="466.8" cy="277.5" r="1.25" fill="#ff7c00"/><circle cx="469.8" cy="299.4" r="1.25" fill="#ff2300"/><circle cx="465.0" cy="290.8" r="1.25" fill="#ff4d00"/><circle cx="470.9" cy="287.4" r="1.25" fill="#ff5300"/><circle cx="465.1" cy="305.4" r="1.25" fill="#ff0c00"/><circle cx="461.2" cy="289.1" r="1.25" fill="#ff5900"/><circle cx="477.5" cy="303.4" r="1.25" fill="#ff1200"/><circle cx="480.6" cy="293.4" r="1.25" fill="#ff3500"/><circle cx="459.8" cy="292.4" r="1.25" fill="#ff4d00"/><circle cx="462.4" cy="289.1" r="1.25" fill="#ff5900"/><circle cx="469.3" cy="279.3" r="1.25" fill="#ff7000"/><circle cx="456.8" cy="288.4" r="1.25" fill="#ff6a00"/><circle cx="478.3" cy="304.7" r="1.25" fill="#ff0c00"/><circle cx="464.5" cy="302.2" r="1.25" fill="#ff1e00"/><circle cx="463.8" cy="305.1" r="1.25" fill="#ff0c00"/><circle cx="479.2" cy="288.3" r="1.25" fill="#ff4700"/><circle cx="465.0" cy="297.2" r="1.25" fill="#ff2f00"/><circle cx="426.1" cy="272.2" r="1.25" fill="#a2ff00"/><circle cx="428.8" cy="252.1" r="1.25" fill="#adff00"/><circle cx="425.3" cy="278.8" r="1.25" fill="#a2ff00"/><circle cx="428.6" cy="263.1" r="1.25" fill="#b3ff00"/><circle cx="426.2" cy="269.1" r="1.25" fill="#a2ff00"/><circle cx="426.8" cy="272.2" r="1.25" fill="#a7ff00"/><circle cx="431.8" cy="235.7" r="1.25" fill="#b3ff00"/><circle cx="430.5" cy="268.2" r="1.25" fill="#bfff00"/><circle cx="425.9" cy="249.2" r="1.25" fill="#a2ff00"/><circle cx="431.0" cy="272.7" r="1.25" fill="#cbff00"/><circle cx="430.6" cy="267.7" r="1.25" fill="#bfff00"/><circle cx="426.7" cy="248.0" r="1.25" fill="#a2ff00"/><circle cx="425.2" cy="249.4" r="1.25" fill="#9cff00"/><circle cx="428.1" cy="263.0" r="1.25" fill="#adff00"/><circle cx="427.6" cy="257.8" r="1.25" fill="#a7ff00"/><circle cx="433.6" cy="258.6" r="1.25" fill="#cbff00"/><circle cx="430.9" cy="256.3" r="1.25" fill="#b9ff00"/><circle cx="429.8" cy="280.0" r="1.25" fill="#cbff00"/><circle cx="425.1" cy="263.5" r="1.25" fill="#9cff00"/><circle cx="429.1" cy="274.2" r="1.25" fill="#bfff00"/><circle cx="430.3" cy="238.1" r="1.25" fill="#adff00"/><circle cx="432.6" cy="258.0" r="1.25" fill="#c5ff00"/><circle cx="430.8" cy="245.2" r="1.25" fill="#b3ff00"/><circle cx="428.0" cy="269.8" r="1.25" fill="#b3ff00"/><circle cx="434.2" cy="247.6" r="1.25" fill="#c5ff00"/><circle cx="436.6" cy="241.3" r="1.25" fill="#cbff00"/><circle cx="431.3" cy="272.6" r="1.25" fill="#cbff00"/><circle cx="431.6" cy="241.6" r="1.25" fill="#b3ff00"/><circle cx="429.4" cy="246.0" r="1.25" fill="#adff00"/><circle cx="427.7" cy="247.0" r="1.25" fill="#a7ff00"/><circle cx="436.6" cy="243.2" r="1.25" fill="#cbff00"/><circle cx="430.3" cy="273.7" r="1.25" fill="#c5ff00"/><circle cx="429.8" cy="280.0" r="1.25" fill="#cbff00"/><circle cx="426.0" cy="263.0" r="1.25" fill="#a2ff00"/><circle cx="429.7" cy="279.1" r="1.25" fill="#cbff00"/><circle cx="426.6" cy="252.6" r="1.25" fill="#a2ff00"/><circle cx="425.4" cy="279.1" r="1.25" fill="#a2ff00"/><circle cx="431.5" cy="268.0" r="1.25" fill="#c5ff00"/><circle cx="429.7" cy="276.0" r="1.25" fill="#c5ff00"/><circle cx="433.4" cy="251.5" r="1.25" fill="#c5ff00"/><circle cx="430.2" cy="273.4" r="1.25" fill="#c5ff00"/><circle cx="428.8" cy="263.4" r="1.25" fill="#b3ff00"/><circle cx="433.4" cy="254.9" r="1.25" fill="#c5ff00"/><circle cx="429.1" cy="262.9" r="1.25" fill="#b3ff00"/><circle cx="427.7" cy="279.2" r="1.25" fill="#b3ff00"/><circle cx="427.5" cy="271.9" r="1.25" fill="#adff00"/><circle cx="428.2" cy="280.7" r="1.25" fill="#b9ff00"/><circle cx="426.1" cy="253.3" r="1.25" fill="#a2ff00"/><circle cx="430.9" cy="255.8" r="1.25" fill="#b9ff00"/><circle cx="425.4" cy="274.7" r="1.25" fill="#a2ff00"/><circle cx="431.9" cy="248.0" r="1.25" fill="#b9ff00"/><circle cx="432.0" cy="248.1" r="1.25" fill="#b9ff00"/><circle cx="425.5" cy="279.0" r="1.25" fill="#a2ff00"/><circle cx="430.3" cy="267.5" r="1.25" fill="#bfff00"/><circle cx="428.0" cy="244.1" r="1.25" fill="#a7ff00"/><circle cx="428.9" cy="237.6" r="1.25" fill="#adff00"/><circle cx="431.8" cy="262.9" r="1.25" fill="#c5ff00"/><circle cx="426.7" cy="244.9" r="1.25" fill="#a2ff00"/><circle cx="437.0" cy="235.9" r="1.25" fill="#c5ff00"/><circle cx="428.3" cy="240.3" r="1.25" fill="#a7ff00"/><circle cx="431.5" cy="252.8" r="1.25" fill="#b9ff00"/><circle cx="425.5" cy="238.7" r="1.25" fill="#9cff00"/><circle cx="430.4" cy="239.3" r="1.25" fill="#b3ff00"/><circle cx="425.0" cy="241.5" r="1.25" fill="#9cff00"/><circle cx="429.6" cy="235.9" r="1.25" fill="#adff00"/><circle cx="432.2" cy="262.5" r="1.25" fill="#c5ff00"/><circle cx="427.6" cy="274.8" r="1.25" fill="#b3ff00"/><circle cx="426.2" cy="278.0" r="1.25" fill="#a7ff00"/><circle cx="427.7" cy="267.9" r="1.25" fill="#adff00"/><circle cx="431.9" cy="252.8" r="1.25" fill="#bfff00"/><circle cx="432.1" cy="260.4" r="1.25" fill="#c5ff00"/><circle cx="427.0" cy="234.5" r="1.25" fill="#a2ff00"/><circle cx="431.0" cy="264.1" r="1.25" fill="#bfff00"/><circle cx="427.0" cy="272.0" r="1.25" fill="#adff00"/><circle cx="426.0" cy="271.6" r="1.25" fill="#a2ff00"/><circle cx="428.5" cy="265.1" r="1.25" fill="#b3ff00"/><circle cx="429.8" cy="281.3" r="1.25" fill="#cbff00"/><circle cx="432.7" cy="266.2" r="1.25" fill="#cbff00"/><circle cx="434.9" cy="235.0" r="1.25" fill="#bfff00"/><circle cx="427.0" cy="277.9" r="1.25" fill="#adff00"/><circle cx="427.0" cy="270.0" r="1.25" fill="#a7ff00"/><circle cx="430.9" cy="247.2" r="1.25" fill="#b3ff00"/><circle cx="426.9" cy="237.0" r="1.25" fill="#a2ff00"/><circle cx="429.4" cy="266.2" r="1.25" fill="#b9ff00"/><circle cx="429.6" cy="266.5" r="1.25" fill="#b9ff00"/><circle cx="427.3" cy="259.2" r="1.25" fill="#a7ff00"/><circle cx="426.9" cy="273.8" r="1.25" fill="#adff00"/><circle cx="427.9" cy="235.5" r="1.25" fill="#a7ff00"/><circle cx="433.2" cy="252.6" r="1.25" fill="#c5ff00"/><circle cx="429.3" cy="279.6" r="1.25" fill="#c5ff00"/><circle cx="428.8" cy="272.5" r="1.25" fill="#b9ff00"/><circle cx="427.7" cy="254.1" r="1.25" fill="#a7ff00"/><circle cx="429.4" cy="235.5" r="1.25" fill="#adff00"/><circle cx="430.3" cy="276.8" r="1.25" fill="#cbff00"/><circle cx="433.6" cy="260.1" r="1.25" fill="#cbff00"/><circle cx="426.9" cy="248.8" r="1.25" fill="#a2ff00"/><circle cx="430.7" cy="240.9" r="1.25" fill="#b3ff00"/><circle cx="428.6" cy="275.8" r="1.25" fill="#b9ff00"/><circle cx="426.8" cy="279.8" r="1.25" fill="#adff00"/><circle cx="428.9" cy="279.8" r="1.25" fill="#bfff00"/><circle cx="429.5" cy="278.3" r="1.25" fill="#c5ff00"/><circle cx="427.8" cy="275.0" r="1.25" fill="#b3ff00"/><circle cx="429.8" cy="242.3" r="1.25" fill="#adff00"/><circle cx="428.8" cy="275.5" r="1.25" fill="#b9ff00"/><circle cx="428.7" cy="246.8" r="1.25" fill="#adff00"/><circle cx="426.1" cy="254.9" r="1.25" fill="#a2ff00"/><circle cx="430.3" cy="240.5" r="1.25" fill="#adff00"/><circle cx="429.4" cy="235.2" r="1.25" fill="#adff00"/><circle cx="433.4" cy="245.1" r="1.25" fill="#bfff00"/><circle cx="428.3" cy="259.0" r="1.25" fill="#adff00"/><circle cx="433.9" cy="259.4" r="1.25" fill="#cbff00"/><circle cx="432.5" cy="253.2" r="1.25" fill="#bfff00"/><circle cx="429.6" cy="257.1" r="1.25" fill="#b3ff00"/><circle cx="430.6" cy="275.2" r="1.25" fill="#cbff00"/><circle cx="429.3" cy="249.0" r="1.25" fill="#adff00"/><circle cx="425.1" cy="243.6" r="1.25" fill="#9cff00"/><circle cx="431.3" cy="259.9" r="1.25" fill="#bfff00"/><circle cx="430.9" cy="243.4" r="1.25" fill="#b3ff00"/><circle cx="432.9" cy="238.1" r="1.25" fill="#b9ff00"/><circle cx="429.3" cy="262.4" r="1.25" fill="#b3ff00"/><circle cx="399.5" cy="280.3" r="1.25" fill="#00ff45"/><circle cx="400.1" cy="291.5" r="1.25" fill="#00ff86"/><circle cx="405.1" cy="284.3" r="1.25" fill="#00ff39"/><circle cx="401.1" cy="286.3" r="1.25" fill="#00ff5c"/><circle cx="403.0" cy="274.9" r="1.25" fill="#00ff1b"/><circle cx="388.9" cy="273.9" r="1.25" fill="#00ff51"/><circle cx="401.1" cy="281.1" r="1.25" fill="#00ff3f"/><circle cx="390.2" cy="266.8" r="1.25" fill="#00ff33"/><circle cx="408.0" cy="283.5" r="1.25" fill="#00ff21"/><circle cx="391.8" cy="284.1" r="1.25" fill="#00ff74"/><circle cx="407.5" cy="280.8" r="1.25" fill="#00ff16"/><circle cx="385.0" cy="279.7" r="1.25" fill="#00ff74"/><circle cx="400.3" cy="267.7" r="1.25" fill="#00ff10"/><circle cx="401.6" cy="275.1" r="1.25" fill="#00ff21"/><circle cx="403.4" cy="286.8" r="1.25" fill="#00ff51"/><circle cx="394.8" cy="287.1" r="1.25" fill="#00ff7a"/><circle cx="396.9" cy="266.0" r="1.25" fill="#00ff1b"/><circle cx="409.0" cy="282.3" r="1.25" fill="#00ff16"/><circle cx="394.9" cy="280.6" r="1.25" fill="#00ff57"/><circle cx="383.7" cy="279.2" r="1.25" fill="#00ff74"/><circle cx="407.7" cy="283.0" r="1.25" fill="#00ff21"/><circle cx="395.5" cy="279.8" r="1.25" fill="#00ff51"/><circle cx="391.0" cy="265.0" r="1.25" fill="#00ff2d"/><circle cx="398.2" cy="270.4" r="1.25" fill="#00ff21"/><circle cx="395.8" cy="261.1" r="1.25" fill="#00ff10"/><circle cx="387.7" cy="283.1" r="1.25" fill="#00ff7a"/><circle cx="394.6" cy="270.0" r="1.25" fill="#00ff2d"/><circle cx="383.6" cy="279.2" r="1.25" fill="#00ff7a"/><circle cx="403.5" cy="271.8" r="1.25" fill="#00ff10"/><circle cx="401.1" cy="271.9" r="1.25" fill="#00ff1b"/><circle cx="381.0" cy="279.0" r="1.25" fill="#00ff7a"/><circle cx="399.2" cy="273.1" r="1.25" fill="#00ff27"/><circle cx="404.8" cy="282.0" r="1.25" fill="#00ff2d"/><circle cx="386.8" cy="276.7" r="1.25" fill="#00ff62"/><circle cx="400.3" cy="277.2" r="1.25" fill="#00ff33"/><circle cx="388.3" cy="276.4" r="1.25" fill="#00ff5c"/><circle cx="403.9" cy="284.4" r="1.25" fill="#00ff3f"/><circle cx="407.6" cy="279.9" r="1.25" fill="#00ff16"/><circle cx="392.2" cy="282.9" r="1.25" fill="#00ff6e"/><circle cx="397.3" cy="282.4" r="1.25" fill="#00ff57"/><circle cx="404.1" cy="282.4" r="1.25" fill="#00ff33"/><circle cx="387.8" cy="283.8" r="1.25" fill="#00ff80"/><circle cx="398.6" cy="267.8" r="1.25" fill="#00ff16"/><circle cx="392.4" cy="276.9" r="1.25" fill="#00ff51"/><circle cx="390.2" cy="280.0" r="1.25" fill="#00ff68"/><circle cx="379.2" cy="275.5" r="1.25" fill="#00ff74"/><circle cx="394.7" cy="273.1" r="1.25" fill="#00ff39"/><circle cx="399.9" cy="277.9" r="1.25" fill="#00ff33"/><circle cx="395.4" cy="272.5" r="1.25" fill="#00ff33"/><circle cx="401.3" cy="278.8" r="1.25" fill="#00ff33"/><circle cx="384.2" cy="278.0" r="1.25" fill="#00ff6e"/><circle cx="385.7" cy="273.6" r="1.25" fill="#00ff5c"/><circle cx="395.1" cy="273.0" r="1.25" fill="#00ff39"/><circle cx="403.3" cy="278.4" r="1.25" fill="#00ff27"/><circle cx="397.4" cy="264.9" r="1.25" fill="#00ff16"/><circle cx="395.7" cy="287.4" r="1.25" fill="#00ff7a"/><circle cx="404.8" cy="283.5" r="1.25" fill="#00ff39"/><circle cx="399.5" cy="269.6" r="1.25" fill="#00ff1b"/><circle cx="400.4" cy="289.8" r="1.25" fill="#00ff74"/><circle cx="395.1" cy="268.2" r="1.25" fill="#00ff27"/><circle cx="393.3" cy="264.7" r="1.25" fill="#00ff21"/><circle cx="399.0" cy="276.3" r="1.25" fill="#00ff33"/><circle cx="404.4" cy="278.4" r="1.25" fill="#00ff21"/><circle cx="401.7" cy="281.1" r="1.25" fill="#00ff3f"/><circle cx="402.6" cy="288.5" r="1.25" fill="#00ff62"/><circle cx="387.3" cy="273.8" r="1.25" fill="#00ff57"/><circle cx="404.3" cy="281.7" r="1.25" fill="#00ff2d"/><circle cx="408.4" cy="281.7" r="1.25" fill="#00ff16"/><circle cx="390.0" cy="280.5" r="1.25" fill="#00ff68"/><circle cx="404.7" cy="272.8" r="1.25" fill="#02ff0c"/><circle cx="396.1" cy="305.9" r="1.25" fill="#00fcff"/><circle cx="397.0" cy="290.9" r="1.25" fill="#00ff8c"/><circle cx="378.9" cy="295.8" r="1.25" fill="#00ffcd"/><circle cx="380.2" cy="296.4" r="1.25" fill="#00ffcd"/><circle cx="389.9" cy="314.3" r="1.25" fill="#00c1ff"/><circle cx="386.0" cy="288.8" r="1.25" fill="#00ff9d"/><circle cx="392.9" cy="290.6" r="1.25" fill="#00ff97"/><circle cx="404.5" cy="296.3" r="1.25" fill="#00ff97"/><circle cx="401.0" cy="301.9" r="1.25" fill="#00ffd8"/><circle cx="390.9" cy="318.0" r="1.25" fill="#00aaff"/><circle cx="379.8" cy="317.9" r="1.25" fill="#00bbff"/><circle cx="387.3" cy="311.1" r="1.25" fill="#00d9ff"/><circle cx="383.5" cy="301.3" r="1.25" fill="#00ffea"/><circle cx="400.6" cy="307.4" r="1.25" fill="#00eaff"/><circle cx="393.5" cy="304.0" r="1.25" fill="#00fff6"/><circle cx="385.1" cy="303.0" r="1.25" fill="#00fff0"/><circle cx="389.2" cy="308.7" r="1.25" fill="#00eaff"/><circle cx="382.5" cy="313.0" r="1.25" fill="#00d3ff"/><circle cx="403.3" cy="295.6" r="1.25" fill="#00ff97"/><circle cx="403.3" cy="294.5" r="1.25" fill="#00ff8c"/><circle cx="397.7" cy="314.7" r="1.25" fill="#00afff"/><circle cx="392.3" cy="301.3" r="1.25" fill="#00ffde"/><circle cx="397.2" cy="305.0" r="1.25" fill="#00fffc"/><circle cx="396.1" cy="310.4" r="1.25" fill="#00d3ff"/><circle cx="383.5" cy="314.9" r="1.25" fill="#00c7ff"/><circle cx="394.4" cy="288.3" r="1.25" fill="#00ff86"/><circle cx="384.6" cy="286.7" r="1.25" fill="#00ff97"/><circle cx="400.4" cy="293.6" r="1.25" fill="#00ff92"/><circle cx="388.9" cy="311.3" r="1.25" fill="#00d9ff"/><circle cx="393.5" cy="307.7" r="1.25" fill="#00eaff"/><circle cx="399.4" cy="304.1" r="1.25" fill="#00fff0"/><circle cx="398.0" cy="302.6" r="1.25" fill="#00ffe4"/><circle cx="402.1" cy="307.4" r="1.25" fill="#00eaff"/><circle cx="401.5" cy="295.9" r="1.25" fill="#00ff9d"/><circle cx="388.8" cy="303.8" r="1.25" fill="#00fff6"/><circle cx="383.7" cy="282.2" r="1.25" fill="#00ff86"/><circle cx="395.0" cy="312.1" r="1.25" fill="#00c7ff"/><circle cx="385.0" cy="289.7" r="1.25" fill="#00ffa3"/><circle cx="401.4" cy="314.0" r="1.25" fill="#00aaff"/><circle cx="382.5" cy="311.7" r="1.25" fill="#00d9ff"/><circle cx="400.3" cy="313.4" r="1.25" fill="#00b5ff"/><circle cx="402.5" cy="295.9" r="1.25" fill="#00ff9d"/><circle cx="382.1" cy="291.6" r="1.25" fill="#00ffb5"/><circle cx="392.9" cy="314.8" r="1.25" fill="#00bbff"/><circle cx="397.6" cy="293.9" r="1.25" fill="#00ff9d"/><circle cx="388.7" cy="294.1" r="1.25" fill="#00ffb5"/><circle cx="383.5" cy="310.3" r="1.25" fill="#00e5ff"/><circle cx="392.5" cy="301.3" r="1.25" fill="#00ffde"/><circle cx="394.8" cy="302.4" r="1.25" fill="#00ffe4"/><circle cx="386.1" cy="301.0" r="1.25" fill="#00ffe4"/><circle cx="396.0" cy="308.7" r="1.25" fill="#00e5ff"/><circle cx="400.9" cy="305.2" r="1.25" fill="#00fffc"/><circle cx="397.7" cy="291.5" r="1.25" fill="#00ff8c"/><circle cx="404.5" cy="301.5" r="1.25" fill="#00ffcd"/><circle cx="396.3" cy="291.9" r="1.25" fill="#00ff92"/><circle cx="383.5" cy="318.7" r="1.25" fill="#00b5ff"/><circle cx="399.6" cy="292.1" r="1.25" fill="#00ff8c"/><circle cx="396.9" cy="300.1" r="1.25" fill="#00ffd3"/><circle cx="391.4" cy="291.5" r="1.25" fill="#00ff9d"/><circle cx="395.0" cy="312.3" r="1.25" fill="#00c7ff"/><circle cx="403.6" cy="297.6" r="1.25" fill="#00ffa9"/><circle cx="388.9" cy="285.7" r="1.25" fill="#00ff86"/><circle cx="386.8" cy="293.1" r="1.25" fill="#00ffb5"/><circle cx="403.0" cy="309.6" r="1.25" fill="#00d3ff"/><circle cx="398.0" cy="295.8" r="1.25" fill="#00ffa9"/><circle cx="384.8" cy="311.9" r="1.25" fill="#00d9ff"/><circle cx="393.4" cy="297.5" r="1.25" fill="#00ffc1"/><circle cx="392.5" cy="298.9" r="1.25" fill="#00ffcd"/><circle cx="398.1" cy="310.5" r="1.25" fill="#00d3ff"/><circle cx="380.0" cy="314.3" r="1.25" fill="#00cdff"/><circle cx="378.1" cy="305.9" r="1.25" fill="#00fcff"/><circle cx="401.3" cy="313.1" r="1.25" fill="#00b5ff"/><circle cx="400.9" cy="314.5" r="1.25" fill="#00aaff"/><circle cx="402.0" cy="310.1" r="1.25" fill="#00d3ff"/><circle cx="393.7" cy="297.6" r="1.25" fill="#00ffc1"/><circle cx="386.8" cy="314.0" r="1.25" fill="#00c7ff"/><circle cx="382.5" cy="290.6" r="1.25" fill="#00ffaf"/><circle cx="391.6" cy="313.8" r="1.25" fill="#00c1ff"/><circle cx="400.2" cy="293.0" r="1.25" fill="#00ff8c"/><circle cx="394.4" cy="297.5" r="1.25" fill="#00ffc1"/><circle cx="373.9" cy="354.7" r="1.25" fill="#004bff"/><circle cx="386.5" cy="339.2" r="1.25" fill="#0057ff"/><circle cx="355.8" cy="342.2" r="1.25" fill="#0086ff"/><circle cx="377.4" cy="333.2" r="1.25" fill="#007aff"/><circle cx="378.7" cy="326.0" r="1.25" fill="#0098ff"/><circle cx="366.9" cy="341.5" r="1.25" fill="#0074ff"/><circle cx="365.9" cy="341.7" r="1.25" fill="#007aff"/><circle cx="381.1" cy="330.0" r="1.25" fill="#0080ff"/><circle cx="378.4" cy="341.7" r="1.25" fill="#0063ff"/><circle cx="374.5" cy="339.1" r="1.25" fill="#006eff"/><circle cx="380.5" cy="329.8" r="1.25" fill="#0086ff"/><circle cx="374.8" cy="333.5" r="1.25" fill="#0080ff"/><circle cx="379.3" cy="326.8" r="1.25" fill="#0092ff"/><circle cx="383.0" cy="333.2" r="1.25" fill="#006eff"/><circle cx="380.8" cy="346.0" r="1.25" fill="#0051ff"/><circle cx="368.2" cy="341.7" r="1.25" fill="#0074ff"/><circle cx="377.5" cy="325.6" r="1.25" fill="#009eff"/><circle cx="372.4" cy="350.1" r="1.25" fill="#0057ff"/><circle cx="375.7" cy="338.4" r="1.25" fill="#006eff"/><circle cx="373.9" cy="347.7" r="1.25" fill="#005dff"/><circle cx="360.6" cy="360.4" r="1.25" fill="#0057ff"/><circle cx="367.7" cy="358.5" r="1.25" fill="#0051ff"/><circle cx="374.1" cy="344.9" r="1.25" fill="#0063ff"/><circle cx="367.3" cy="345.2" r="1.25" fill="#006eff"/><circle cx="356.0" cy="352.6" r="1.25" fill="#006eff"/><circle cx="387.3" cy="339.5" r="1.25" fill="#0051ff"/><circle cx="369.5" cy="351.4" r="1.25" fill="#005dff"/><circle cx="352.8" cy="357.9" r="1.25" fill="#0069ff"/><circle cx="365.5" cy="331.3" r="1.25" fill="#0098ff"/><circle cx="346.2" cy="352.6" r="1.25" fill="#007aff"/><circle cx="362.9" cy="335.9" r="1.25" fill="#008cff"/><circle cx="353.2" cy="339.9" r="1.25" fill="#0092ff"/><circle cx="359.5" cy="348.9" r="1.25" fill="#006eff"/><circle cx="348.6" cy="348.3" r="1.25" fill="#0080ff"/><circle cx="374.3" cy="326.6" r="1.25" fill="#009eff"/><circle cx="357.2" cy="360.5" r="1.25" fill="#005dff"/><circle cx="381.6" cy="342.1" r="1.25" fill="#0057ff"/><circle cx="354.7" cy="337.0" r="1.25" fill="#0098ff"/><circle cx="385.5" cy="337.7" r="1.25" fill="#005dff"/><circle cx="376.2" cy="352.2" r="1.25" fill="#004bff"/><circle cx="365.1" cy="331.0" r="1.25" fill="#009eff"/><circle cx="380.3" cy="331.5" r="1.25" fill="#007aff"/><circle cx="358.0" cy="367.0" r="1.25" fill="#0051ff"/><circle cx="367.5" cy="332.5" r="1.25" fill="#0092ff"/><circle cx="359.1" cy="341.4" r="1.25" fill="#0086ff"/><circle cx="371.6" cy="330.3" r="1.25" fill="#0092ff"/><circle cx="369.9" cy="339.6" r="1.25" fill="#0074ff"/><circle cx="365.0" cy="343.4" r="1.25" fill="#0074ff"/><circle cx="359.5" cy="368.3" r="1.25" fill="#004bff"/><circle cx="363.5" cy="363.0" r="1.25" fill="#004bff"/><circle cx="375.7" cy="331.3" r="1.25" fill="#0086ff"/><circle cx="363.3" cy="345.3" r="1.25" fill="#0074ff"/><circle cx="377.0" cy="340.7" r="1.25" fill="#0069ff"/><circle cx="384.0" cy="346.7" r="1.25" fill="#0045ff"/><circle cx="377.7" cy="325.5" r="1.25" fill="#009eff"/><circle cx="355.3" cy="341.1" r="1.25" fill="#008cff"/><circle cx="387.2" cy="339.2" r="1.25" fill="#0051ff"/><circle cx="375.9" cy="331.4" r="1.25" fill="#0086ff"/><circle cx="357.5" cy="362.7" r="1.25" fill="#0057ff"/><circle cx="379.6" cy="330.1" r="1.25" fill="#0086ff"/><circle cx="358.3" cy="370.8" r="1.25" fill="#004bff"/><circle cx="374.4" cy="346.1" r="1.25" fill="#005dff"/><circle cx="362.8" cy="356.6" r="1.25" fill="#005dff"/><circle cx="378.1" cy="337.2" r="1.25" fill="#006eff"/><circle cx="363.5" cy="347.5" r="1.25" fill="#006eff"/><circle cx="361.4" cy="341.8" r="1.25" fill="#0080ff"/><circle cx="340.9" cy="345.8" r="1.25" fill="#0092ff"/><circle cx="376.1" cy="330.7" r="1.25" fill="#008cff"/><circle cx="359.2" cy="369.7" r="1.25" fill="#004bff"/><circle cx="363.3" cy="364.0" r="1.25" fill="#004bff"/><circle cx="362.5" cy="361.2" r="1.25" fill="#0051ff"/><circle cx="383.3" cy="335.1" r="1.25" fill="#0069ff"/><circle cx="359.3" cy="358.8" r="1.25" fill="#005dff"/><circle cx="387.1" cy="339.1" r="1.25" fill="#0051ff"/><circle cx="353.3" cy="336.9" r="1.25" fill="#0098ff"/><circle cx="351.4" cy="354.1" r="1.25" fill="#006eff"/><circle cx="380.0" cy="350.6" r="1.25" fill="#0045ff"/><circle cx="366.0" cy="351.2" r="1.25" fill="#0063ff"/><circle cx="377.7" cy="342.8" r="1.25" fill="#005dff"/><circle cx="384.3" cy="336.3" r="1.25" fill="#0063ff"/><circle cx="367.9" cy="358.6" r="1.25" fill="#004bff"/><circle cx="376.2" cy="347.5" r="1.25" fill="#0057ff"/><circle cx="368.2" cy="334.5" r="1.25" fill="#008cff"/><circle cx="371.0" cy="347.6" r="1.25" fill="#0063ff"/><circle cx="379.5" cy="326.6" r="1.25" fill="#0092ff"/><circle cx="377.5" cy="334.6" r="1.25" fill="#007aff"/><circle cx="376.4" cy="330.9" r="1.25" fill="#0086ff"/><circle cx="360.2" cy="345.7" r="1.25" fill="#0074ff"/><circle cx="370.1" cy="357.1" r="1.25" fill="#004bff"/><circle cx="345.2" cy="338.9" r="1.25" fill="#009eff"/><circle cx="361.8" cy="351.9" r="1.25" fill="#0069ff"/><circle cx="376.9" cy="341.0" r="1.25" fill="#0069ff"/><circle cx="380.9" cy="331.2" r="1.25" fill="#007aff"/><circle cx="384.8" cy="336.5" r="1.25" fill="#0063ff"/><circle cx="354.4" cy="360.4" r="1.25" fill="#0063ff"/><circle cx="368.4" cy="349.1" r="1.25" fill="#0063ff"/><circle cx="354.9" cy="366.0" r="1.25" fill="#0057ff"/><circle cx="353.5" cy="367.4" r="1.25" fill="#0057ff"/><circle cx="382.8" cy="332.9" r="1.25" fill="#0074ff"/><circle cx="366.1" cy="348.9" r="1.25" fill="#0069ff"/><circle cx="371.7" cy="353.6" r="1.25" fill="#0051ff"/><circle cx="381.8" cy="331.2" r="1.25" fill="#007aff"/><circle cx="370.6" cy="353.4" r="1.25" fill="#0051ff"/><circle cx="374.8" cy="355.5" r="1.25" fill="#0045ff"/><circle cx="364.8" cy="359.4" r="1.25" fill="#0051ff"/><circle cx="379.5" cy="351.1" r="1.25" fill="#0045ff"/><circle cx="379.9" cy="347.4" r="1.25" fill="#0051ff"/><circle cx="371.0" cy="328.0" r="1.25" fill="#009eff"/><circle cx="343.2" cy="353.3" r="1.25" fill="#007aff"/><circle cx="376.6" cy="335.1" r="1.25" fill="#007aff"/><circle cx="384.5" cy="337.4" r="1.25" fill="#005dff"/><circle cx="371.5" cy="335.6" r="1.25" fill="#0080ff"/><circle cx="360.8" cy="335.7" r="1.25" fill="#0092ff"/><circle cx="355.0" cy="349.2" r="1.25" fill="#0074ff"/><circle cx="343.9" cy="352.4" r="1.25" fill="#007aff"/><circle cx="364.7" cy="336.0" r="1.25" fill="#008cff"/><circle cx="380.5" cy="328.8" r="1.25" fill="#0086ff"/><circle cx="347.9" cy="348.5" r="1.25" fill="#0080ff"/><circle cx="367.7" cy="337.3" r="1.25" fill="#0080ff"/><circle cx="378.5" cy="337.4" r="1.25" fill="#006eff"/><circle cx="383.1" cy="334.5" r="1.25" fill="#006eff"/><circle cx="375.8" cy="334.3" r="1.25" fill="#007aff"/><circle cx="364.1" cy="358.4" r="1.25" fill="#0057ff"/><circle cx="369.4" cy="349.5" r="1.25" fill="#005dff"/><circle cx="366.4" cy="358.5" r="1.25" fill="#0051ff"/><circle cx="377.1" cy="326.5" r="1.25" fill="#0098ff"/><circle cx="359.4" cy="359.4" r="1.25" fill="#005dff"/><circle cx="367.7" cy="362.7" r="1.25" fill="#0045ff"/><circle cx="362.6" cy="335.8" r="1.25" fill="#008cff"/><circle cx="367.7" cy="348.1" r="1.25" fill="#0063ff"/><circle cx="340.9" cy="345.3" r="1.25" fill="#0092ff"/><circle cx="378.2" cy="337.2" r="1.25" fill="#006eff"/><circle cx="381.7" cy="348.5" r="1.25" fill="#0045ff"/><circle cx="356.6" cy="335.8" r="1.25" fill="#0098ff"/><circle cx="376.8" cy="331.5" r="1.25" fill="#0086ff"/><circle cx="362.6" cy="340.4" r="1.25" fill="#0080ff"/><circle cx="360.2" cy="342.4" r="1.25" fill="#0080ff"/><circle cx="355.8" cy="370.1" r="1.25" fill="#004bff"/><circle cx="358.7" cy="366.5" r="1.25" fill="#0051ff"/><circle cx="351.0" cy="344.9" r="1.25" fill="#0086ff"/><circle cx="361.1" cy="334.4" r="1.25" fill="#0098ff"/><circle cx="377.9" cy="326.6" r="1.25" fill="#0098ff"/><circle cx="387.5" cy="341.9" r="1.25" fill="#004bff"/><circle cx="372.4" cy="347.7" r="1.25" fill="#005dff"/><circle cx="349.2" cy="336.6" r="1.25" fill="#009eff"/><circle cx="344.6" cy="340.7" r="1.25" fill="#0098ff"/><circle cx="375.3" cy="348.9" r="1.25" fill="#0057ff"/><circle cx="382.5" cy="332.7" r="1.25" fill="#0074ff"/><circle cx="385.4" cy="337.0" r="1.25" fill="#005dff"/><circle cx="350.4" cy="356.4" r="1.25" fill="#006eff"/><circle cx="384.0" cy="337.5" r="1.25" fill="#0063ff"/><circle cx="365.2" cy="353.6" r="1.25" fill="#005dff"/><circle cx="355.0" cy="345.6" r="1.25" fill="#0080ff"/><circle cx="374.4" cy="341.7" r="1.25" fill="#0069ff"/><circle cx="378.2" cy="337.6" r="1.25" fill="#006eff"/><circle cx="348.0" cy="347.9" r="1.25" fill="#0080ff"/><circle cx="355.3" cy="346.2" r="1.25" fill="#007aff"/><circle cx="378.7" cy="333.1" r="1.25" fill="#007aff"/><circle cx="339.2" cy="340.6" r="1.25" fill="#009eff"/><circle cx="352.4" cy="365.3" r="1.25" fill="#005dff"/><circle cx="383.7" cy="335.4" r="1.25" fill="#0069ff"/><circle cx="379.5" cy="327.8" r="1.25" fill="#008cff"/><circle cx="366.8" cy="348.3" r="1.25" fill="#0069ff"/><circle cx="383.8" cy="345.7" r="1.25" fill="#004bff"/><circle cx="376.4" cy="331.0" r="1.25" fill="#0086ff"/><circle cx="379.6" cy="327.4" r="1.25" fill="#0092ff"/><circle cx="373.0" cy="340.1" r="1.25" fill="#006eff"/><circle cx="345.9" cy="352.4" r="1.25" fill="#007aff"/><circle cx="351.8" cy="346.8" r="1.25" fill="#0080ff"/><circle cx="382.4" cy="334.9" r="1.25" fill="#006eff"/><circle cx="404.6" cy="326.6" r="1.25" fill="#0045ff"/><circle cx="423.1" cy="324.4" r="1.25" fill="#4900ff"/><circle cx="419.9" cy="326.8" r="1.25" fill="#2b00ff"/><circle cx="416.5" cy="338.9" r="1.25" fill="#2b00ff"/><circle cx="420.3" cy="327.1" r="1.25" fill="#3100ff"/><circle cx="401.7" cy="334.9" r="1.25" fill="#002dff"/><circle cx="422.6" cy="342.0" r="1.25" fill="#4f00ff"/><circle cx="418.3" cy="323.2" r="1.25" fill="#1300ff"/><circle cx="407.6" cy="337.3" r="1.25" fill="#020cff"/><circle cx="409.6" cy="322.5" r="1.25" fill="#003fff"/><circle cx="400.5" cy="331.2" r="1.25" fill="#003fff"/><circle cx="415.6" cy="322.4" r="1.25" fill="#0010ff"/><circle cx="414.6" cy="324.1" r="1.25" fill="#0010ff"/><circle cx="412.2" cy="332.1" r="1.25" fill="#0604ff"/><circle cx="419.8" cy="324.4" r="1.25" fill="#2500ff"/><circle cx="418.2" cy="323.2" r="1.25" fill="#0e00ff"/><circle cx="410.5" cy="336.1" r="1.25" fill="#0604ff"/><circle cx="406.1" cy="334.0" r="1.25" fill="#001cff"/><circle cx="411.0" cy="326.0" r="1.25" fill="#0022ff"/><circle cx="422.0" cy="323.7" r="1.25" fill="#3d00ff"/><circle cx="415.4" cy="331.6" r="1.25" fill="#1300ff"/><circle cx="416.7" cy="341.7" r="1.25" fill="#3100ff"/><circle cx="419.8" cy="326.6" r="1.25" fill="#2b00ff"/><circle cx="409.2" cy="327.0" r="1.25" fill="#0028ff"/><circle cx="409.8" cy="329.2" r="1.25" fill="#001cff"/><circle cx="404.4" cy="328.9" r="1.25" fill="#0039ff"/><circle cx="416.6" cy="322.5" r="1.25" fill="#0408ff"/><circle cx="401.3" cy="333.6" r="1.25" fill="#0033ff"/><circle cx="420.7" cy="340.8" r="1.25" fill="#4300ff"/><circle cx="407.3" cy="339.1" r="1.25" fill="#020cff"/><circle cx="405.5" cy="330.8" r="1.25" fill="#002dff"/><circle cx="424.0" cy="326.9" r="1.25" fill="#5400ff"/><circle cx="410.9" cy="319.6" r="1.25" fill="#004bff"/><circle cx="402.6" cy="330.6" r="1.25" fill="#0039ff"/><circle cx="416.8" cy="330.8" r="1.25" fill="#1900ff"/><circle cx="405.6" cy="328.5" r="1.25" fill="#0033ff"/><circle cx="412.4" cy="321.1" r="1.25" fill="#0033ff"/><circle cx="415.5" cy="334.1" r="1.25" fill="#1900ff"/><circle cx="419.6" cy="339.4" r="1.25" fill="#3d00ff"/><circle cx="410.4" cy="323.4" r="1.25" fill="#0033ff"/><circle cx="408.2" cy="326.4" r="1.25" fill="#0033ff"/><circle cx="400.5" cy="330.7" r="1.25" fill="#0045ff"/><circle cx="416.5" cy="338.3" r="1.25" fill="#2b00ff"/><circle cx="410.7" cy="338.8" r="1.25" fill="#0800ff"/><circle cx="420.5" cy="339.6" r="1.25" fill="#4300ff"/><circle cx="421.7" cy="326.8" r="1.25" fill="#3d00ff"/><circle cx="415.7" cy="322.0" r="1.25" fill="#0010ff"/><circle cx="420.1" cy="331.6" r="1.25" fill="#3700ff"/><circle cx="424.8" cy="328.4" r="1.25" fill="#5a00ff"/><circle cx="409.6" cy="337.2" r="1.25" fill="#0604ff"/><circle cx="424.2" cy="338.2" r="1.25" fill="#5a00ff"/><circle cx="421.6" cy="341.9" r="1.25" fill="#4900ff"/><circle cx="408.9" cy="330.2" r="1.25" fill="#001cff"/><circle cx="404.2" cy="328.2" r="1.25" fill="#003fff"/><circle cx="424.0" cy="332.7" r="1.25" fill="#5400ff"/><circle cx="407.2" cy="327.7" r="1.25" fill="#0033ff"/><circle cx="407.3" cy="324.9" r="1.25" fill="#003fff"/><circle cx="408.2" cy="324.4" r="1.25" fill="#0039ff"/><circle cx="420.3" cy="337.5" r="1.25" fill="#3d00ff"/><circle cx="422.0" cy="331.5" r="1.25" fill="#4900ff"/><circle cx="430.7" cy="321.7" r="1.25" fill="#bf00ff"/><circle cx="442.0" cy="329.7" r="1.25" fill="#fc00f5"/><circle cx="430.8" cy="323.5" r="1.25" fill="#b300ff"/><circle cx="431.0" cy="321.8" r="1.25" fill="#bf00ff"/><circle cx="426.6" cy="323.1" r="1.25" fill="#7800ff"/><circle cx="431.0" cy="323.3" r="1.25" fill="#b900ff"/><circle cx="443.4" cy="330.1" r="1.25" fill="#ff00ed"/><circle cx="443.1" cy="328.3" r="1.25" fill="#ff00e7"/><circle cx="427.7" cy="327.3" r="1.25" fill="#7e00ff"/><circle cx="443.2" cy="329.3" r="1.25" fill="#ff00ed"/><circle cx="440.1" cy="333.0" r="1.25" fill="#e800ff"/><circle cx="425.7" cy="325.6" r="1.25" fill="#6600ff"/><circle cx="437.4" cy="341.0" r="1.25" fill="#b900ff"/><circle cx="445.1" cy="327.9" r="1.25" fill="#ff00d5"/><circle cx="428.4" cy="322.2" r="1.25" fill="#9500ff"/><circle cx="435.6" cy="328.4" r="1.25" fill="#d600ff"/><circle cx="438.3" cy="320.7" r="1.25" fill="#ff00db"/><circle cx="427.6" cy="321.9" r="1.25" fill="#8a00ff"/><circle cx="425.8" cy="342.0" r="1.25" fill="#6600ff"/><circle cx="436.9" cy="320.4" r="1.25" fill="#ff00e7"/><circle cx="425.4" cy="335.3" r="1.25" fill="#6000ff"/><circle cx="430.9" cy="335.8" r="1.25" fill="#9500ff"/><circle cx="447.5" cy="331.8" r="1.25" fill="#ff00db"/><circle cx="431.6" cy="335.4" r="1.25" fill="#9b00ff"/><circle cx="432.8" cy="339.7" r="1.25" fill="#9b00ff"/><circle cx="432.6" cy="343.1" r="1.25" fill="#9500ff"/><circle cx="444.6" cy="339.2" r="1.25" fill="#ee00ff"/><circle cx="435.9" cy="345.0" r="1.25" fill="#a700ff"/><circle cx="434.3" cy="324.8" r="1.25" fill="#dc00ff"/><circle cx="435.9" cy="325.5" r="1.25" fill="#e800ff"/><circle cx="426.5" cy="322.4" r="1.25" fill="#7800ff"/><circle cx="434.6" cy="324.3" r="1.25" fill="#e200ff"/><circle cx="427.8" cy="341.0" r="1.25" fill="#7200ff"/><circle cx="428.8" cy="340.2" r="1.25" fill="#7e00ff"/><circle cx="430.0" cy="329.1" r="1.25" fill="#9b00ff"/><circle cx="449.6" cy="333.2" r="1.25" fill="#ff00db"/><circle cx="450.2" cy="338.7" r="1.25" fill="#ff00ed"/><circle cx="443.3" cy="341.5" r="1.25" fill="#e200ff"/><circle cx="438.9" cy="332.0" r="1.25" fill="#e200ff"/><circle cx="431.1" cy="329.2" r="1.25" fill="#a100ff"/><circle cx="434.0" cy="324.7" r="1.25" fill="#d600ff"/><circle cx="443.3" cy="339.0" r="1.25" fill="#e800ff"/><circle cx="435.9" cy="323.1" r="1.25" fill="#f800fd"/><circle cx="425.5" cy="329.7" r="1.25" fill="#6600ff"/><circle cx="437.5" cy="341.0" r="1.25" fill="#b900ff"/><circle cx="436.6" cy="331.2" r="1.25" fill="#d000ff"/><circle cx="438.2" cy="331.5" r="1.25" fill="#e200ff"/><circle cx="439.7" cy="330.8" r="1.25" fill="#ee00ff"/><circle cx="433.7" cy="324.6" r="1.25" fill="#d600ff"/><circle cx="427.5" cy="331.5" r="1.25" fill="#7800ff"/><circle cx="450.9" cy="336.9" r="1.25" fill="#ff00e1"/><circle cx="431.7" cy="334.5" r="1.25" fill="#9b00ff"/><circle cx="435.3" cy="329.8" r="1.25" fill="#cb00ff"/><circle cx="430.0" cy="341.1" r="1.25" fill="#8400ff"/><circle cx="426.4" cy="326.3" r="1.25" fill="#7200ff"/><circle cx="429.3" cy="325.3" r="1.25" fill="#9b00ff"/><circle cx="427.6" cy="323.0" r="1.25" fill="#8a00ff"/><circle cx="432.7" cy="323.4" r="1.25" fill="#d000ff"/><circle cx="439.5" cy="332.2" r="1.25" fill="#e800ff"/><circle cx="437.6" cy="329.5" r="1.25" fill="#e200ff"/><circle cx="435.2" cy="325.4" r="1.25" fill="#e200ff"/><circle cx="436.6" cy="336.4" r="1.25" fill="#bf00ff"/><circle cx="430.7" cy="339.3" r="1.25" fill="#8a00ff"/><circle cx="443.3" cy="342.8" r="1.25" fill="#dc00ff"/><circle cx="438.3" cy="331.3" r="1.25" fill="#e200ff"/><circle cx="437.4" cy="323.9" r="1.25" fill="#fc00f5"/><circle cx="432.4" cy="330.3" r="1.25" fill="#ad00ff"/><circle cx="443.3" cy="334.0" r="1.25" fill="#f800fd"/><circle cx="430.9" cy="346.0" r="1.25" fill="#8400ff"/><circle cx="444.0" cy="325.4" r="1.25" fill="#ff00cf"/><circle cx="446.6" cy="327.7" r="1.25" fill="#ff00c9"/><circle cx="430.2" cy="322.5" r="1.25" fill="#b300ff"/><circle cx="425.4" cy="335.7" r="1.25" fill="#6000ff"/><circle cx="441.3" cy="331.7" r="1.25" fill="#f800fd"/><circle cx="439.8" cy="326.8" r="1.25" fill="#fc00f5"/><circle cx="441.6" cy="331.1" r="1.25" fill="#fa00f9"/><circle cx="438.7" cy="331.1" r="1.25" fill="#e800ff"/><circle cx="439.5" cy="331.0" r="1.25" fill="#ee00ff"/><circle cx="427.3" cy="338.0" r="1.25" fill="#7200ff"/><circle cx="438.3" cy="327.5" r="1.25" fill="#f400ff"/><circle cx="453.0" cy="306.6" r="1.25" fill="#ff0600"/><circle cx="448.0" cy="323.5" r="1.25" fill="#ff00ac"/><circle cx="441.9" cy="315.2" r="1.25" fill="#ff0082"/><circle cx="444.6" cy="307.6" r="1.25" fill="#ff001e"/><circle cx="444.0" cy="310.3" r="1.25" fill="#ff0041"/><circle cx="466.7" cy="322.5" r="1.25" fill="#ff0065"/><circle cx="455.3" cy="332.3" r="1.25" fill="#ff00b7"/><circle cx="456.4" cy="337.0" r="1.25" fill="#ff00c9"/><circle cx="452.0" cy="307.8" r="1.25" fill="#ff0018"/><circle cx="451.3" cy="313.6" r="1.25" fill="#ff004d"/><circle cx="444.3" cy="320.8" r="1.25" fill="#ff00ac"/><circle cx="461.7" cy="323.1" r="1.25" fill="#ff0076"/><circle cx="447.9" cy="325.0" r="1.25" fill="#ff00b1"/><circle cx="452.7" cy="318.1" r="1.25" fill="#ff0071"/><circle cx="456.3" cy="311.0" r="1.25" fill="#ff0030"/><circle cx="462.4" cy="327.9" r="1.25" fill="#ff0088"/><circle cx="446.0" cy="312.7" r="1.25" fill="#ff0053"/><circle cx="462.9" cy="320.0" r="1.25" fill="#ff005f"/><circle cx="449.3" cy="328.5" r="1.25" fill="#ff00c3"/><circle cx="445.7" cy="314.7" r="1.25" fill="#ff006b"/><circle cx="441.6" cy="318.8" r="1.25" fill="#ff00ac"/><circle cx="448.8" cy="317.1" r="1.25" fill="#ff0076"/><circle cx="446.0" cy="312.7" r="1.25" fill="#ff0053"/><circle cx="451.6" cy="314.1" r="1.25" fill="#ff0053"/><circle cx="462.8" cy="312.0" r="1.25" fill="#ff0030"/><circle cx="461.5" cy="330.8" r="1.25" fill="#ff009a"/><circle cx="447.3" cy="314.2" r="1.25" fill="#ff005f"/><circle cx="454.4" cy="325.4" r="1.25" fill="#ff009a"/><circle cx="456.1" cy="320.6" r="1.25" fill="#ff0076"/><circle cx="458.5" cy="328.1" r="1.25" fill="#ff009a"/><circle cx="459.0" cy="328.0" r="1.25" fill="#ff0094"/><circle cx="448.2" cy="316.9" r="1.25" fill="#ff0076"/><circle cx="452.7" cy="315.4" r="1.25" fill="#ff0059"/><circle cx="453.6" cy="316.5" r="1.25" fill="#ff005f"/><circle cx="461.3" cy="307.3" r="1.25" fill="#ff0000"/><circle cx="458.7" cy="335.1" r="1.25" fill="#ff00b7"/><circle cx="437.1" cy="317.7" r="1.25" fill="#ff00c9"/><circle cx="447.0" cy="309.1" r="1.25" fill="#ff002a"/><circle cx="439.2" cy="319.4" r="1.25" fill="#ff00c3"/><circle cx="461.6" cy="321.2" r="1.25" fill="#ff006b"/><circle cx="438.9" cy="319.4" r="1.25" fill="#ff00c3"/><circle cx="437.0" cy="317.7" r="1.25" fill="#ff00c9"/><circle cx="449.3" cy="320.4" r="1.25" fill="#ff008e"/><circle cx="458.2" cy="306.7" r="1.25" fill="#ff0600"/><circle cx="456.2" cy="309.5" r="1.25" fill="#ff0024"/><circle cx="459.0" cy="308.3" r="1.25" fill="#ff0018"/><circle cx="445.6" cy="319.9" r="1.25" fill="#ff009a"/><circle cx="441.6" cy="313.1" r="1.25" fill="#ff006b"/><circle cx="453.1" cy="307.6" r="1.25" fill="#ff0018"/><circle cx="448.0" cy="322.6" r="1.25" fill="#ff00a6"/><circle cx="446.9" cy="309.3" r="1.25" fill="#ff0030"/><circle cx="441.7" cy="311.5" r="1.25" fill="#ff0059"/><circle cx="441.5" cy="317.1" r="1.25" fill="#ff009a"/><circle cx="456.9" cy="319.0" r="1.25" fill="#ff006b"/><circle cx="453.4" cy="325.6" r="1.25" fill="#ff00a0"/><circle cx="459.6" cy="317.6" r="1.25" fill="#ff0059"/><circle cx="448.8" cy="306.0" r="1.25" fill="#ff0600"/><circle cx="452.3" cy="306.0" r="1.25" fill="#ff0c00"/><circle cx="443.2" cy="313.3" r="1.25" fill="#ff0065"/><circle cx="449.9" cy="327.7" r="1.25" fill="#ff00b7"/><circle cx="437.6" cy="316.6" r="1.25" fill="#ff00b7"/><circle cx="447.5" cy="325.6" r="1.25" fill="#ff00b7"/><circle cx="442.6" cy="318.8" r="1.25" fill="#ff00a6"/><circle cx="451.6" cy="310.8" r="1.25" fill="#ff0035"/><circle cx="451.8" cy="327.2" r="1.25" fill="#ff00ac"/><circle cx="457.4" cy="306.0" r="1.25" fill="#ff0600"/><circle cx="452.0" cy="318.5" r="1.25" fill="#ff0076"/><circle cx="463.4" cy="315.0" r="1.25" fill="#ff0041"/><circle cx="446.1" cy="309.5" r="1.25" fill="#ff0030"/><circle cx="442.6" cy="309.0" r="1.25" fill="#ff0035"/><circle cx="447.3" cy="324.1" r="1.25" fill="#ff00b1"/><circle cx="449.5" cy="324.1" r="1.25" fill="#ff00a6"/><circle cx="461.4" cy="328.8" r="1.25" fill="#ff0094"/><circle cx="459.9" cy="322.6" r="1.25" fill="#ff0076"/><circle cx="452.2" cy="307.1" r="1.25" fill="#ff0000"/><circle cx="452.9" cy="311.0" r="1.25" fill="#ff0035"/><circle cx="441.4" cy="314.3" r="1.25" fill="#ff007c"/><circle cx="465.8" cy="317.1" r="1.25" fill="#ff004d"/><circle cx="447.6" cy="311.6" r="1.25" fill="#ff0047"/><circle cx="447.7" cy="314.8" r="1.25" fill="#ff0065"/><circle cx="458.1" cy="323.1" r="1.25" fill="#ff007c"/><circle cx="445.0" cy="325.6" r="1.25" fill="#ff00c9"/><circle cx="442.5" cy="313.0" r="1.25" fill="#ff0065"/><circle cx="446.1" cy="310.4" r="1.25" fill="#ff003b"/><circle cx="444.1" cy="315.6" r="1.25" fill="#ff007c"/><circle cx="450.2" cy="314.2" r="1.25" fill="#ff0059"/><circle cx="450.6" cy="312.4" r="1.25" fill="#ff0047"/><circle cx="454.8" cy="311.0" r="1.25" fill="#ff0030"/><circle cx="446.7" cy="324.2" r="1.25" fill="#ff00b7"/><circle cx="444.0" cy="318.5" r="1.25" fill="#ff009a"/><circle cx="453.0" cy="307.0" r="1.25" fill="#ff0000"/><circle cx="443.7" cy="309.8" r="1.25" fill="#ff003b"/><circle cx="442.5" cy="311.1" r="1.25" fill="#ff004d"/><circle cx="440.1" cy="316.5" r="1.25" fill="#ff00a0"/><circle cx="455.1" cy="334.9" r="1.25" fill="#ff00c3"/><circle cx="449.7" cy="306.6" r="1.25" fill="#ff0000"/><circle cx="450.7" cy="331.1" r="1.25" fill="#ff00c9"/><circle cx="441.1" cy="310.3" r="1.25" fill="#ff0047"/><circle cx="441.9" cy="309.0" r="1.25" fill="#ff0035"/><circle cx="455.9" cy="327.1" r="1.25" fill="#ff009a"/><circle cx="445.7" cy="309.7" r="1.25" fill="#ff0035"/><circle cx="460.4" cy="320.3" r="1.25" fill="#ff0065"/><circle cx="453.0" cy="314.9" r="1.25" fill="#ff0053"/><circle cx="438.8" cy="316.1" r="1.25" fill="#ff00a6"/><circle cx="448.6" cy="323.4" r="1.25" fill="#ff00a6"/><circle cx="451.1" cy="314.5" r="1.25" fill="#ff0059"/><circle cx="454.3" cy="314.5" r="1.25" fill="#ff004d"/><circle cx="450.0" cy="313.0" r="1.25" fill="#ff004d"/><circle cx="454.4" cy="309.6" r="1.25" fill="#ff002a"/><circle cx="469.3" cy="310.1" r="1.25" fill="#ff001e"/><circle cx="461.9" cy="310.9" r="1.25" fill="#ff002a"/><circle cx="454.3" cy="313.2" r="1.25" fill="#ff0047"/><circle cx="439.9" cy="315.9" r="1.25" fill="#ff009a"/><circle cx="445.7" cy="311.5" r="1.25" fill="#ff0047"/><circle cx="453.7" cy="314.9" r="1.25" fill="#ff0053"/><circle cx="450.3" cy="314.0" r="1.25" fill="#ff0053"/><circle cx="444.0" cy="318.8" r="1.25" fill="#ff009a"/><circle cx="464.9" cy="315.6" r="1.25" fill="#ff0041"/><circle cx="445.0" cy="317.7" r="1.25" fill="#ff008e"/><circle cx="449.1" cy="317.0" r="1.25" fill="#ff0071"/><circle cx="460.2" cy="316.4" r="1.25" fill="#ff004d"/><circle cx="462.9" cy="312.9" r="1.25" fill="#ff0035"/><circle cx="468.0" cy="315.3" r="1.25" fill="#ff003b"/><circle cx="449.5" cy="317.2" r="1.25" fill="#ff0071"/><circle cx="447.4" cy="312.2" r="1.25" fill="#ff004d"/><circle cx="450.9" cy="309.4" r="1.25" fill="#ff002a"/><circle cx="452.5" cy="315.9" r="1.25" fill="#ff005f"/><circle cx="439.2" cy="313.6" r="1.25" fill="#ff0082"/><circle cx="448.5" cy="320.9" r="1.25" fill="#ff0094"/><circle cx="443.7" cy="306.6" r="1.25" fill="#ff0000"/><circle cx="468.9" cy="309.3" r="1.25" fill="#ff001e"/><circle cx="447.0" cy="309.5" r="1.25" fill="#ff0030"/><circle cx="454.3" cy="334.4" r="1.25" fill="#ff00c3"/><circle cx="442.0" cy="321.1" r="1.25" fill="#ff00bd"/><circle cx="459.0" cy="307.5" r="1.25" fill="#ff0000"/><circle cx="463.9" cy="311.3" r="1.25" fill="#ff002a"/><circle cx="448.0" cy="323.2" r="1.25" fill="#ff00a6"/><circle cx="444.0" cy="322.3" r="1.25" fill="#ff00b7"/><circle cx="460.8" cy="320.9" r="1.25" fill="#ff006b"/><circle cx="453.7" cy="323.8" r="1.25" fill="#ff0094"/><circle cx="382.8" cy="255.2" r="1.25" fill="#00ff2d"/><circle cx="390.1" cy="255.9" r="1.25" fill="#00ff1b"/><circle cx="388.3" cy="257.8" r="1.25" fill="#00ff21"/><circle cx="390.5" cy="257.1" r="1.25" fill="#00ff1b"/><circle cx="393.1" cy="258.2" r="1.25" fill="#00ff16"/><circle cx="396.7" cy="257.4" r="1.25" fill="#04ff08"/><circle cx="383.0" cy="260.9" r="1.25" fill="#00ff39"/><circle cx="384.3" cy="261.3" r="1.25" fill="#00ff39"/><circle cx="386.1" cy="262.2" r="1.25" fill="#00ff33"/><circle cx="388.7" cy="261.8" r="1.25" fill="#00ff2d"/><circle cx="392.7" cy="261.8" r="1.25" fill="#00ff1b"/><circle cx="395.4" cy="260.9" r="1.25" fill="#00ff10"/><circle cx="397.1" cy="264.0" r="1.25" fill="#00ff16"/><circle cx="379.0" cy="260.9" r="1.25" fill="#00ff45"/><circle cx="372.8" cy="261.8" r="1.25" fill="#00ff57"/><circle cx="376.4" cy="265.8" r="1.25" fill="#00ff5c"/><circle cx="374.6" cy="267.5" r="1.25" fill="#00ff62"/><circle cx="376.8" cy="268.4" r="1.25" fill="#00ff62"/><circle cx="380.3" cy="270.2" r="1.25" fill="#00ff5c"/><circle cx="375.5" cy="270.2" r="1.25" fill="#00ff68"/><circle cx="373.3" cy="271.9" r="1.25" fill="#00ff74"/><circle cx="376.4" cy="273.3" r="1.25" fill="#00ff74"/><circle cx="370.6" cy="266.5" r="1.25" fill="#00ff68"/><circle cx="367.5" cy="274.0" r="1.25" fill="#00ff86"/><circle cx="372.4" cy="275.0" r="1.25" fill="#00ff80"/><circle cx="379.9" cy="274.1" r="1.25" fill="#00ff6e"/><circle cx="383.4" cy="275.0" r="1.25" fill="#00ff68"/><circle cx="386.5" cy="273.7" r="1.25" fill="#00ff57"/><circle cx="389.2" cy="272.8" r="1.25" fill="#00ff4b"/><circle cx="390.9" cy="275.5" r="1.25" fill="#00ff51"/><circle cx="394.5" cy="272.8" r="1.25" fill="#00ff39"/><circle cx="396.7" cy="271.9" r="1.25" fill="#00ff2d"/><circle cx="392.7" cy="277.2" r="1.25" fill="#00ff51"/><circle cx="389.2" cy="278.1" r="1.25" fill="#00ff62"/><circle cx="358.2" cy="277.7" r="1.25" fill="#00ffa3"/><circle cx="362.7" cy="276.2" r="1.25" fill="#00ff97"/><circle cx="353.7" cy="264.2" r="1.25" fill="#00ff80"/><circle cx="349.4" cy="267.5" r="1.25" fill="#00ff92"/><circle cx="346.8" cy="269.3" r="1.25" fill="#00ff97"/><circle cx="351.6" cy="270.2" r="1.25" fill="#00ff92"/><circle cx="354.5" cy="268.8" r="1.25" fill="#00ff8c"/><circle cx="358.0" cy="269.3" r="1.25" fill="#00ff8c"/><circle cx="345.4" cy="264.9" r="1.25" fill="#00ff8c"/><circle cx="386.5" cy="264.0" r="1.25" fill="#00ff39"/><circle cx="390.5" cy="264.9" r="1.25" fill="#00ff2d"/><circle cx="392.7" cy="267.5" r="1.25" fill="#00ff2d"/><circle cx="394.5" cy="269.3" r="1.25" fill="#00ff2d"/><circle cx="389.2" cy="268.4" r="1.25" fill="#00ff3f"/><circle cx="397.1" cy="278.1" r="1.25" fill="#00ff45"/><circle cx="384.8" cy="278.1" r="1.25" fill="#00ff6e"/><circle cx="369.7" cy="278.1" r="1.25" fill="#00ff92"/><circle cx="365.3" cy="281.6" r="1.25" fill="#00ffa3"/><circle cx="368.9" cy="280.8" r="1.25" fill="#00ff9d"/><circle cx="373.3" cy="282.5" r="1.25" fill="#00ff9d"/><circle cx="376.8" cy="280.8" r="1.25" fill="#00ff8c"/><circle cx="380.3" cy="281.6" r="1.25" fill="#00ff8c"/><circle cx="383.9" cy="283.4" r="1.25" fill="#00ff86"/><circle cx="387.4" cy="281.6" r="1.25" fill="#00ff7a"/><circle cx="390.9" cy="280.8" r="1.25" fill="#00ff68"/><circle cx="394.5" cy="282.5" r="1.25" fill="#00ff62"/><circle cx="367.1" cy="284.3" r="1.25" fill="#00ffa9"/><circle cx="371.5" cy="285.2" r="1.25" fill="#00ffa9"/><circle cx="375.0" cy="286.1" r="1.25" fill="#00ffa9"/><circle cx="378.6" cy="285.2" r="1.25" fill="#00ff9d"/><circle cx="382.1" cy="286.9" r="1.25" fill="#00ff9d"/><circle cx="385.6" cy="286.1" r="1.25" fill="#00ff92"/><circle cx="389.2" cy="285.2" r="1.25" fill="#00ff86"/><circle cx="392.7" cy="286.9" r="1.25" fill="#00ff80"/><circle cx="363.6" cy="286.1" r="1.25" fill="#00ffb5"/><circle cx="365.3" cy="287.8" r="1.25" fill="#00ffbb"/><circle cx="370.6" cy="288.7" r="1.25" fill="#00ffb5"/><circle cx="358.2" cy="288.7" r="1.25" fill="#00ffc7"/><circle cx="360.9" cy="288.7" r="1.25" fill="#00ffc1"/><circle cx="359.1" cy="290.5" r="1.25" fill="#00ffcd"/><circle cx="373.3" cy="287.8" r="1.25" fill="#00ffaf"/><circle cx="377.7" cy="290.5" r="1.25" fill="#00ffb5"/><circle cx="381.2" cy="289.6" r="1.25" fill="#00ffa9"/><circle cx="384.8" cy="289.6" r="1.25" fill="#00ffa3"/><circle cx="388.3" cy="288.7" r="1.25" fill="#00ff97"/><circle cx="368.9" cy="292.2" r="1.25" fill="#00ffc7"/><circle cx="373.3" cy="293.1" r="1.25" fill="#00ffc7"/><circle cx="378.6" cy="294.0" r="1.25" fill="#00ffc7"/><circle cx="383.0" cy="292.2" r="1.25" fill="#00ffb5"/><circle cx="385.6" cy="294.0" r="1.25" fill="#00ffbb"/><circle cx="364.4" cy="292.2" r="1.25" fill="#00ffcd"/><circle cx="363.6" cy="295.8" r="1.25" fill="#00ffd8"/><circle cx="367.1" cy="296.7" r="1.25" fill="#00ffde"/><circle cx="373.3" cy="297.6" r="1.25" fill="#00ffde"/><circle cx="379.4" cy="296.7" r="1.25" fill="#00ffd3"/><circle cx="383.0" cy="299.3" r="1.25" fill="#00ffde"/><circle cx="385.6" cy="298.4" r="1.25" fill="#00ffd3"/><circle cx="362.7" cy="299.3" r="1.25" fill="#00ffea"/><circle cx="365.3" cy="298.4" r="1.25" fill="#00ffe4"/><circle cx="375.9" cy="300.2" r="1.25" fill="#00ffe4"/><circle cx="378.6" cy="301.1" r="1.25" fill="#00ffea"/><circle cx="382.1" cy="302.0" r="1.25" fill="#00ffea"/><circle cx="384.8" cy="303.7" r="1.25" fill="#00fff6"/><circle cx="369.7" cy="302.0" r="1.25" fill="#00fff0"/><circle cx="371.5" cy="302.9" r="1.25" fill="#00fff6"/><circle cx="362.7" cy="304.6" r="1.25" fill="#00fffc"/><circle cx="364.4" cy="304.6" r="1.25" fill="#00fffc"/><circle cx="368.0" cy="305.5" r="1.25" fill="#00fcff"/><circle cx="380.3" cy="304.6" r="1.25" fill="#00fffc"/><circle cx="383.9" cy="304.6" r="1.25" fill="#00fffc"/><circle cx="386.5" cy="305.5" r="1.25" fill="#00fcff"/><circle cx="349.0" cy="297.6" r="1.25" fill="#00ffea"/><circle cx="348.5" cy="303.7" r="1.25" fill="#00fffc"/><circle cx="351.2" cy="304.6" r="1.25" fill="#00fffc"/><circle cx="353.4" cy="305.1" r="1.25" fill="#00fcff"/><circle cx="345.4" cy="309.9" r="1.25" fill="#00f0ff"/><circle cx="361.8" cy="308.1" r="1.25" fill="#00f0ff"/><circle cx="366.2" cy="308.1" r="1.25" fill="#00f0ff"/><circle cx="369.7" cy="309.0" r="1.25" fill="#00f0ff"/><circle cx="373.3" cy="309.9" r="1.25" fill="#00eaff"/><circle cx="376.8" cy="308.1" r="1.25" fill="#00f0ff"/><circle cx="380.3" cy="309.0" r="1.25" fill="#00eaff"/><circle cx="383.9" cy="308.1" r="1.25" fill="#00f0ff"/><circle cx="386.5" cy="309.0" r="1.25" fill="#00eaff"/><circle cx="362.7" cy="311.7" r="1.25" fill="#00e5ff"/><circle cx="368.0" cy="312.6" r="1.25" fill="#00dfff"/><circle cx="371.5" cy="313.4" r="1.25" fill="#00d9ff"/><circle cx="375.9" cy="314.3" r="1.25" fill="#00d3ff"/><circle cx="379.4" cy="312.6" r="1.25" fill="#00d9ff"/><circle cx="383.0" cy="311.7" r="1.25" fill="#00d9ff"/><circle cx="386.5" cy="313.4" r="1.25" fill="#00cdff"/><circle cx="363.6" cy="316.1" r="1.25" fill="#00d3ff"/><circle cx="367.1" cy="315.2" r="1.25" fill="#00d3ff"/><circle cx="369.7" cy="317.0" r="1.25" fill="#00cdff"/><circle cx="372.4" cy="316.1" r="1.25" fill="#00cdff"/><circle cx="376.8" cy="317.9" r="1.25" fill="#00c1ff"/><circle cx="381.2" cy="317.0" r="1.25" fill="#00c1ff"/><circle cx="384.8" cy="316.1" r="1.25" fill="#00c1ff"/><circle cx="388.3" cy="316.1" r="1.25" fill="#00bbff"/><circle cx="356.5" cy="316.1" r="1.25" fill="#00d9ff"/><circle cx="360.9" cy="316.5" r="1.25" fill="#00d3ff"/><circle cx="363.6" cy="319.6" r="1.25" fill="#00c7ff"/><circle cx="366.2" cy="318.8" r="1.25" fill="#00c7ff"/><circle cx="370.6" cy="320.5" r="1.25" fill="#00bbff"/><circle cx="374.1" cy="321.4" r="1.25" fill="#00b5ff"/><circle cx="378.6" cy="320.5" r="1.25" fill="#00afff"/><circle cx="381.2" cy="319.6" r="1.25" fill="#00afff"/><circle cx="385.6" cy="318.8" r="1.25" fill="#00afff"/><circle cx="356.0" cy="322.3" r="1.25" fill="#00c1ff"/><circle cx="359.1" cy="320.5" r="1.25" fill="#00c7ff"/><circle cx="362.7" cy="323.2" r="1.25" fill="#00bbff"/><circle cx="366.2" cy="324.1" r="1.25" fill="#00b5ff"/><circle cx="368.9" cy="324.1" r="1.25" fill="#00afff"/><circle cx="357.4" cy="325.8" r="1.25" fill="#00b5ff"/><circle cx="360.9" cy="326.7" r="1.25" fill="#00afff"/><circle cx="351.6" cy="324.9" r="1.25" fill="#00bbff"/><circle cx="355.6" cy="327.6" r="1.25" fill="#00afff"/><circle cx="361.8" cy="328.5" r="1.25" fill="#00aaff"/><circle cx="365.3" cy="327.6" r="1.25" fill="#00aaff"/><circle cx="390.1" cy="314.3" r="1.25" fill="#00c1ff"/><circle cx="392.7" cy="312.6" r="1.25" fill="#00cdff"/><circle cx="394.5" cy="311.7" r="1.25" fill="#00cdff"/><circle cx="397.1" cy="310.8" r="1.25" fill="#00d3ff"/><circle cx="390.9" cy="309.0" r="1.25" fill="#00e5ff"/><circle cx="394.5" cy="308.1" r="1.25" fill="#00eaff"/><circle cx="389.2" cy="305.5" r="1.25" fill="#00fcff"/><circle cx="392.7" cy="305.5" r="1.25" fill="#00fcff"/><circle cx="396.2" cy="305.5" r="1.25" fill="#00fcff"/><circle cx="390.9" cy="301.1" r="1.25" fill="#00ffde"/><circle cx="394.5" cy="302.9" r="1.25" fill="#00ffea"/><circle cx="397.1" cy="301.1" r="1.25" fill="#00ffd8"/><circle cx="347.6" cy="339.1" r="1.25" fill="#0098ff"/><circle cx="351.2" cy="338.2" r="1.25" fill="#0098ff"/><circle cx="354.7" cy="335.5" r="1.25" fill="#0098ff"/><circle cx="359.1" cy="336.4" r="1.25" fill="#0092ff"/><circle cx="346.8" cy="342.6" r="1.25" fill="#0092ff"/><circle cx="350.3" cy="341.7" r="1.25" fill="#008cff"/><circle cx="353.8" cy="343.5" r="1.25" fill="#0086ff"/><circle cx="357.4" cy="345.2" r="1.25" fill="#007aff"/><circle cx="347.6" cy="347.9" r="1.25" fill="#0080ff"/><circle cx="350.3" cy="348.8" r="1.25" fill="#007aff"/><circle cx="353.8" cy="347.0" r="1.25" fill="#007aff"/><circle cx="356.5" cy="352.3" r="1.25" fill="#006eff"/><circle cx="360.0" cy="352.3" r="1.25" fill="#0069ff"/><circle cx="362.7" cy="351.4" r="1.25" fill="#0069ff"/><circle cx="349.4" cy="354.1" r="1.25" fill="#0074ff"/><circle cx="352.9" cy="356.7" r="1.25" fill="#0069ff"/><circle cx="357.4" cy="355.9" r="1.25" fill="#0063ff"/><circle cx="360.9" cy="355.0" r="1.25" fill="#0063ff"/><circle cx="364.4" cy="354.1" r="1.25" fill="#005dff"/><circle cx="346.8" cy="359.4" r="1.25" fill="#006eff"/><circle cx="350.3" cy="362.0" r="1.25" fill="#0063ff"/><circle cx="352.9" cy="363.8" r="1.25" fill="#005dff"/><circle cx="355.6" cy="360.3" r="1.25" fill="#005dff"/><circle cx="360.9" cy="360.3" r="1.25" fill="#0057ff"/><circle cx="362.7" cy="364.7" r="1.25" fill="#004bff"/><circle cx="345.9" cy="363.8" r="1.25" fill="#0069ff"/><circle cx="353.8" cy="368.2" r="1.25" fill="#0051ff"/><circle cx="357.4" cy="367.3" r="1.25" fill="#0051ff"/><circle cx="359.1" cy="369.1" r="1.25" fill="#004bff"/><circle cx="348.5" cy="370.0" r="1.25" fill="#0057ff"/><circle cx="354.7" cy="371.8" r="1.25" fill="#004bff"/><circle cx="356.5" cy="372.6" r="1.25" fill="#004bff"/><circle cx="360.9" cy="371.8" r="1.25" fill="#0045ff"/><circle cx="364.4" cy="369.1" r="1.25" fill="#003fff"/><circle cx="364.9" cy="373.1" r="1.25" fill="#0039ff"/><circle cx="368.9" cy="368.7" r="1.25" fill="#0039ff"/><circle cx="356.5" cy="375.7" r="1.25" fill="#0045ff"/><circle cx="346.8" cy="379.7" r="1.25" fill="#004bff"/><circle cx="375.9" cy="357.6" r="1.25" fill="#003fff"/><circle cx="374.1" cy="362.0" r="1.25" fill="#0039ff"/><circle cx="379.0" cy="354.5" r="1.25" fill="#003fff"/><circle cx="382.1" cy="352.3" r="1.25" fill="#003fff"/><circle cx="390.5" cy="351.0" r="1.25" fill="#0028ff"/><circle cx="396.2" cy="347.9" r="1.25" fill="#0022ff"/><circle cx="396.2" cy="353.2" r="1.25" fill="#0016ff"/><circle cx="394.5" cy="355.9" r="1.25" fill="#0016ff"/><circle cx="393.6" cy="357.2" r="1.25" fill="#0016ff"/><circle cx="396.2" cy="341.3" r="1.25" fill="#002dff"/><circle cx="367.1" cy="355.9" r="1.25" fill="#0057ff"/><circle cx="370.6" cy="357.6" r="1.25" fill="#004bff"/><circle cx="419.2" cy="229.4" r="1.25" fill="#84ff00"/><circle cx="436.4" cy="230.4" r="1.25" fill="#bfff00"/><circle cx="438.2" cy="230.9" r="1.25" fill="#c5ff00"/><circle cx="436.0" cy="226.4" r="1.25" fill="#bfff00"/><circle cx="432.0" cy="234.8" r="1.25" fill="#b3ff00"/><circle cx="421.4" cy="246.5" r="1.25" fill="#8aff00"/><circle cx="421.1" cy="252.9" r="1.25" fill="#84ff00"/><circle cx="421.1" cy="255.6" r="1.25" fill="#84ff00"/><circle cx="424.3" cy="256.9" r="1.25" fill="#96ff00"/><circle cx="421.7" cy="260.6" r="1.25" fill="#84ff00"/><circle cx="421.9" cy="264.0" r="1.25" fill="#84ff00"/><circle cx="424.1" cy="266.2" r="1.25" fill="#96ff00"/><circle cx="422.0" cy="270.2" r="1.25" fill="#84ff00"/><circle cx="422.6" cy="271.9" r="1.25" fill="#84ff00"/><circle cx="423.6" cy="278.1" r="1.25" fill="#90ff00"/><circle cx="428.5" cy="249.8" r="1.25" fill="#adff00"/><circle cx="431.6" cy="249.8" r="1.25" fill="#b9ff00"/><circle cx="438.6" cy="256.5" r="1.25" fill="#e2ff00"/><circle cx="441.3" cy="257.4" r="1.25" fill="#eeff00"/><circle cx="442.6" cy="258.7" r="1.25" fill="#f4ff00"/><circle cx="448.4" cy="260.9" r="1.25" fill="#ffec00"/><circle cx="442.6" cy="265.3" r="1.25" fill="#faf900"/><circle cx="436.4" cy="267.5" r="1.25" fill="#e2ff00"/><circle cx="439.1" cy="268.4" r="1.25" fill="#f4ff00"/><circle cx="442.2" cy="269.3" r="1.25" fill="#fef100"/><circle cx="440.4" cy="274.6" r="1.25" fill="#ffec00"/><circle cx="441.7" cy="275.9" r="1.25" fill="#ffe000"/><circle cx="398.9" cy="257.8" r="1.25" fill="#08ff00"/><circle cx="398.9" cy="263.1" r="1.25" fill="#02ff0c"/><circle cx="400.6" cy="264.9" r="1.25" fill="#04ff08"/><circle cx="399.8" cy="267.5" r="1.25" fill="#00ff10"/><circle cx="402.4" cy="269.3" r="1.25" fill="#02ff0c"/><circle cx="404.6" cy="270.2" r="1.25" fill="#04ff08"/><circle cx="399.3" cy="271.9" r="1.25" fill="#00ff21"/><circle cx="402.9" cy="273.7" r="1.25" fill="#00ff16"/><circle cx="406.8" cy="275.5" r="1.25" fill="#02ff0c"/><circle cx="408.6" cy="277.2" r="1.25" fill="#04ff08"/><circle cx="405.1" cy="278.1" r="1.25" fill="#00ff1b"/><circle cx="398.9" cy="277.2" r="1.25" fill="#00ff39"/><circle cx="429.8" cy="239.2" r="1.25" fill="#adff00"/><circle cx="432.4" cy="238.4" r="1.25" fill="#b9ff00"/><circle cx="436.0" cy="237.5" r="1.25" fill="#c5ff00"/><circle cx="437.8" cy="237.5" r="1.25" fill="#cbff00"/><circle cx="438.2" cy="240.1" r="1.25" fill="#cbff00"/><circle cx="428.9" cy="241.5" r="1.25" fill="#adff00"/><circle cx="432.0" cy="242.3" r="1.25" fill="#b9ff00"/><circle cx="435.1" cy="241.5" r="1.25" fill="#c5ff00"/><circle cx="436.9" cy="243.7" r="1.25" fill="#cbff00"/><circle cx="433.3" cy="244.1" r="1.25" fill="#bfff00"/><circle cx="429.8" cy="245.0" r="1.25" fill="#adff00"/><circle cx="436.9" cy="247.2" r="1.25" fill="#d1ff00"/><circle cx="436.0" cy="249.0" r="1.25" fill="#cbff00"/><circle cx="434.2" cy="239.7" r="1.25" fill="#bfff00"/><circle cx="431.1" cy="240.6" r="1.25" fill="#b3ff00"/><circle cx="422.7" cy="280.8" r="1.25" fill="#7eff00"/><circle cx="423.2" cy="284.3" r="1.25" fill="#84ff00"/><circle cx="423.6" cy="287.8" r="1.25" fill="#84ff00"/><circle cx="423.2" cy="291.4" r="1.25" fill="#78ff00"/><circle cx="423.6" cy="294.9" r="1.25" fill="#78ff00"/><circle cx="424.1" cy="299.3" r="1.25" fill="#72ff00"/><circle cx="424.5" cy="302.9" r="1.25" fill="#6cff00"/><circle cx="436.0" cy="282.5" r="1.25" fill="#fef100"/><circle cx="436.9" cy="283.4" r="1.25" fill="#ffe600"/><circle cx="431.6" cy="286.1" r="1.25" fill="#eeff00"/><circle cx="432.4" cy="290.5" r="1.25" fill="#fef100"/><circle cx="429.8" cy="294.9" r="1.25" fill="#fcf500"/><circle cx="428.9" cy="298.4" r="1.25" fill="#ffe600"/><circle cx="428.0" cy="289.6" r="1.25" fill="#cbff00"/><circle cx="399.8" cy="332.9" r="1.25" fill="#003fff"/><circle cx="401.5" cy="332.4" r="1.25" fill="#0039ff"/><circle cx="398.9" cy="335.5" r="1.25" fill="#0039ff"/><circle cx="403.3" cy="334.6" r="1.25" fill="#0028ff"/><circle cx="410.4" cy="333.8" r="1.25" fill="#0408ff"/><circle cx="413.9" cy="333.3" r="1.25" fill="#0e00ff"/><circle cx="418.3" cy="332.9" r="1.25" fill="#2b00ff"/><circle cx="420.1" cy="335.5" r="1.25" fill="#3d00ff"/><circle cx="421.9" cy="334.6" r="1.25" fill="#4900ff"/><circle cx="424.5" cy="333.8" r="1.25" fill="#5a00ff"/><circle cx="427.1" cy="332.9" r="1.25" fill="#7200ff"/><circle cx="428.9" cy="334.6" r="1.25" fill="#8400ff"/><circle cx="421.0" cy="337.7" r="1.25" fill="#4300ff"/><circle cx="423.6" cy="336.0" r="1.25" fill="#5400ff"/><circle cx="434.2" cy="333.8" r="1.25" fill="#b300ff"/><circle cx="436.0" cy="335.5" r="1.25" fill="#bf00ff"/><circle cx="438.6" cy="332.9" r="1.25" fill="#dc00ff"/><circle cx="442.2" cy="332.4" r="1.25" fill="#f800fd"/><circle cx="443.9" cy="333.8" r="1.25" fill="#fa00f9"/><circle cx="431.6" cy="338.2" r="1.25" fill="#9500ff"/><circle cx="434.2" cy="337.3" r="1.25" fill="#ad00ff"/><circle cx="430.7" cy="340.8" r="1.25" fill="#8a00ff"/><circle cx="436.0" cy="339.9" r="1.25" fill="#b300ff"/><circle cx="442.2" cy="337.3" r="1.25" fill="#e800ff"/><circle cx="445.7" cy="337.3" r="1.25" fill="#fa00f9"/><circle cx="447.5" cy="338.2" r="1.25" fill="#fc00f5"/><circle cx="443.9" cy="341.7" r="1.25" fill="#e200ff"/><circle cx="441.3" cy="343.5" r="1.25" fill="#d000ff"/><circle cx="442.2" cy="346.1" r="1.25" fill="#cb00ff"/><circle cx="438.2" cy="347.0" r="1.25" fill="#b300ff"/><circle cx="437.3" cy="348.8" r="1.25" fill="#ad00ff"/><circle cx="440.0" cy="348.3" r="1.25" fill="#b900ff"/><circle cx="441.3" cy="349.7" r="1.25" fill="#bf00ff"/><circle cx="445.7" cy="348.3" r="1.25" fill="#dc00ff"/><circle cx="449.2" cy="347.9" r="1.25" fill="#ee00ff"/><circle cx="446.1" cy="350.6" r="1.25" fill="#d600ff"/><circle cx="443.9" cy="353.2" r="1.25" fill="#c500ff"/><circle cx="439.5" cy="353.2" r="1.25" fill="#ad00ff"/><circle cx="440.4" cy="351.9" r="1.25" fill="#b900ff"/><circle cx="417.0" cy="340.8" r="1.25" fill="#3100ff"/><circle cx="414.3" cy="342.6" r="1.25" fill="#2500ff"/><circle cx="418.3" cy="342.6" r="1.25" fill="#3700ff"/><circle cx="421.4" cy="343.5" r="1.25" fill="#4900ff"/><circle cx="422.7" cy="342.6" r="1.25" fill="#4f00ff"/><circle cx="428.0" cy="343.9" r="1.25" fill="#7200ff"/><circle cx="399.8" cy="339.9" r="1.25" fill="#0028ff"/><circle cx="405.9" cy="341.7" r="1.25" fill="#020cff"/><circle cx="406.8" cy="344.4" r="1.25" fill="#0604ff"/><circle cx="411.2" cy="345.2" r="1.25" fill="#1900ff"/><circle cx="400.2" cy="346.6" r="1.25" fill="#0016ff"/><circle cx="401.1" cy="347.0" r="1.25" fill="#0010ff"/><circle cx="459.8" cy="231.7" r="1.25" fill="#fef100"/><circle cx="471.5" cy="270.9" r="1.25" fill="#ff8200"/><circle cx="483.9" cy="270.2" r="1.25" fill="#ff7000"/><circle cx="486.2" cy="267.8" r="1.25" fill="#ff7000"/><circle cx="485.6" cy="274.4" r="1.25" fill="#ff6400"/><circle cx="461.4" cy="278.1" r="1.25" fill="#ff8200"/><circle cx="472.2" cy="277.1" r="1.25" fill="#ff7000"/><circle cx="473.1" cy="278.1" r="1.25" fill="#ff6a00"/><circle cx="477.9" cy="278.6" r="1.25" fill="#ff6400"/><circle cx="470.0" cy="278.6" r="1.25" fill="#ff7000"/><circle cx="459.8" cy="279.9" r="1.25" fill="#ff8200"/><circle cx="463.4" cy="281.6" r="1.25" fill="#ff7000"/><circle cx="469.6" cy="279.9" r="1.25" fill="#ff6a00"/><circle cx="474.9" cy="279.9" r="1.25" fill="#ff6400"/><circle cx="477.5" cy="280.3" r="1.25" fill="#ff5f00"/><circle cx="481.9" cy="281.2" r="1.25" fill="#ff5900"/><circle cx="501.4" cy="280.3" r="1.25" fill="#ff4700"/><circle cx="468.7" cy="283.4" r="1.25" fill="#ff6400"/><circle cx="456.3" cy="282.5" r="1.25" fill="#ff8200"/><circle cx="453.6" cy="284.3" r="1.25" fill="#ff8200"/><circle cx="476.6" cy="285.6" r="1.25" fill="#ff4d00"/><circle cx="480.1" cy="286.9" r="1.25" fill="#ff4700"/><circle cx="481.9" cy="289.2" r="1.25" fill="#ff4100"/><circle cx="477.5" cy="290.0" r="1.25" fill="#ff4100"/><circle cx="471.3" cy="287.8" r="1.25" fill="#ff4d00"/><circle cx="466.9" cy="289.6" r="1.25" fill="#ff4d00"/><circle cx="464.2" cy="292.2" r="1.25" fill="#ff4700"/><circle cx="469.6" cy="291.8" r="1.25" fill="#ff4100"/><circle cx="472.2" cy="291.4" r="1.25" fill="#ff4100"/><circle cx="466.9" cy="295.8" r="1.25" fill="#ff3500"/><circle cx="469.6" cy="295.8" r="1.25" fill="#ff3500"/><circle cx="473.1" cy="297.6" r="1.25" fill="#ff2900"/><circle cx="475.7" cy="299.3" r="1.25" fill="#ff2300"/><circle cx="478.4" cy="294.5" r="1.25" fill="#ff2f00"/><circle cx="480.1" cy="296.7" r="1.25" fill="#ff2900"/><circle cx="481.9" cy="297.1" r="1.25" fill="#ff2300"/><circle cx="491.6" cy="294.0" r="1.25" fill="#ff2900"/><circle cx="492.5" cy="295.3" r="1.25" fill="#ff2900"/><circle cx="489.4" cy="297.6" r="1.25" fill="#ff2300"/><circle cx="493.8" cy="298.4" r="1.25" fill="#ff1e00"/><circle cx="493.8" cy="300.6" r="1.25" fill="#ff1800"/><circle cx="486.8" cy="300.2" r="1.25" fill="#ff1e00"/><circle cx="480.1" cy="299.3" r="1.25" fill="#ff1e00"/><circle cx="470.4" cy="302.4" r="1.25" fill="#ff1800"/><circle cx="465.1" cy="300.2" r="1.25" fill="#ff2300"/><circle cx="461.6" cy="297.6" r="1.25" fill="#ff3500"/><circle cx="458.9" cy="300.2" r="1.25" fill="#ff2900"/><circle cx="466.9" cy="302.9" r="1.25" fill="#ff1800"/><circle cx="470.0" cy="308.1" r="1.25" fill="#ff0000"/><circle cx="474.4" cy="309.5" r="1.25" fill="#ff0018"/><circle cx="478.4" cy="306.4" r="1.25" fill="#ff0600"/><circle cx="481.0" cy="307.3" r="1.25" fill="#ff0600"/><circle cx="484.6" cy="307.3" r="1.25" fill="#ff0600"/><circle cx="486.3" cy="309.0" r="1.25" fill="#ff0000"/><circle cx="485.4" cy="312.1" r="1.25" fill="#ff0024"/><circle cx="479.3" cy="314.8" r="1.25" fill="#ff0030"/><circle cx="482.4" cy="317.0" r="1.25" fill="#ff0035"/><circle cx="481.9" cy="318.8" r="1.25" fill="#ff0041"/><circle cx="474.4" cy="318.8" r="1.25" fill="#ff0047"/><circle cx="470.4" cy="320.1" r="1.25" fill="#ff0053"/><circle cx="468.2" cy="322.7" r="1.25" fill="#ff0065"/><circle cx="470.9" cy="321.8" r="1.25" fill="#ff0059"/><circle cx="465.1" cy="317.9" r="1.25" fill="#ff004d"/><circle cx="461.6" cy="319.6" r="1.25" fill="#ff005f"/><circle cx="462.5" cy="314.3" r="1.25" fill="#ff0041"/><circle cx="458.9" cy="316.1" r="1.25" fill="#ff0053"/><circle cx="463.4" cy="325.8" r="1.25" fill="#ff007c"/><circle cx="459.8" cy="324.1" r="1.25" fill="#ff007c"/><circle cx="468.7" cy="328.9" r="1.25" fill="#ff0082"/><circle cx="464.2" cy="331.1" r="1.25" fill="#ff0094"/><circle cx="493.4" cy="331.1" r="1.25" fill="#ff005f"/><circle cx="452.8" cy="317.0" r="1.25" fill="#ff0065"/><circle cx="453.6" cy="323.2" r="1.25" fill="#ff008e"/><circle cx="454.5" cy="328.5" r="1.25" fill="#ff00ac"/><circle cx="456.3" cy="334.2" r="1.25" fill="#ff00bd"/><circle cx="459.8" cy="335.5" r="1.25" fill="#ff00b7"/><circle cx="458.9" cy="337.3" r="1.25" fill="#ff00bd"/><circle cx="455.4" cy="338.6" r="1.25" fill="#ff00d5"/><circle cx="452.8" cy="341.3" r="1.25" fill="#ff00ed"/><circle cx="456.3" cy="342.2" r="1.25" fill="#ff00db"/><circle cx="460.3" cy="343.5" r="1.25" fill="#ff00d5"/><circle cx="462.9" cy="341.3" r="1.25" fill="#ff00c3"/><circle cx="463.4" cy="345.7" r="1.25" fill="#ff00cf"/><circle cx="465.6" cy="345.7" r="1.25" fill="#ff00c9"/><circle cx="469.1" cy="343.0" r="1.25" fill="#ff00b7"/><circle cx="473.1" cy="340.4" r="1.25" fill="#ff00a0"/><circle cx="480.9" cy="342.8" r="1.25" fill="#ff009a"/><circle cx="464.7" cy="332.9" r="1.25" fill="#ff009a"/><circle cx="468.2" cy="334.5" r="1.25" fill="#ff009a"/><circle cx="456.3" cy="345.2" r="1.25" fill="#ff00e7"/><circle cx="456.3" cy="352.3" r="1.25" fill="#fa00f9"/><circle cx="453.2" cy="361.1" r="1.25" fill="#dc00ff"/><circle cx="464.2" cy="362.9" r="1.25" fill="#fa00f9"/><circle cx="465.6" cy="366.0" r="1.25" fill="#fa00f9"/><circle cx="455.9" cy="370.4" r="1.25" fill="#d600ff"/><circle cx="471.8" cy="382.5" r="1.25" fill="#f400ff"/><circle cx="493.8" cy="332.4" r="1.25" fill="#ff0065"/><circle cx="255.0" cy="252.0" r="1.25" fill="#00ffb5"/><circle cx="274.7" cy="253.6" r="1.25" fill="#00ffaf"/><circle cx="282.8" cy="249.9" r="1.25" fill="#00ffa9"/><circle cx="284.8" cy="282.7" r="1.25" fill="#00ffd8"/><circle cx="293.1" cy="282.9" r="1.25" fill="#00ffd8"/><circle cx="291.7" cy="293.5" r="1.25" fill="#00ffea"/><circle cx="309.7" cy="299.0" r="1.25" fill="#00fff6"/><circle cx="277.0" cy="307.0" r="1.25" fill="#00fcff"/><circle cx="301.9" cy="307.2" r="1.25" fill="#00f6ff"/><circle cx="282.9" cy="311.2" r="1.25" fill="#00f0ff"/><circle cx="273.2" cy="322.4" r="1.25" fill="#00dfff"/><circle cx="254.5" cy="357.8" r="1.25" fill="#00b5ff"/><circle cx="238.5" cy="369.4" r="1.25" fill="#00aaff"/><circle cx="263.5" cy="376.9" r="1.25" fill="#0098ff"/><circle cx="242.1" cy="385.2" r="1.25" fill="#0098ff"/><circle cx="246.2" cy="396.8" r="1.25" fill="#008cff"/><circle cx="307.9" cy="356.0" r="1.25" fill="#0098ff"/><circle cx="291.6" cy="362.5" r="1.25" fill="#0098ff"/><circle cx="298.9" cy="361.2" r="1.25" fill="#0098ff"/><circle cx="302.6" cy="364.9" r="1.25" fill="#008cff"/><circle cx="298.9" cy="367.0" r="1.25" fill="#008cff"/><circle cx="289.5" cy="369.3" r="1.25" fill="#0092ff"/><circle cx="291.2" cy="374.3" r="1.25" fill="#0086ff"/><circle cx="293.7" cy="375.2" r="1.25" fill="#0086ff"/><circle cx="309.6" cy="371.4" r="1.25" fill="#0080ff"/><circle cx="309.6" cy="377.1" r="1.25" fill="#0074ff"/><circle cx="293.7" cy="382.3" r="1.25" fill="#007aff"/><circle cx="297.7" cy="383.0" r="1.25" fill="#007aff"/><circle cx="304.6" cy="385.4" r="1.25" fill="#006eff"/><circle cx="306.0" cy="385.6" r="1.25" fill="#006eff"/><circle cx="292.7" cy="387.4" r="1.25" fill="#0074ff"/><circle cx="294.3" cy="389.4" r="1.25" fill="#0074ff"/><circle cx="281.9" cy="392.0" r="1.25" fill="#007aff"/><circle cx="282.8" cy="399.3" r="1.25" fill="#006eff"/><circle cx="278.0" cy="412.1" r="1.25" fill="#0069ff"/><circle cx="309.3" cy="409.0" r="1.25" fill="#0051ff"/><circle cx="291.6" cy="421.6" r="1.25" fill="#0057ff"/><circle cx="265.7" cy="427.2" r="1.25" fill="#0063ff"/><circle cx="272.3" cy="434.9" r="1.25" fill="#0057ff"/><circle cx="288.6" cy="433.3" r="1.25" fill="#004bff"/><circle cx="263.1" cy="442.4" r="1.25" fill="#0057ff"/><circle cx="301.9" cy="444.1" r="1.25" fill="#0039ff"/><circle cx="321.6" cy="245.2" r="1.25" fill="#00ff80"/><circle cx="337.9" cy="254.8" r="1.25" fill="#00ff80"/><circle cx="322.0" cy="266.3" r="1.25" fill="#00ffa9"/><circle cx="334.1" cy="264.0" r="1.25" fill="#00ff97"/><circle cx="341.4" cy="263.8" r="1.25" fill="#00ff92"/><circle cx="338.9" cy="270.0" r="1.25" fill="#00ffa3"/><circle cx="343.7" cy="269.6" r="1.25" fill="#00ff9d"/><circle cx="343.1" cy="276.2" r="1.25" fill="#00ffaf"/><circle cx="313.0" cy="285.6" r="1.25" fill="#00ffd8"/><circle cx="318.2" cy="287.7" r="1.25" fill="#00ffd8"/><circle cx="338.9" cy="292.8" r="1.25" fill="#00ffde"/><circle cx="338.2" cy="298.9" r="1.25" fill="#00fff0"/><circle cx="315.1" cy="315.2" r="1.25" fill="#00e5ff"/><circle cx="339.3" cy="319.4" r="1.25" fill="#00d3ff"/><circle cx="311.1" cy="299.5" r="1.25" fill="#00fff6"/><circle cx="323.9" cy="329.9" r="1.25" fill="#00c1ff"/><circle cx="322.5" cy="340.8" r="1.25" fill="#00aaff"/><circle cx="340.7" cy="328.2" r="1.25" fill="#00bbff"/><circle cx="342.6" cy="330.2" r="1.25" fill="#00b5ff"/><circle cx="313.5" cy="353.3" r="1.25" fill="#0098ff"/><circle cx="319.9" cy="352.6" r="1.25" fill="#0098ff"/><circle cx="322.5" cy="349.3" r="1.25" fill="#0098ff"/><circle cx="333.8" cy="345.8" r="1.25" fill="#0098ff"/><circle cx="338.3" cy="342.7" r="1.25" fill="#0098ff"/><circle cx="335.8" cy="350.5" r="1.25" fill="#008cff"/><circle cx="338.3" cy="351.9" r="1.25" fill="#0086ff"/><circle cx="334.8" cy="349.0" r="1.25" fill="#0092ff"/><circle cx="339.0" cy="354.0" r="1.25" fill="#0080ff"/><circle cx="330.1" cy="356.6" r="1.25" fill="#0086ff"/><circle cx="328.4" cy="358.2" r="1.25" fill="#0080ff"/><circle cx="331.2" cy="359.4" r="1.25" fill="#0080ff"/><circle cx="319.9" cy="362.1" r="1.25" fill="#0086ff"/><circle cx="319.5" cy="366.2" r="1.25" fill="#0080ff"/><circle cx="323.5" cy="367.9" r="1.25" fill="#0074ff"/><circle cx="324.9" cy="368.4" r="1.25" fill="#0074ff"/><circle cx="328.4" cy="366.5" r="1.25" fill="#0074ff"/><circle cx="331.2" cy="365.3" r="1.25" fill="#0074ff"/><circle cx="330.5" cy="369.6" r="1.25" fill="#006eff"/><circle cx="340.0" cy="359.0" r="1.25" fill="#0074ff"/><circle cx="343.7" cy="363.9" r="1.25" fill="#0069ff"/><circle cx="344.7" cy="369.9" r="1.25" fill="#005dff"/><circle cx="337.2" cy="376.7" r="1.25" fill="#005dff"/><circle cx="342.9" cy="376.2" r="1.25" fill="#0057ff"/><circle cx="323.0" cy="376.9" r="1.25" fill="#0069ff"/><circle cx="329.8" cy="383.0" r="1.25" fill="#005dff"/><circle cx="315.7" cy="385.2" r="1.25" fill="#0069ff"/><circle cx="318.5" cy="384.0" r="1.25" fill="#0063ff"/><circle cx="334.5" cy="386.3" r="1.25" fill="#0051ff"/><circle cx="339.5" cy="386.6" r="1.25" fill="#004bff"/><circle cx="342.6" cy="385.2" r="1.25" fill="#004bff"/><circle cx="343.7" cy="387.7" r="1.25" fill="#0045ff"/><circle cx="322.0" cy="390.1" r="1.25" fill="#005dff"/><circle cx="326.7" cy="394.7" r="1.25" fill="#0051ff"/><circle cx="327.7" cy="393.7" r="1.25" fill="#0051ff"/><circle cx="340.2" cy="397.9" r="1.25" fill="#003fff"/><circle cx="359.2" cy="396.2" r="1.25" fill="#0028ff"/><circle cx="314.0" cy="401.0" r="1.25" fill="#0057ff"/><circle cx="331.7" cy="401.9" r="1.25" fill="#0045ff"/><circle cx="310.7" cy="371.7" r="1.25" fill="#007aff"/><circle cx="317.8" cy="405.4" r="1.25" fill="#004bff"/><circle cx="310.7" cy="409.0" r="1.25" fill="#0051ff"/><circle cx="325.3" cy="410.0" r="1.25" fill="#003fff"/><circle cx="319.2" cy="413.9" r="1.25" fill="#0045ff"/><circle cx="321.1" cy="416.1" r="1.25" fill="#003fff"/><circle cx="324.9" cy="415.6" r="1.25" fill="#0039ff"/><circle cx="354.5" cy="410.8" r="1.25" fill="#001cff"/><circle cx="434.7" cy="166.0" r="1.25" fill="#adff00"/><circle cx="448.0" cy="164.6" r="1.25" fill="#c5ff00"/><circle cx="445.6" cy="174.1" r="1.25" fill="#c5ff00"/><circle cx="443.9" cy="176.1" r="1.25" fill="#bfff00"/><circle cx="446.7" cy="175.5" r="1.25" fill="#c5ff00"/><circle cx="442.0" cy="182.0" r="1.25" fill="#bfff00"/><circle cx="449.1" cy="182.7" r="1.25" fill="#cbff00"/><circle cx="438.1" cy="185.4" r="1.25" fill="#b9ff00"/><circle cx="443.2" cy="185.8" r="1.25" fill="#bfff00"/><circle cx="445.7" cy="186.6" r="1.25" fill="#c5ff00"/><circle cx="448.8" cy="207.1" r="1.25" fill="#d7ff00"/><circle cx="451.0" cy="205.2" r="1.25" fill="#ddff00"/><circle cx="464.8" cy="209.9" r="1.25" fill="#faf900"/><circle cx="432.4" cy="211.8" r="1.25" fill="#adff00"/><circle cx="440.8" cy="214.9" r="1.25" fill="#c5ff00"/><circle cx="439.8" cy="219.1" r="1.25" fill="#c5ff00"/><circle cx="441.2" cy="220.1" r="1.25" fill="#cbff00"/><circle cx="418.8" cy="223.4" r="1.25" fill="#84ff00"/><circle cx="434.7" cy="222.2" r="1.25" fill="#b9ff00"/><circle cx="432.8" cy="224.2" r="1.25" fill="#b3ff00"/><circle cx="397.0" cy="391.1" r="1.25" fill="#1900ff"/><circle cx="404.1" cy="386.9" r="1.25" fill="#2b00ff"/><circle cx="433.2" cy="381.2" r="1.25" fill="#7e00ff"/><circle cx="426.2" cy="369.9" r="1.25" fill="#6000ff"/><circle cx="439.2" cy="366.8" r="1.25" fill="#9b00ff"/><circle cx="433.0" cy="364.3" r="1.25" fill="#8400ff"/><circle cx="433.5" cy="361.1" r="1.25" fill="#8a00ff"/><circle cx="443.9" cy="361.8" r="1.25" fill="#b900ff"/><circle cx="445.7" cy="362.2" r="1.25" fill="#bf00ff"/><circle cx="416.0" cy="362.8" r="1.25" fill="#3d00ff"/><circle cx="419.1" cy="361.4" r="1.25" fill="#4900ff"/><circle cx="412.4" cy="358.7" r="1.25" fill="#2b00ff"/><circle cx="403.1" cy="358.5" r="1.25" fill="#0e00ff"/><circle cx="411.3" cy="354.0" r="1.25" fill="#2500ff"/><circle cx="418.8" cy="353.3" r="1.25" fill="#4300ff"/><circle cx="405.3" cy="352.6" r="1.25" fill="#0e00ff"/><circle cx="417.0" cy="335.6" r="1.25" fill="#2500ff"/><circle cx="431.6" cy="356.6" r="1.25" fill="#8400ff"/><circle cx="437.5" cy="357.1" r="1.25" fill="#a100ff"/><circle cx="428.7" cy="351.2" r="1.25" fill="#7200ff"/><circle cx="432.5" cy="349.8" r="1.25" fill="#9000ff"/><circle cx="443.2" cy="350.5" r="1.25" fill="#cb00ff"/><circle cx="441.0" cy="341.2" r="1.25" fill="#d000ff"/><circle cx="434.0" cy="339.8" r="1.25" fill="#a700ff"/><circle cx="437.5" cy="338.4" r="1.25" fill="#c500ff"/><circle cx="549.8" cy="228.9" r="1.25" fill="#ff7000"/><circle cx="514.4" cy="265.9" r="1.25" fill="#ff5900"/><circle cx="529.9" cy="294.8" r="1.25" fill="#ff1e00"/><circle cx="534.1" cy="294.5" r="1.25" fill="#ff1e00"/></g><g fill="none" stroke="#b0b0b0" stroke-width="1.11"><circle cx="425.00" cy="305.90" r="37.43"/><circle cx="425.00" cy="305.90" r="74.87"/><circle cx="425.00" cy="305.90" r="112.30"/><circle cx="425.00" cy="305.90" r="149.73"/><circle cx="425.00" cy="305.90" r="187.17"/><circle cx="425.00" cy="305.90" r="224.60"/><line x1="425.00" y1="306.5" x2="659.00" y2="306.5"/><line x1="425.00" y1="305.90" x2="590.46" y2="140.44"/><line x1="425.5" y1="305.90" x2="425.5" y2="71.90"/><line x1="425.00" y1="305.90" x2="259.54" y2="140.44"/><line x1="425.00" y1="306.5" x2="191.00" y2="306.5"/><line x1="425.00" y1="305.90" x2="259.54" y2="471.36"/><line x1="425.5" y1="305.90" x2="425.5" y2="539.90"/><line x1="425.00" y1="305.90" x2="590.46" y2="471.36"/></g><text x="239.53" y="39.50" font-size="17.00" textLength="370.45" lengthAdjust="spacingAndGlyphs">Scaled Volatility per timeseries (logarithmic)</text><text x="413.98" y="57.00" font-size="13.89" textLength="23.14" lengthAdjust="spacingAndGlyphs">90°</text><text x="593.26" y="131.00" font-size="13.89" textLength="22.64" lengthAdjust="spacingAndGlyphs">45°</text><text x="229.91" y="131.00" font-size="13.89" textLength="32.33" lengthAdjust="spacingAndGlyphs">135°</text><text x="154.81" y="310.00" font-size="13.89" textLength="32.22" lengthAdjust="spacingAndGlyphs">180°</text><text x="228.79" y="489.10" font-size="13.89" textLength="33.49" lengthAdjust="spacingAndGlyphs">225°</text><text x="408.00" y="562.80" font-size="13.89" textLength="32.96" lengthAdjust="spacingAndGlyphs">270°</text><text x="588.21" y="489.00" font-size="13.89" textLength="32.02" lengthAdjust="spacingAndGlyphs">315°</text><text x="671.21" y="309.90" font-size="13.89" textLength="14.50" lengthAdjust="spacingAndGlyphs">0°</text><text x="460.07" y="289.00" font-size="13.89" textLength="8.06" lengthAdjust="spacingAndGlyphs">2</text><text x="495.15" y="274.00" font-size="13.89" textLength="8.39" lengthAdjust="spacingAndGlyphs">4</text><text x="529.19" y="260.00" font-size="13.89" textLength="8.92" lengthAdjust="spacingAndGlyphs">6</text><text x="563.11" y="246.00" font-size="13.89" textLength="8.77" lengthAdjust="spacingAndGlyphs">8</text><text x="599.18" y="231.00" font-size="13.89" textLength="16.40" lengthAdjust="spacingAndGlyphs">10</text><text x="633.22" y="217.00" font-size="13.89" textLength="15.80" lengthAdjust="spacingAndGlyphs">12</text><circle cx="425.00" cy="305.90" r="234.00" fill="none" stroke="#000" stroke-width="1.11"/><rect x="666.5" y="56.5" width="300" height="380" rx="2.8" ry="2.8" fill="#fff" fill-opacity="0.8" stroke="#cccccc" stroke-width="1"/><rect x="672.60" y="63.00" width="26.4" height="8.8" fill="#ff0000"/><text x="710.48" y="71.80" font-size="13.89" textLength="29.88" lengthAdjust="spacingAndGlyphs">AME</text><rect x="672.60" y="83.94" width="26.4" height="8.8" fill="#ff1e00"/><text x="710.62" y="92.73" font-size="13.89" textLength="28.57" lengthAdjust="spacingAndGlyphs">BKN</text><rect x="672.60" y="104.88" width="26.4" height="8.8" fill="#ff3b00"/><text x="710.65" y="113.67" font-size="13.89" textLength="25.68" lengthAdjust="spacingAndGlyphs">BLS</text><rect x="672.60" y="125.82" width="26.4" height="8.8" fill="#ff5900"/><text x="710.64" y="134.60" font-size="13.89" textLength="22.11" lengthAdjust="spacingAndGlyphs">BSI</text><rect x="672.60" y="146.76" width="26.4" height="8.8" fill="#ff7600"/><text x="710.67" y="155.54" font-size="13.89" textLength="26.68" lengthAdjust="spacingAndGlyphs">BSP</text><rect x="672.60" y="167.70" width="26.4" height="8.8" fill="#ff9400"/><text x="710.46" y="176.47" font-size="13.89" textLength="38.03" lengthAdjust="spacingAndGlyphs">CBD2</text><rect x="672.60" y="188.64" width="26.4" height="8.8" fill="#ffb100"/><text x="710.51" y="197.41" font-size="13.89" textLength="27.88" lengthAdjust="spacingAndGlyphs">CCP</text><rect x="672.60" y="209.58" width="26.4" height="8.8" fill="#ffcf00"/><text x="710.50" y="218.34" font-size="13.89" textLength="31.16" lengthAdjust="spacingAndGlyphs">CISS</text><rect x="672.60" y="230.52" width="26.4" height="8.8" fill="#ffec00"/><text x="710.50" y="239.28" font-size="13.89" textLength="38.08" lengthAdjust="spacingAndGlyphs">CLIFS</text><rect x="672.60" y="251.46" width="26.4" height="8.8" fill="#eeff00"/><text x="710.52" y="260.21" font-size="13.89" textLength="26.53" lengthAdjust="spacingAndGlyphs">CPP</text><rect x="672.60" y="272.40" width="26.4" height="8.8" fill="#d1ff00"/><text x="710.61" y="281.15" font-size="13.89" textLength="31.96" lengthAdjust="spacingAndGlyphs">DCM</text><rect x="672.60" y="293.34" width="26.4" height="8.8" fill="#b3ff00"/><text x="710.56" y="302.08" font-size="13.89" textLength="21.10" lengthAdjust="spacingAndGlyphs">DD</text><rect x="672.60" y="314.28" width="26.4" height="8.8" fill="#96ff00"/><text x="710.64" y="323.02" font-size="13.89" textLength="29.61" lengthAdjust="spacingAndGlyphs">EON</text><rect x="672.60" y="335.22" width="26.4" height="8.8" fill="#78ff00"/><text x="710.65" y="343.95" font-size="13.89" textLength="27.92" lengthAdjust="spacingAndGlyphs">EXR</text><rect x="672.60" y="356.16" width="26.4" height="8.8" fill="#5bff00"/><text x="710.66" y="364.89" font-size="13.89" textLength="19.46" lengthAdjust="spacingAndGlyphs">FM</text><rect x="672.60" y="377.10" width="26.4" height="8.8" fill="#3dff00"/><text x="710.67" y="385.82" font-size="13.89" textLength="26.67" lengthAdjust="spacingAndGlyphs">FVC</text><rect x="672.60" y="398.04" width="26.4" height="8.8" fill="#20ff00"/><text x="710.49" y="406.76" font-size="13.89" textLength="22.97" lengthAdjust="spacingAndGlyphs">ICB</text><rect x="672.60" y="418.98" width="26.4" height="8.8" fill="#04ff08"/><text x="710.53" y="427.69" font-size="13.89" textLength="22.27" lengthAdjust="spacingAndGlyphs">ICP</text><rect x="778.20" y="63.00" width="26.4" height="8.8" fill="#00ff21"/><text x="815.90" y="71.80" font-size="13.89" textLength="15.98" lengthAdjust="spacingAndGlyphs">IFI</text><rect x="778.20" y="83.94" width="26.4" height="8.8" fill="#00ff3f"/><text x="815.86" y="92.73" font-size="13.89" textLength="23.56" lengthAdjust="spacingAndGlyphs">ILM</text><rect x="778.20" y="104.88" width="26.4" height="8.8" fill="#00ff5c"/><text x="815.93" y="113.67" font-size="13.89" textLength="22.27" lengthAdjust="spacingAndGlyphs">IRS</text><rect x="778.20" y="125.82" width="26.4" height="8.8" fill="#00ff7a"/><text x="815.90" y="134.60" font-size="13.89" textLength="21.22" lengthAdjust="spacingAndGlyphs">IVF</text><rect x="778.20" y="146.76" width="26.4" height="8.8" fill="#00ff97"/><text x="816.06" y="155.54" font-size="13.89" textLength="22.48" lengthAdjust="spacingAndGlyphs">KRI</text><rect x="778.20" y="167.70" width="26.4" height="8.8" fill="#00ffb5"/><text x="816.03" y="176.47" font-size="13.89" textLength="22.26" lengthAdjust="spacingAndGlyphs">LIG</text><rect x="778.20" y="188.64" width="26.4" height="8.8" fill="#00ffd3"/><text x="816.03" y="197.41" font-size="13.89" textLength="23.75" lengthAdjust="spacingAndGlyphs">MFI</text><rect x="778.20" y="209.58" width="26.4" height="8.8" fill="#00fff6"/><text x="816.01" y="218.34" font-size="13.89" textLength="25.77" lengthAdjust="spacingAndGlyphs">MIR</text><rect x="778.20" y="230.52" width="26.4" height="8.8" fill="#00eaff"/><text x="816.02" y="239.28" font-size="13.89" textLength="42.45" lengthAdjust="spacingAndGlyphs">MMSR</text><rect x="778.20" y="251.46" width="26.4" height="8.8" fill="#00cdff"/><text x="815.93" y="260.21" font-size="13.89" textLength="22.78" lengthAdjust="spacingAndGlyphs">OFI</text><rect x="778.20" y="272.40" width="26.4" height="8.8" fill="#00afff"/><text x="816.10" y="281.15" font-size="13.89" textLength="25.30" lengthAdjust="spacingAndGlyphs">PFB</text><rect x="778.20" y="293.34" width="26.4" height="8.8" fill="#0092ff"/><text x="816.12" y="302.08" font-size="13.89" textLength="25.50" lengthAdjust="spacingAndGlyphs">PSS</text><rect x="778.20" y="314.28" width="26.4" height="8.8" fill="#0074ff"/><text x="816.04" y="323.02" font-size="13.89" textLength="22.92" lengthAdjust="spacingAndGlyphs">RAI</text><rect x="778.20" y="335.22" width="26.4" height="8.8" fill="#0057ff"/><text x="816.05" y="343.95" font-size="13.89" textLength="28.56" lengthAdjust="spacingAndGlyphs">RDE</text><rect x="778.20" y="356.16" width="26.4" height="8.8" fill="#0039ff"/><text x="816.05" y="364.89" font-size="13.89" textLength="27.82" lengthAdjust="spacingAndGlyphs">RDF</text><rect x="778.20" y="377.10" width="26.4" height="8.8" fill="#001cff"/><text x="816.05" y="385.82" font-size="13.89" textLength="23.38" lengthAdjust="spacingAndGlyphs">RIR</text><rect x="778.20" y="398.04" width="26.4" height="8.8" fill="#0800ff"/><text x="816.11" y="406.76" font-size="13.89" textLength="26.29" lengthAdjust="spacingAndGlyphs">RPP</text><rect x="778.20" y="418.98" width="26.4" height="8.8" fill="#2500ff"/><text x="816.08" y="427.69" font-size="13.89" textLength="27.19" lengthAdjust="spacingAndGlyphs">RPV</text><rect x="887.40" y="63.00" width="26.4" height="8.8" fill="#4300ff"/><text x="925.73" y="71.80" font-size="13.89" textLength="28.44" lengthAdjust="spacingAndGlyphs">RTD</text><rect x="887.40" y="83.94" width="26.4" height="8.8" fill="#6000ff"/><text x="925.82" y="92.73" font-size="13.89" textLength="34.44" lengthAdjust="spacingAndGlyphs">SAFE</text><rect x="887.40" y="104.88" width="26.4" height="8.8" fill="#7e00ff"/><text x="925.83" y="113.67" font-size="13.89" textLength="26.71" lengthAdjust="spacingAndGlyphs">SEC</text><rect x="887.40" y="125.82" width="26.4" height="8.8" fill="#9b00ff"/><text x="925.83" y="134.60" font-size="13.89" textLength="25.70" lengthAdjust="spacingAndGlyphs">SEE</text><rect x="887.40" y="146.76" width="26.4" height="8.8" fill="#b900ff"/><text x="925.79" y="155.54" font-size="13.89" textLength="22.98" lengthAdjust="spacingAndGlyphs">SHI</text><rect x="887.40" y="167.70" width="26.4" height="8.8" fill="#d600ff"/><text x="925.81" y="176.47" font-size="13.89" textLength="27.61" lengthAdjust="spacingAndGlyphs">SHS</text><rect x="887.40" y="188.64" width="26.4" height="8.8" fill="#f800fd"/><text x="925.84" y="197.41" font-size="13.89" textLength="24.54" lengthAdjust="spacingAndGlyphs">SPF</text><rect x="887.40" y="209.58" width="26.4" height="8.8" fill="#ff00e7"/><text x="925.82" y="218.34" font-size="13.89" textLength="21.27" lengthAdjust="spacingAndGlyphs">SSI</text><rect x="887.40" y="230.52" width="26.4" height="8.8" fill="#ff00c9"/><text x="925.83" y="239.28" font-size="13.89" textLength="25.89" lengthAdjust="spacingAndGlyphs">SSP</text><rect x="887.40" y="251.46" width="26.4" height="8.8" fill="#ff00ac"/><text x="925.80" y="260.21" font-size="13.89" textLength="26.16" lengthAdjust="spacingAndGlyphs">SST</text><rect x="887.40" y="272.40" width="26.4" height="8.8" fill="#ff008e"/><text x="925.79" y="281.15" font-size="13.89" textLength="25.24" lengthAdjust="spacingAndGlyphs">ST1</text><rect x="887.40" y="293.34" width="26.4" height="8.8" fill="#ff0071"/><text x="925.79" y="302.08" font-size="13.89" textLength="25.34" lengthAdjust="spacingAndGlyphs">ST3</text><rect x="887.40" y="314.28" width="26.4" height="8.8" fill="#ff0053"/><text x="925.82" y="323.02" font-size="13.89" textLength="25.58" lengthAdjust="spacingAndGlyphs">STP</text><rect x="887.40" y="335.22" width="26.4" height="8.8" fill="#ff0035"/><text x="925.82" y="343.95" font-size="13.89" textLength="25.63" lengthAdjust="spacingAndGlyphs">STS</text><rect x="887.40" y="356.16" width="26.4" height="8.8" fill="#ff0018"/><text x="925.14" y="364.89" font-size="13.89" textLength="28.89" lengthAdjust="spacingAndGlyphs">TGB</text><rect x="887.40" y="377.10" width="26.4" height="8.8" fill="#ff0018"/><text x="925.14" y="385.82" font-size="13.89" textLength="29.04" lengthAdjust="spacingAndGlyphs">TRD</text><rect x="887.40" y="398.04" width="26.4" height="8.8" fill="#ff0018"/><text x="925.90" y="406.76" font-size="13.89" textLength="30.49" lengthAdjust="spacingAndGlyphs">WTS</text><rect x="887.40" y="418.98" width="26.4" height="8.8" fill="#ff0018"/><text x="925.18" y="427.69" font-size="13.89" textLength="18.24" lengthAdjust="spacingAndGlyphs">YC</text></svg></body></html>
